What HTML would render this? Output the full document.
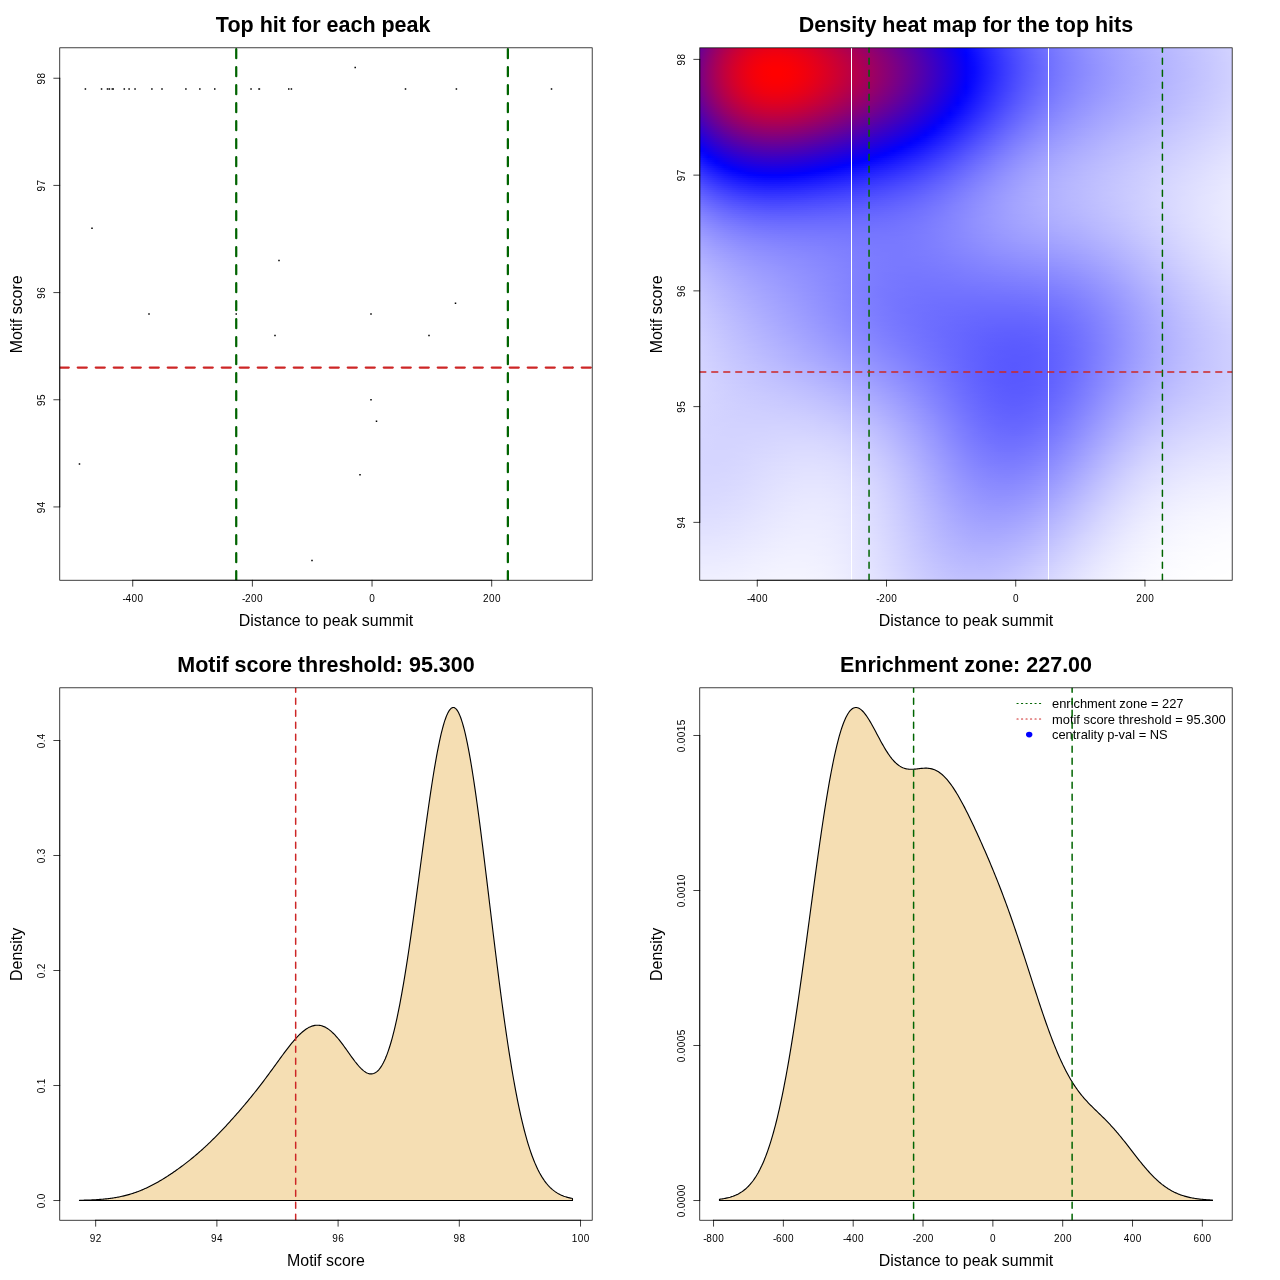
<!DOCTYPE html>
<html lang="en">
<head>
<meta charset="utf-8">
<title>Motif enrichment plots</title>
<style>
html,body{margin:0;padding:0;background:#fff}
body{width:1280px;height:1280px;position:relative;overflow:hidden;font-family:'Liberation Sans', Arial, Helvetica, sans-serif}
#hm{position:absolute;overflow:hidden}
#hm i{display:block;height:2.0016px}
svg{position:absolute;left:0;top:0}
text{font-family:'Liberation Sans', Arial, Helvetica, sans-serif;fill:#000;text-anchor:middle}
.t{font-size:10px;letter-spacing:0.44px}
.h{letter-spacing:-0.33px}
.d{letter-spacing:0.22px}
.l{font-size:15.94px}
.m{font-size:21.5px;font-weight:bold}
.g{font-size:12.9px;text-anchor:start}
</style>
</head>
<body>
<div id="hm" style="left:699.76px;top:47.81px;width:532.43px;height:532.43px"><i style="background:linear-gradient(90deg,#690096,#81007e,#980067,#ac0053,#be0041,#cd0032,#d80027,#e1001e,#e60019,#e90016,#e90016,#e70018,#e3001c,#dd0022,#d5002a,#cd0032,#c4003b,#ba0045,#b0004f,#a60059,#9c0063,#91006e,#870078,#7c0083,#70008f,#65009a,#5900a6,#4d00b2,#4000bf,#3300cc,#2500da,#1800e7,#0a00f5,#0404ff,#1111ff,#1e1eff,#2b2bff,#3737ff,#4343ff,#4d4dff,#5757ff,#6161ff,#6969ff,#7171ff,#7979ff,#7f7fff,#8686ff,#8b8bff,#9191ff,#9696ff,#9a9aff,#9f9fff,#a3a3ff,#a7a7ff,#ababff,#aeaeff,#b2b2ff,#b5b5ff,#b8b8ff,#bcbcff,#bfbfff,#c2c2ff,#c5c5ff,#c8c8ff,#ccccff,#cfcfff,#d2d2ff)"></i><i style="background:linear-gradient(90deg,#6b0094,#84007b,#9b0064,#af0050,#c1003e,#d0002f,#dc0023,#e4001b,#ea0015,#ed0012,#ed0012,#ea0015,#e60019,#e0001f,#d90026,#d0002f,#c70038,#bd0042,#b3004c,#a90056,#9f0060,#94006b,#890076,#7e0081,#73008c,#670098,#5b00a4,#4f00b0,#4200bd,#3500ca,#2700d8,#1900e6,#0c00f3,#0202ff,#1010ff,#1d1dff,#2a2aff,#3636ff,#4141ff,#4c4cff,#5757ff,#6060ff,#6969ff,#7171ff,#7878ff,#7f7fff,#8585ff,#8b8bff,#9090ff,#9595ff,#9a9aff,#9e9eff,#a2a2ff,#a6a6ff,#aaaaff,#aeaeff,#b1b1ff,#b5b5ff,#b8b8ff,#bbbbff,#bebeff,#c2c2ff,#c5c5ff,#c8c8ff,#cbcbff,#cfcfff,#d2d2ff)"></i><i style="background:linear-gradient(90deg,#6e0091,#870078,#9d0062,#b2004d,#c4003b,#d3002c,#df0020,#e70018,#ed0012,#f0000f,#f0000f,#ed0012,#e90016,#e3001c,#dc0023,#d3002c,#ca0035,#c0003f,#b60049,#ac0053,#a1005e,#970068,#8c0073,#81007e,#75008a,#690096,#5d00a2,#5100ae,#4400bb,#3600c9,#2900d6,#1b00e4,#0d00f2,#0101ff,#0e0eff,#1c1cff,#2929ff,#3535ff,#4141ff,#4b4bff,#5656ff,#5f5fff,#6868ff,#7070ff,#7777ff,#7e7eff,#8484ff,#8a8aff,#9090ff,#9595ff,#9999ff,#9e9eff,#a2a2ff,#a6a6ff,#aaaaff,#adadff,#b1b1ff,#b4b4ff,#b7b7ff,#bbbbff,#bebeff,#c1c1ff,#c4c4ff,#c8c8ff,#cbcbff,#ceceff,#d2d2ff)"></i><i style="background:linear-gradient(90deg,#70008f,#890076,#a0005f,#b5004a,#c70038,#d5002a,#e1001e,#ea0015,#f0000f,#f2000d,#f3000c,#f0000f,#ec0013,#e60019,#de0021,#d60029,#cc0033,#c3003c,#b90046,#ae0051,#a4005b,#990066,#8e0071,#83007c,#770088,#6b0094,#5f00a0,#5300ac,#4500ba,#3800c7,#2a00d5,#1c00e3,#0e00f1,#0100fe,#0d0dff,#1b1bff,#2828ff,#3434ff,#4040ff,#4b4bff,#5555ff,#5e5eff,#6767ff,#6f6fff,#7777ff,#7e7eff,#8484ff,#8a8aff,#8f8fff,#9494ff,#9999ff,#9d9dff,#a1a1ff,#a5a5ff,#a9a9ff,#adadff,#b0b0ff,#b4b4ff,#b7b7ff,#babaff,#bebeff,#c1c1ff,#c4c4ff,#c7c7ff,#cbcbff,#ceceff,#d2d2ff)"></i><i style="background:linear-gradient(90deg,#72008d,#8b0074,#a2005d,#b70048,#c90036,#d80027,#e4001b,#ed0012,#f2000d,#f5000a,#f5000a,#f3000c,#ee0011,#e80017,#e1001e,#d80027,#cf0030,#c5003a,#bb0044,#b0004f,#a60059,#9b0064,#90006f,#85007a,#790086,#6d0092,#61009e,#5400ab,#4700b8,#3900c6,#2c00d3,#1e00e1,#1000ef,#0200fd,#0c0cff,#1a1aff,#2727ff,#3333ff,#3f3fff,#4a4aff,#5454ff,#5e5eff,#6767ff,#6f6fff,#7676ff,#7d7dff,#8383ff,#8989ff,#8f8fff,#9494ff,#9898ff,#9d9dff,#a1a1ff,#a5a5ff,#a9a9ff,#acacff,#b0b0ff,#b3b3ff,#b7b7ff,#babaff,#bdbdff,#c0c0ff,#c4c4ff,#c7c7ff,#cacaff,#ceceff,#d1d1ff)"></i><i style="background:linear-gradient(90deg,#74008b,#8d0072,#a4005b,#b90046,#cb0034,#da0025,#e60019,#ef0010,#f5000a,#f70008,#f70008,#f5000a,#f0000f,#ea0015,#e3001c,#da0025,#d1002e,#c70038,#bd0042,#b2004d,#a70058,#9d0062,#91006e,#860079,#7b0084,#6f0090,#62009d,#5500aa,#4800b7,#3b00c4,#2d00d2,#1f00e0,#1100ee,#0300fc,#0b0bff,#1919ff,#2626ff,#3333ff,#3e3eff,#4949ff,#5454ff,#5d5dff,#6666ff,#6e6eff,#7676ff,#7d7dff,#8383ff,#8989ff,#8e8eff,#9393ff,#9898ff,#9c9cff,#a1a1ff,#a5a5ff,#a8a8ff,#acacff,#b0b0ff,#b3b3ff,#b6b6ff,#babaff,#bdbdff,#c0c0ff,#c4c4ff,#c7c7ff,#cacaff,#ceceff,#d1d1ff)"></i><i style="background:linear-gradient(90deg,#75008a,#8e0071,#a60059,#bb0044,#cd0032,#dc0023,#e80017,#f1000e,#f60009,#f90006,#f90006,#f70008,#f2000d,#ec0013,#e5001a,#dc0023,#d3002c,#c90036,#be0041,#b4004b,#a90056,#9e0061,#93006c,#880077,#7c0083,#70008f,#64009b,#5700a8,#4900b6,#3c00c3,#2e00d1,#2000df,#1100ee,#0300fc,#0b0bff,#1818ff,#2525ff,#3232ff,#3e3eff,#4949ff,#5353ff,#5d5dff,#6666ff,#6e6eff,#7575ff,#7c7cff,#8383ff,#8888ff,#8e8eff,#9393ff,#9898ff,#9c9cff,#a0a0ff,#a4a4ff,#a8a8ff,#acacff,#afafff,#b3b3ff,#b6b6ff,#b9b9ff,#bdbdff,#c0c0ff,#c3c3ff,#c7c7ff,#cacaff,#ceceff,#d1d1ff)"></i><i style="background:linear-gradient(90deg,#760089,#90006f,#a70058,#bc0043,#ce0031,#de0021,#ea0015,#f2000d,#f80007,#fb0004,#fb0004,#f90006,#f4000b,#ee0011,#e60019,#dd0022,#d4002b,#ca0035,#c0003f,#b5004a,#aa0055,#9f0060,#94006b,#890076,#7d0082,#71008e,#65009a,#5800a7,#4a00b5,#3d00c2,#2f00d0,#2000df,#1200ed,#0400fb,#0a0aff,#1818ff,#2525ff,#3232ff,#3d3dff,#4949ff,#5353ff,#5d5dff,#6666ff,#6e6eff,#7575ff,#7c7cff,#8282ff,#8888ff,#8e8eff,#9393ff,#9797ff,#9c9cff,#a0a0ff,#a4a4ff,#a8a8ff,#ababff,#afafff,#b2b2ff,#b6b6ff,#b9b9ff,#bcbcff,#c0c0ff,#c3c3ff,#c6c6ff,#cacaff,#cdcdff,#d1d1ff)"></i><i style="background:linear-gradient(90deg,#770088,#91006e,#a80057,#be0041,#d0002f,#df0020,#eb0014,#f4000b,#fa0005,#fc0003,#fc0003,#fa0005,#f5000a,#ef0010,#e70018,#df0020,#d5002a,#cb0034,#c1003e,#b60049,#ab0054,#a0005f,#95006a,#8a0075,#7e0081,#72008d,#65009a,#5800a7,#4b00b4,#3d00c2,#2f00d0,#2100de,#1300ec,#0400fb,#0a0aff,#1717ff,#2525ff,#3131ff,#3d3dff,#4848ff,#5353ff,#5c5cff,#6565ff,#6e6eff,#7575ff,#7c7cff,#8282ff,#8888ff,#8d8dff,#9292ff,#9797ff,#9c9cff,#a0a0ff,#a4a4ff,#a8a8ff,#ababff,#afafff,#b2b2ff,#b6b6ff,#b9b9ff,#bcbcff,#c0c0ff,#c3c3ff,#c6c6ff,#cacaff,#cdcdff,#d1d1ff)"></i><i style="background:linear-gradient(90deg,#780087,#92006d,#a90056,#bf0040,#d1002e,#e0001f,#ec0013,#f5000a,#fb0004,#fd0002,#fd0002,#fb0004,#f60009,#f0000f,#e80017,#e0001f,#d60029,#cc0033,#c2003d,#b70048,#ac0053,#a1005e,#960069,#8a0075,#7f0080,#73008c,#660099,#5900a6,#4c00b3,#3e00c1,#3000cf,#2100de,#1300ec,#0500fa,#0909ff,#1717ff,#2424ff,#3131ff,#3d3dff,#4848ff,#5353ff,#5c5cff,#6565ff,#6d6dff,#7575ff,#7c7cff,#8282ff,#8888ff,#8d8dff,#9292ff,#9797ff,#9b9bff,#a0a0ff,#a4a4ff,#a7a7ff,#ababff,#afafff,#b2b2ff,#b6b6ff,#b9b9ff,#bcbcff,#c0c0ff,#c3c3ff,#c6c6ff,#cacaff,#cdcdff,#d1d1ff)"></i><i style="background:linear-gradient(90deg,#790086,#93006c,#aa0055,#bf0040,#d2002d,#e1001e,#ed0012,#f60009,#fb0004,#fe0001,#fe0001,#fc0003,#f70008,#f1000e,#e90016,#e0001f,#d70028,#cd0032,#c2003d,#b80047,#ad0052,#a2005d,#960069,#8b0074,#7f0080,#73008c,#660099,#5900a6,#4c00b3,#3e00c1,#3000cf,#2200dd,#1300ec,#0500fa,#0909ff,#1717ff,#2424ff,#3131ff,#3d3dff,#4848ff,#5353ff,#5c5cff,#6565ff,#6d6dff,#7575ff,#7c7cff,#8282ff,#8888ff,#8d8dff,#9292ff,#9797ff,#9b9bff,#a0a0ff,#a4a4ff,#a7a7ff,#ababff,#afafff,#b2b2ff,#b5b5ff,#b9b9ff,#bcbcff,#bfbfff,#c3c3ff,#c6c6ff,#cacaff,#cdcdff,#d1d1ff)"></i><i style="background:linear-gradient(90deg,#790086,#93006c,#ab0054,#c0003f,#d2002d,#e1001e,#ed0012,#f60009,#fc0003,#ff0000,#ff0000,#fc0003,#f70008,#f1000e,#e90016,#e1001e,#d70028,#cd0032,#c3003c,#b80047,#ad0052,#a2005d,#970068,#8b0074,#7f0080,#73008c,#670098,#5a00a5,#4c00b3,#3e00c1,#3000cf,#2200dd,#1300ec,#0500fa,#0909ff,#1717ff,#2424ff,#3131ff,#3d3dff,#4848ff,#5353ff,#5c5cff,#6565ff,#6d6dff,#7575ff,#7c7cff,#8282ff,#8888ff,#8d8dff,#9292ff,#9797ff,#9b9bff,#a0a0ff,#a4a4ff,#a7a7ff,#ababff,#afafff,#b2b2ff,#b5b5ff,#b9b9ff,#bcbcff,#bfbfff,#c3c3ff,#c6c6ff,#cacaff,#cdcdff,#d1d1ff)"></i><i style="background:linear-gradient(90deg,#7a0085,#93006c,#ab0054,#c0003f,#d2002d,#e1001e,#ee0011,#f60009,#fc0003,#ff0000,#ff0000,#fc0003,#f80007,#f1000e,#ea0015,#e1001e,#d70028,#cd0032,#c3003c,#b80047,#ad0052,#a2005d,#970068,#8b0074,#7f0080,#73008c,#670098,#5a00a5,#4c00b3,#3e00c1,#3000cf,#2200dd,#1300ec,#0500fa,#0909ff,#1717ff,#2424ff,#3131ff,#3d3dff,#4848ff,#5353ff,#5d5dff,#6565ff,#6e6eff,#7575ff,#7c7cff,#8282ff,#8888ff,#8d8dff,#9292ff,#9797ff,#9b9bff,#a0a0ff,#a4a4ff,#a7a7ff,#ababff,#afafff,#b2b2ff,#b5b5ff,#b9b9ff,#bcbcff,#bfbfff,#c3c3ff,#c6c6ff,#cacaff,#cdcdff,#d1d1ff)"></i><i style="background:linear-gradient(90deg,#7a0085,#93006c,#ab0054,#c0003f,#d2002d,#e1001e,#ed0012,#f60009,#fc0003,#ff0000,#ff0000,#fc0003,#f70008,#f1000e,#e90016,#e1001e,#d70028,#cd0032,#c3003c,#b80047,#ad0052,#a2005d,#970068,#8b0074,#7f0080,#73008c,#660099,#5900a6,#4c00b3,#3e00c1,#3000cf,#2100de,#1300ec,#0500fa,#0a0aff,#1717ff,#2525ff,#3131ff,#3d3dff,#4949ff,#5353ff,#5d5dff,#6666ff,#6e6eff,#7575ff,#7c7cff,#8282ff,#8888ff,#8d8dff,#9292ff,#9797ff,#9b9bff,#a0a0ff,#a4a4ff,#a7a7ff,#ababff,#afafff,#b2b2ff,#b5b5ff,#b9b9ff,#bcbcff,#bfbfff,#c3c3ff,#c6c6ff,#cacaff,#cdcdff,#d1d1ff)"></i><i style="background:linear-gradient(90deg,#7a0085,#93006c,#ab0054,#c0003f,#d2002d,#e1001e,#ed0012,#f60009,#fb0004,#fe0001,#fe0001,#fc0003,#f70008,#f1000e,#e90016,#e0001f,#d70028,#cd0032,#c2003d,#b70048,#ad0052,#a1005e,#960069,#8b0074,#7f0080,#73008c,#660099,#5900a6,#4b00b4,#3e00c1,#2f00d0,#2100de,#1300ec,#0400fb,#0a0aff,#1818ff,#2525ff,#3232ff,#3e3eff,#4949ff,#5454ff,#5d5dff,#6666ff,#6e6eff,#7676ff,#7c7cff,#8383ff,#8888ff,#8e8eff,#9393ff,#9797ff,#9c9cff,#a0a0ff,#a4a4ff,#a8a8ff,#ababff,#afafff,#b2b2ff,#b6b6ff,#b9b9ff,#bcbcff,#bfbfff,#c3c3ff,#c6c6ff,#cacaff,#cdcdff,#d1d1ff)"></i><i style="background:linear-gradient(90deg,#790086,#93006c,#aa0055,#bf0040,#d1002e,#e0001f,#ec0013,#f5000a,#fb0004,#fd0002,#fd0002,#fb0004,#f60009,#f0000f,#e80017,#df0020,#d60029,#cc0033,#c1003e,#b70048,#ac0053,#a1005e,#960069,#8a0075,#7e0081,#72008d,#65009a,#5800a7,#4b00b4,#3d00c2,#2f00d0,#2000df,#1200ed,#0400fb,#0b0bff,#1818ff,#2626ff,#3232ff,#3e3eff,#4a4aff,#5454ff,#5e5eff,#6666ff,#6e6eff,#7676ff,#7d7dff,#8383ff,#8989ff,#8e8eff,#9393ff,#9797ff,#9c9cff,#a0a0ff,#a4a4ff,#a8a8ff,#ababff,#afafff,#b2b2ff,#b6b6ff,#b9b9ff,#bcbcff,#c0c0ff,#c3c3ff,#c6c6ff,#cacaff,#cdcdff,#d1d1ff)"></i><i style="background:linear-gradient(90deg,#780087,#92006d,#a90056,#be0041,#d0002f,#df0020,#eb0014,#f4000b,#fa0005,#fc0003,#fc0003,#fa0005,#f5000a,#ef0010,#e70018,#de0021,#d5002a,#cb0034,#c0003f,#b60049,#ab0054,#a0005f,#95006a,#890076,#7d0082,#71008e,#65009a,#5800a7,#4a00b5,#3c00c3,#2e00d1,#2000df,#1100ee,#0300fc,#0b0bff,#1919ff,#2626ff,#3333ff,#3f3fff,#4a4aff,#5555ff,#5e5eff,#6767ff,#6f6fff,#7676ff,#7d7dff,#8383ff,#8989ff,#8e8eff,#9393ff,#9898ff,#9c9cff,#a0a0ff,#a4a4ff,#a8a8ff,#acacff,#afafff,#b2b2ff,#b6b6ff,#b9b9ff,#bcbcff,#c0c0ff,#c3c3ff,#c6c6ff,#cacaff,#cdcdff,#d1d1ff)"></i><i style="background:linear-gradient(90deg,#780087,#91006e,#a80057,#bd0042,#cf0030,#de0021,#ea0015,#f3000c,#f80007,#fb0004,#fb0004,#f80007,#f4000b,#ed0012,#e60019,#dd0022,#d4002b,#ca0035,#bf0040,#b5004a,#aa0055,#9f0060,#94006b,#880077,#7c0083,#70008f,#64009b,#5700a8,#4900b6,#3b00c4,#2d00d2,#1f00e0,#1000ef,#0200fd,#0c0cff,#1a1aff,#2727ff,#3434ff,#4040ff,#4b4bff,#5555ff,#5f5fff,#6767ff,#6f6fff,#7777ff,#7e7eff,#8484ff,#8989ff,#8f8fff,#9393ff,#9898ff,#9c9cff,#a0a0ff,#a4a4ff,#a8a8ff,#acacff,#afafff,#b3b3ff,#b6b6ff,#b9b9ff,#bdbdff,#c0c0ff,#c3c3ff,#c7c7ff,#cacaff,#cdcdff,#d1d1ff)"></i><i style="background:linear-gradient(90deg,#770088,#90006f,#a70058,#bc0043,#ce0031,#dd0022,#e90016,#f1000e,#f70008,#f90006,#f90006,#f70008,#f2000d,#ec0013,#e4001b,#db0024,#d2002d,#c80037,#be0041,#b3004c,#a80057,#9d0062,#92006d,#870078,#7b0084,#6f0090,#62009d,#5500aa,#4800b7,#3a00c5,#2c00d3,#1e00e1,#0f00f0,#0100fe,#0d0dff,#1b1bff,#2828ff,#3535ff,#4040ff,#4c4cff,#5656ff,#5f5fff,#6868ff,#7070ff,#7777ff,#7e7eff,#8484ff,#8a8aff,#8f8fff,#9494ff,#9898ff,#9d9dff,#a1a1ff,#a5a5ff,#a8a8ff,#acacff,#b0b0ff,#b3b3ff,#b6b6ff,#babaff,#bdbdff,#c0c0ff,#c3c3ff,#c7c7ff,#cacaff,#ceceff,#d1d1ff)"></i><i style="background:linear-gradient(90deg,#75008a,#8e0071,#a60059,#ba0045,#cc0033,#db0024,#e70018,#ef0010,#f5000a,#f70008,#f70008,#f5000a,#f0000f,#ea0015,#e2001d,#da0025,#d0002f,#c60039,#bc0043,#b1004e,#a70058,#9c0063,#91006e,#85007a,#790086,#6d0092,#61009e,#5400ab,#4700b8,#3900c6,#2b00d4,#1c00e3,#0e00f1,#0000ff,#0e0eff,#1c1cff,#2929ff,#3636ff,#4141ff,#4c4cff,#5757ff,#6060ff,#6969ff,#7171ff,#7878ff,#7f7fff,#8585ff,#8a8aff,#9090ff,#9494ff,#9999ff,#9d9dff,#a1a1ff,#a5a5ff,#a9a9ff,#acacff,#b0b0ff,#b3b3ff,#b7b7ff,#babaff,#bdbdff,#c0c0ff,#c4c4ff,#c7c7ff,#cacaff,#ceceff,#d1d1ff)"></i><i style="background:linear-gradient(90deg,#74008b,#8d0072,#a4005b,#b80047,#ca0035,#d90026,#e5001a,#ed0012,#f3000c,#f5000a,#f5000a,#f3000c,#ee0011,#e80017,#e0001f,#d70028,#ce0031,#c4003b,#ba0045,#af0050,#a5005a,#9a0065,#8f0070,#83007c,#780087,#6c0093,#5f00a0,#5200ad,#4500ba,#3700c8,#2900d6,#1b00e4,#0d00f2,#0101ff,#0f0fff,#1d1dff,#2a2aff,#3737ff,#4242ff,#4d4dff,#5858ff,#6161ff,#6a6aff,#7272ff,#7979ff,#7f7fff,#8585ff,#8b8bff,#9090ff,#9595ff,#9999ff,#9e9eff,#a2a2ff,#a5a5ff,#a9a9ff,#adadff,#b0b0ff,#b4b4ff,#b7b7ff,#babaff,#bdbdff,#c1c1ff,#c4c4ff,#c7c7ff,#cbcbff,#ceceff,#d2d2ff)"></i><i style="background:linear-gradient(90deg,#72008d,#8b0074,#a2005d,#b60049,#c80037,#d70028,#e2001d,#eb0014,#f0000f,#f3000c,#f3000c,#f0000f,#ec0013,#e5001a,#de0021,#d5002a,#cc0033,#c2003d,#b80047,#ad0052,#a3005c,#980067,#8d0072,#81007e,#760089,#6a0095,#5e00a1,#5100ae,#4300bc,#3600c9,#2800d7,#1a00e5,#0b00f4,#0303ff,#1111ff,#1e1eff,#2b2bff,#3838ff,#4343ff,#4e4eff,#5959ff,#6262ff,#6b6bff,#7272ff,#7a7aff,#8080ff,#8686ff,#8c8cff,#9191ff,#9595ff,#9a9aff,#9e9eff,#a2a2ff,#a6a6ff,#aaaaff,#adadff,#b1b1ff,#b4b4ff,#b7b7ff,#bbbbff,#bebeff,#c1c1ff,#c4c4ff,#c8c8ff,#cbcbff,#ceceff,#d2d2ff)"></i><i style="background:linear-gradient(90deg,#70008f,#890076,#a0005f,#b4004b,#c60039,#d4002b,#e0001f,#e80017,#ee0011,#f0000f,#f0000f,#ed0012,#e90016,#e3001c,#db0024,#d2002d,#c90036,#bf0040,#b5004a,#ab0054,#a0005f,#95006a,#8b0074,#7f0080,#74008b,#680097,#5c00a3,#4f00b0,#4200bd,#3400cb,#2600d9,#1800e7,#0a00f5,#0404ff,#1212ff,#2020ff,#2d2dff,#3939ff,#4545ff,#5050ff,#5a5aff,#6363ff,#6b6bff,#7373ff,#7a7aff,#8181ff,#8787ff,#8c8cff,#9191ff,#9696ff,#9a9aff,#9f9fff,#a3a3ff,#a6a6ff,#aaaaff,#aeaeff,#b1b1ff,#b4b4ff,#b8b8ff,#bbbbff,#bebeff,#c1c1ff,#c5c5ff,#c8c8ff,#cbcbff,#cfcfff,#d2d2ff)"></i><i style="background:linear-gradient(90deg,#6e0091,#870078,#9d0062,#b2004d,#c3003c,#d2002d,#dd0022,#e5001a,#eb0014,#ed0012,#ed0012,#ea0015,#e60019,#e0001f,#d80027,#d0002f,#c60039,#bd0042,#b2004d,#a80057,#9e0061,#93006c,#880077,#7d0082,#71008e,#660099,#5900a6,#4d00b2,#4000bf,#3200cd,#2400db,#1600e9,#0800f7,#0606ff,#1414ff,#2121ff,#2e2eff,#3a3aff,#4646ff,#5151ff,#5b5bff,#6464ff,#6c6cff,#7474ff,#7b7bff,#8282ff,#8888ff,#8d8dff,#9292ff,#9797ff,#9b9bff,#9f9fff,#a3a3ff,#a7a7ff,#ababff,#aeaeff,#b2b2ff,#b5b5ff,#b8b8ff,#bbbbff,#bfbfff,#c2c2ff,#c5c5ff,#c8c8ff,#ccccff,#cfcfff,#d2d2ff)"></i><i style="background:linear-gradient(90deg,#6c0093,#84007b,#9b0064,#af0050,#c0003f,#cf0030,#da0025,#e2001d,#e70018,#ea0015,#ea0015,#e70018,#e3001c,#dc0023,#d5002a,#cc0033,#c3003c,#ba0045,#b0004f,#a5005a,#9b0064,#90006f,#85007a,#7a0085,#6f0090,#63009c,#5700a8,#4a00b5,#3d00c2,#3000cf,#2200dd,#1400eb,#0600f9,#0808ff,#1515ff,#2323ff,#3030ff,#3c3cff,#4747ff,#5252ff,#5c5cff,#6565ff,#6e6eff,#7575ff,#7c7cff,#8383ff,#8888ff,#8e8eff,#9393ff,#9797ff,#9c9cff,#a0a0ff,#a4a4ff,#a8a8ff,#ababff,#afafff,#b2b2ff,#b5b5ff,#b9b9ff,#bcbcff,#bfbfff,#c2c2ff,#c5c5ff,#c9c9ff,#ccccff,#cfcfff,#d3d3ff)"></i><i style="background:linear-gradient(90deg,#690096,#82007d,#980067,#ac0053,#bd0042,#cb0034,#d70028,#df0020,#e4001b,#e60019,#e60019,#e4001b,#df0020,#d90026,#d1002e,#c90036,#c0003f,#b60049,#ac0053,#a2005d,#980067,#8d0072,#83007c,#780087,#6c0093,#61009e,#5500aa,#4800b7,#3b00c4,#2e00d1,#2000df,#1200ed,#0400fb,#0a0aff,#1717ff,#2424ff,#3131ff,#3d3dff,#4949ff,#5353ff,#5d5dff,#6666ff,#6f6fff,#7676ff,#7d7dff,#8484ff,#8989ff,#8f8fff,#9494ff,#9898ff,#9d9dff,#a1a1ff,#a4a4ff,#a8a8ff,#acacff,#afafff,#b3b3ff,#b6b6ff,#b9b9ff,#bcbcff,#bfbfff,#c3c3ff,#c6c6ff,#c9c9ff,#ccccff,#d0d0ff,#d3d3ff)"></i><i style="background:linear-gradient(90deg,#670098,#7f0080,#95006a,#a90056,#ba0045,#c80037,#d3002c,#db0024,#e0001f,#e3001c,#e2001d,#e0001f,#db0024,#d5002a,#ce0031,#c5003a,#bc0043,#b3004c,#a90056,#9f0060,#95006a,#8a0075,#80007f,#75008a,#6a0095,#5e00a1,#5200ad,#4500ba,#3900c6,#2b00d4,#1e00e1,#1000ef,#0200fd,#0b0bff,#1919ff,#2626ff,#3333ff,#3f3fff,#4a4aff,#5555ff,#5f5fff,#6868ff,#7070ff,#7777ff,#7e7eff,#8585ff,#8a8aff,#9090ff,#9494ff,#9999ff,#9d9dff,#a1a1ff,#a5a5ff,#a9a9ff,#acacff,#b0b0ff,#b3b3ff,#b6b6ff,#babaff,#bdbdff,#c0c0ff,#c3c3ff,#c6c6ff,#c9c9ff,#cdcdff,#d0d0ff,#d3d3ff)"></i><i style="background:linear-gradient(90deg,#64009b,#7c0083,#92006d,#a5005a,#b60049,#c4003b,#cf0030,#d70028,#dc0023,#df0020,#de0021,#dc0023,#d70028,#d1002e,#ca0035,#c2003d,#b90046,#af0050,#a5005a,#9b0064,#91006e,#870078,#7c0083,#72008d,#670098,#5b00a4,#4f00b0,#4300bc,#3600c9,#2900d6,#1b00e4,#0e00f1,#0000ff,#0e0eff,#1b1bff,#2828ff,#3535ff,#4141ff,#4c4cff,#5656ff,#6060ff,#6969ff,#7171ff,#7979ff,#7f7fff,#8686ff,#8b8bff,#9191ff,#9595ff,#9a9aff,#9e9eff,#a2a2ff,#a6a6ff,#aaaaff,#adadff,#b0b0ff,#b4b4ff,#b7b7ff,#babaff,#bdbdff,#c0c0ff,#c4c4ff,#c7c7ff,#cacaff,#cdcdff,#d0d0ff,#d4d4ff)"></i><i style="background:linear-gradient(90deg,#61009e,#790086,#8e0071,#a2005d,#b2004d,#c0003f,#cb0034,#d3002c,#d80027,#da0025,#da0025,#d70028,#d3002c,#cd0032,#c60039,#be0041,#b5004a,#ab0054,#a2005d,#980067,#8e0071,#83007c,#790086,#6e0091,#63009c,#5800a7,#4c00b3,#4000bf,#3300cc,#2600d9,#1900e6,#0b00f4,#0202ff,#1010ff,#1d1dff,#2a2aff,#3636ff,#4242ff,#4d4dff,#5858ff,#6262ff,#6a6aff,#7272ff,#7a7aff,#8181ff,#8787ff,#8c8cff,#9292ff,#9696ff,#9b9bff,#9f9fff,#a3a3ff,#a7a7ff,#aaaaff,#aeaeff,#b1b1ff,#b4b4ff,#b8b8ff,#bbbbff,#bebeff,#c1c1ff,#c4c4ff,#c7c7ff,#cacaff,#ceceff,#d1d1ff,#d4d4ff)"></i><i style="background:linear-gradient(90deg,#5e00a1,#75008a,#8b0074,#9e0061,#af0050,#bc0043,#c70038,#cf0030,#d4002b,#d60029,#d60029,#d3002c,#cf0030,#c90036,#c1003e,#b90046,#b1004e,#a70058,#9e0061,#94006b,#8a0075,#80007f,#760089,#6b0094,#60009f,#5500aa,#4900b6,#3d00c2,#3000cf,#2300dc,#1600e9,#0900f6,#0505ff,#1212ff,#1f1fff,#2c2cff,#3838ff,#4444ff,#4f4fff,#5a5aff,#6363ff,#6c6cff,#7474ff,#7b7bff,#8282ff,#8888ff,#8d8dff,#9393ff,#9797ff,#9c9cff,#a0a0ff,#a4a4ff,#a7a7ff,#ababff,#aeaeff,#b2b2ff,#b5b5ff,#b8b8ff,#bbbbff,#bebeff,#c2c2ff,#c5c5ff,#c8c8ff,#cbcbff,#ceceff,#d1d1ff,#d5d5ff)"></i><i style="background:linear-gradient(90deg,#5b00a4,#72008d,#870078,#9a0065,#aa0055,#b80047,#c3003c,#ca0035,#cf0030,#d1002e,#d1002e,#ce0031,#ca0035,#c4003b,#bd0042,#b5004a,#ac0053,#a3005c,#9a0065,#90006f,#860079,#7c0083,#72008d,#670098,#5d00a2,#5100ae,#4600b9,#3a00c5,#2d00d2,#2100de,#1400eb,#0600f9,#0707ff,#1414ff,#2121ff,#2e2eff,#3a3aff,#4646ff,#5151ff,#5b5bff,#6565ff,#6d6dff,#7575ff,#7d7dff,#8383ff,#8989ff,#8f8fff,#9494ff,#9898ff,#9d9dff,#a1a1ff,#a5a5ff,#a8a8ff,#acacff,#afafff,#b3b3ff,#b6b6ff,#b9b9ff,#bcbcff,#bfbfff,#c2c2ff,#c5c5ff,#c8c8ff,#cbcbff,#cfcfff,#d2d2ff,#d5d5ff)"></i><i style="background:linear-gradient(90deg,#5700a8,#6e0091,#83007c,#960069,#a60059,#b3004c,#be0041,#c5003a,#ca0035,#cc0033,#cc0033,#ca0035,#c5003a,#bf0040,#b80047,#b0004f,#a80057,#9f0060,#95006a,#8c0073,#82007d,#780087,#6e0091,#64009b,#5900a6,#4e00b1,#4200bd,#3700c8,#2a00d5,#1e00e1,#1100ee,#0400fb,#0a0aff,#1717ff,#2424ff,#3030ff,#3c3cff,#4848ff,#5353ff,#5d5dff,#6666ff,#6f6fff,#7777ff,#7e7eff,#8484ff,#8a8aff,#9090ff,#9595ff,#9999ff,#9e9eff,#a2a2ff,#a5a5ff,#a9a9ff,#adadff,#b0b0ff,#b3b3ff,#b7b7ff,#babaff,#bdbdff,#c0c0ff,#c3c3ff,#c6c6ff,#c9c9ff,#ccccff,#cfcfff,#d2d2ff,#d6d6ff)"></i><i style="background:linear-gradient(90deg,#5400ab,#6a0095,#7f0080,#92006d,#a2005d,#af0050,#b90046,#c1003e,#c5003a,#c70038,#c70038,#c4003b,#c0003f,#ba0045,#b3004c,#ab0054,#a3005c,#9a0065,#91006e,#870078,#7e0081,#74008b,#6a0095,#60009f,#5500aa,#4a00b5,#3f00c0,#3300cc,#2700d8,#1b00e4,#0e00f1,#0100fe,#0c0cff,#1919ff,#2626ff,#3333ff,#3f3fff,#4a4aff,#5555ff,#5f5fff,#6868ff,#7070ff,#7878ff,#7f7fff,#8686ff,#8c8cff,#9191ff,#9696ff,#9a9aff,#9f9fff,#a3a3ff,#a6a6ff,#aaaaff,#adadff,#b1b1ff,#b4b4ff,#b7b7ff,#babaff,#bdbdff,#c0c0ff,#c3c3ff,#c6c6ff,#cacaff,#cdcdff,#d0d0ff,#d3d3ff,#d6d6ff)"></i><i style="background:linear-gradient(90deg,#5000af,#660099,#7b0084,#8d0072,#9d0062,#aa0055,#b4004b,#bb0044,#c0003f,#c2003d,#c2003d,#bf0040,#bb0044,#b5004a,#ae0051,#a70058,#9e0061,#95006a,#8c0073,#83007c,#790086,#70008f,#660099,#5c00a3,#5100ae,#4700b8,#3b00c4,#3000cf,#2400db,#1700e8,#0b00f4,#0202ff,#0f0fff,#1c1cff,#2929ff,#3535ff,#4141ff,#4c4cff,#5757ff,#6161ff,#6a6aff,#7272ff,#7a7aff,#8181ff,#8787ff,#8d8dff,#9292ff,#9797ff,#9b9bff,#a0a0ff,#a4a4ff,#a7a7ff,#ababff,#aeaeff,#b2b2ff,#b5b5ff,#b8b8ff,#bbbbff,#bebeff,#c1c1ff,#c4c4ff,#c7c7ff,#cacaff,#cdcdff,#d0d0ff,#d3d3ff,#d7d7ff)"></i><i style="background:linear-gradient(90deg,#4c00b3,#62009d,#760089,#880077,#980067,#a5005a,#af0050,#b60049,#bb0044,#bd0042,#bc0043,#ba0045,#b60049,#b0004f,#a90056,#a1005e,#990066,#90006f,#870078,#7e0081,#75008a,#6b0094,#62009d,#5800a7,#4d00b2,#4300bc,#3800c7,#2c00d3,#2000df,#1400eb,#0800f7,#0505ff,#1212ff,#1f1fff,#2b2bff,#3737ff,#4343ff,#4e4eff,#5959ff,#6262ff,#6b6bff,#7474ff,#7b7bff,#8282ff,#8888ff,#8e8eff,#9393ff,#9898ff,#9d9dff,#a1a1ff,#a5a5ff,#a8a8ff,#acacff,#afafff,#b3b3ff,#b6b6ff,#b9b9ff,#bcbcff,#bfbfff,#c2c2ff,#c5c5ff,#c8c8ff,#cbcbff,#ceceff,#d1d1ff,#d4d4ff,#d7d7ff)"></i><i style="background:linear-gradient(90deg,#4800b7,#5e00a1,#72008d,#84007b,#93006c,#a0005f,#aa0055,#b1004e,#b5004a,#b70048,#b70048,#b4004b,#b0004f,#aa0055,#a4005b,#9c0063,#94006b,#8b0074,#82007d,#790086,#70008f,#670098,#5d00a2,#5300ac,#4900b6,#3f00c0,#3400cb,#2900d6,#1d00e2,#1100ee,#0400fb,#0808ff,#1515ff,#2121ff,#2e2eff,#3a3aff,#4545ff,#5050ff,#5b5bff,#6464ff,#6d6dff,#7575ff,#7d7dff,#8484ff,#8a8aff,#8f8fff,#9595ff,#9999ff,#9e9eff,#a2a2ff,#a6a6ff,#a9a9ff,#adadff,#b0b0ff,#b3b3ff,#b7b7ff,#babaff,#bdbdff,#c0c0ff,#c3c3ff,#c6c6ff,#c8c8ff,#cbcbff,#ceceff,#d1d1ff,#d4d4ff,#d8d8ff)"></i><i style="background:linear-gradient(90deg,#4400bb,#5a00a5,#6d0092,#7f0080,#8e0071,#9a0065,#a4005b,#ab0054,#af0050,#b1004e,#b1004e,#ae0051,#aa0055,#a5005a,#9e0061,#970068,#8f0070,#860079,#7d0082,#74008b,#6b0094,#62009d,#5900a6,#4f00b0,#4500ba,#3b00c4,#3000cf,#2500da,#1900e6,#0d00f2,#0100fe,#0b0bff,#1818ff,#2424ff,#3030ff,#3c3cff,#4848ff,#5353ff,#5d5dff,#6666ff,#6f6fff,#7777ff,#7f7fff,#8585ff,#8b8bff,#9191ff,#9696ff,#9b9bff,#9f9fff,#a3a3ff,#a7a7ff,#aaaaff,#aeaeff,#b1b1ff,#b4b4ff,#b7b7ff,#babaff,#bdbdff,#c0c0ff,#c3c3ff,#c6c6ff,#c9c9ff,#ccccff,#cfcfff,#d2d2ff,#d5d5ff,#d8d8ff)"></i><i style="background:linear-gradient(90deg,#4000bf,#5500aa,#690096,#7a0085,#890076,#95006a,#9e0061,#a5005a,#aa0055,#ab0054,#ab0054,#a90056,#a5005a,#9f0060,#980067,#91006e,#890076,#81007e,#780087,#6f0090,#670098,#5d00a2,#5400ab,#4b00b4,#4100be,#3700c8,#2c00d3,#2100de,#1600e9,#0a00f5,#0202ff,#0e0eff,#1b1bff,#2727ff,#3333ff,#3f3fff,#4a4aff,#5555ff,#5f5fff,#6868ff,#7171ff,#7979ff,#8080ff,#8787ff,#8d8dff,#9292ff,#9797ff,#9c9cff,#a0a0ff,#a4a4ff,#a8a8ff,#ababff,#afafff,#b2b2ff,#b5b5ff,#b8b8ff,#bbbbff,#bebeff,#c1c1ff,#c4c4ff,#c7c7ff,#cacaff,#cdcdff,#d0d0ff,#d3d3ff,#d6d6ff,#d9d9ff)"></i><i style="background:linear-gradient(90deg,#3c00c3,#5100ae,#64009b,#75008a,#83007c,#8f0070,#990066,#9f0060,#a4005b,#a5005a,#a5005a,#a3005c,#9f0060,#990066,#93006c,#8b0074,#84007b,#7b0084,#73008c,#6a0095,#62009d,#5900a6,#4f00b0,#4600b9,#3c00c3,#3200cd,#2800d7,#1d00e2,#1200ed,#0600f9,#0606ff,#1212ff,#1e1eff,#2a2aff,#3636ff,#4141ff,#4d4dff,#5757ff,#6161ff,#6a6aff,#7373ff,#7b7bff,#8282ff,#8888ff,#8e8eff,#9494ff,#9999ff,#9d9dff,#a1a1ff,#a5a5ff,#a9a9ff,#acacff,#b0b0ff,#b3b3ff,#b6b6ff,#b9b9ff,#bcbcff,#bfbfff,#c2c2ff,#c5c5ff,#c8c8ff,#cbcbff,#cdcdff,#d0d0ff,#d3d3ff,#d6d6ff,#d9d9ff)"></i><i style="background:linear-gradient(90deg,#3700c8,#4c00b3,#5f00a0,#6f0090,#7e0081,#8a0075,#93006c,#990066,#9e0061,#9f0060,#9f0060,#9c0063,#980067,#93006c,#8d0072,#860079,#7e0081,#760089,#6e0091,#65009a,#5c00a3,#5400ab,#4b00b4,#4200bd,#3800c7,#2e00d1,#2400db,#1900e6,#0e00f1,#0300fc,#0909ff,#1515ff,#2121ff,#2d2dff,#3939ff,#4444ff,#4f4fff,#5959ff,#6363ff,#6c6cff,#7575ff,#7c7cff,#8484ff,#8a8aff,#9090ff,#9595ff,#9a9aff,#9e9eff,#a2a2ff,#a6a6ff,#aaaaff,#adadff,#b1b1ff,#b4b4ff,#b7b7ff,#babaff,#bdbdff,#c0c0ff,#c3c3ff,#c6c6ff,#c8c8ff,#cbcbff,#ceceff,#d1d1ff,#d4d4ff,#d7d7ff,#dadaff)"></i><i style="background:linear-gradient(90deg,#3300cc,#4700b8,#5a00a5,#6a0095,#780087,#84007b,#8d0072,#93006c,#970068,#990066,#990066,#960069,#92006d,#8d0072,#870078,#80007f,#780087,#70008f,#680097,#60009f,#5700a8,#4f00b0,#4600b9,#3d00c2,#3400cb,#2a00d5,#2000df,#1500ea,#0a00f5,#0101ff,#0d0dff,#1818ff,#2424ff,#3030ff,#3b3bff,#4747ff,#5151ff,#5c5cff,#6565ff,#6e6eff,#7777ff,#7e7eff,#8585ff,#8b8bff,#9191ff,#9696ff,#9b9bff,#a0a0ff,#a4a4ff,#a7a7ff,#ababff,#aeaeff,#b2b2ff,#b5b5ff,#b8b8ff,#bbbbff,#bebeff,#c1c1ff,#c4c4ff,#c6c6ff,#c9c9ff,#ccccff,#cfcfff,#d2d2ff,#d5d5ff,#d7d7ff,#dadaff)"></i><i style="background:linear-gradient(90deg,#2e00d1,#4200bd,#5400ab,#65009a,#72008d,#7e0081,#870078,#8d0072,#91006e,#93006c,#92006d,#90006f,#8c0073,#870078,#81007e,#7a0085,#72008d,#6b0094,#63009c,#5a00a5,#5200ad,#4a00b5,#4100be,#3800c7,#2f00d0,#2500da,#1c00e3,#1100ee,#0600f9,#0505ff,#1010ff,#1c1cff,#2727ff,#3333ff,#3e3eff,#4949ff,#5454ff,#5e5eff,#6868ff,#7070ff,#7979ff,#8080ff,#8787ff,#8d8dff,#9393ff,#9898ff,#9d9dff,#a1a1ff,#a5a5ff,#a9a9ff,#acacff,#afafff,#b3b3ff,#b6b6ff,#b9b9ff,#bcbcff,#bfbfff,#c2c2ff,#c4c4ff,#c7c7ff,#cacaff,#cdcdff,#d0d0ff,#d2d2ff,#d5d5ff,#d8d8ff,#dbdbff)"></i><i style="background:linear-gradient(90deg,#2a00d5,#3d00c2,#4f00b0,#5f00a0,#6d0092,#780087,#81007e,#870078,#8b0074,#8c0073,#8c0073,#8a0075,#860079,#81007e,#7b0084,#74008b,#6c0093,#65009a,#5d00a2,#5500aa,#4d00b2,#4500ba,#3c00c3,#3300cc,#2a00d5,#2100de,#1700e8,#0d00f2,#0300fc,#0808ff,#1414ff,#1f1fff,#2a2aff,#3636ff,#4141ff,#4c4cff,#5656ff,#6060ff,#6a6aff,#7272ff,#7b7bff,#8282ff,#8989ff,#8f8fff,#9494ff,#9999ff,#9e9eff,#a2a2ff,#a6a6ff,#aaaaff,#adadff,#b1b1ff,#b4b4ff,#b7b7ff,#babaff,#bdbdff,#c0c0ff,#c2c2ff,#c5c5ff,#c8c8ff,#cbcbff,#ceceff,#d0d0ff,#d3d3ff,#d6d6ff,#d9d9ff,#dcdcff)"></i><i style="background:linear-gradient(90deg,#2500da,#3800c7,#4a00b5,#5900a6,#670098,#72008d,#7a0085,#81007e,#84007b,#860079,#85007a,#83007c,#7f0080,#7a0085,#74008b,#6e0091,#660099,#5f00a0,#5700a8,#4f00b0,#4700b8,#3f00c0,#3700c8,#2f00d0,#2600d9,#1d00e2,#1300ec,#0900f6,#0101ff,#0c0cff,#1717ff,#2222ff,#2e2eff,#3939ff,#4444ff,#4f4fff,#5959ff,#6363ff,#6c6cff,#7575ff,#7c7cff,#8484ff,#8a8aff,#9090ff,#9696ff,#9b9bff,#9f9fff,#a3a3ff,#a7a7ff,#ababff,#aeaeff,#b2b2ff,#b5b5ff,#b8b8ff,#bbbbff,#bebeff,#c1c1ff,#c3c3ff,#c6c6ff,#c9c9ff,#ccccff,#ceceff,#d1d1ff,#d4d4ff,#d7d7ff,#d9d9ff,#dcdcff)"></i><i style="background:linear-gradient(90deg,#2000df,#3300cc,#4500ba,#5400ab,#61009e,#6c0093,#74008b,#7a0085,#7e0081,#7f0080,#7f0080,#7c0083,#790086,#74008b,#6e0091,#670098,#60009f,#5900a6,#5200ad,#4a00b5,#4200bd,#3a00c5,#3200cd,#2a00d5,#2100de,#1800e7,#0f00f0,#0500fa,#0505ff,#1010ff,#1b1bff,#2626ff,#3131ff,#3c3cff,#4747ff,#5151ff,#5b5bff,#6565ff,#6e6eff,#7777ff,#7e7eff,#8585ff,#8c8cff,#9292ff,#9797ff,#9c9cff,#a0a0ff,#a5a5ff,#a8a8ff,#acacff,#afafff,#b3b3ff,#b6b6ff,#b9b9ff,#bcbcff,#bfbfff,#c1c1ff,#c4c4ff,#c7c7ff,#cacaff,#ccccff,#cfcfff,#d2d2ff,#d4d4ff,#d7d7ff,#dadaff,#ddddff)"></i><i style="background:linear-gradient(90deg,#1c00e3,#2e00d1,#3f00c0,#4e00b1,#5b00a4,#660099,#6e0091,#74008b,#770088,#790086,#780087,#760089,#72008d,#6d0092,#680097,#61009e,#5a00a5,#5300ac,#4c00b3,#4400bb,#3d00c2,#3500ca,#2d00d2,#2500da,#1c00e3,#1300ec,#0a00f5,#0100fe,#0909ff,#1414ff,#1e1eff,#2929ff,#3434ff,#3f3fff,#4a4aff,#5454ff,#5e5eff,#6767ff,#7070ff,#7979ff,#8080ff,#8787ff,#8e8eff,#9393ff,#9999ff,#9d9dff,#a2a2ff,#a6a6ff,#aaaaff,#adadff,#b0b0ff,#b4b4ff,#b7b7ff,#babaff,#bdbdff,#bfbfff,#c2c2ff,#c5c5ff,#c8c8ff,#cacaff,#cdcdff,#d0d0ff,#d2d2ff,#d5d5ff,#d8d8ff,#dbdbff,#ddddff)"></i><i style="background:linear-gradient(90deg,#1700e8,#2900d6,#3a00c5,#4800b7,#5500aa,#5f00a0,#670098,#6d0092,#71008e,#72008d,#71008e,#6f0090,#6c0093,#670098,#61009e,#5b00a4,#5400ab,#4d00b2,#4600b9,#3f00c0,#3700c8,#3000cf,#2800d7,#2000df,#1800e7,#0f00f0,#0600f9,#0404ff,#0d0dff,#1818ff,#2222ff,#2d2dff,#3737ff,#4242ff,#4c4cff,#5757ff,#6060ff,#6a6aff,#7373ff,#7b7bff,#8282ff,#8989ff,#8f8fff,#9595ff,#9a9aff,#9f9fff,#a3a3ff,#a7a7ff,#ababff,#aeaeff,#b2b2ff,#b5b5ff,#b8b8ff,#bbbbff,#bebeff,#c0c0ff,#c3c3ff,#c6c6ff,#c9c9ff,#cbcbff,#ceceff,#d1d1ff,#d3d3ff,#d6d6ff,#d9d9ff,#dbdbff,#dedeff)"></i><i style="background:linear-gradient(90deg,#1200ed,#2400db,#3400cb,#4300bc,#4f00b0,#5900a6,#61009e,#660099,#6a0095,#6b0094,#6b0094,#680097,#65009a,#60009f,#5b00a4,#5500aa,#4e00b1,#4700b8,#4000bf,#3900c6,#3200cd,#2a00d5,#2300dc,#1b00e4,#1300ec,#0a00f5,#0200fd,#0808ff,#1111ff,#1b1bff,#2626ff,#3030ff,#3b3bff,#4545ff,#4f4fff,#5959ff,#6363ff,#6c6cff,#7575ff,#7d7dff,#8484ff,#8b8bff,#9191ff,#9696ff,#9c9cff,#a0a0ff,#a4a4ff,#a8a8ff,#acacff,#afafff,#b3b3ff,#b6b6ff,#b9b9ff,#bcbcff,#bebeff,#c1c1ff,#c4c4ff,#c7c7ff,#c9c9ff,#ccccff,#cfcfff,#d1d1ff,#d4d4ff,#d7d7ff,#d9d9ff,#dcdcff,#dedeff)"></i><i style="background:linear-gradient(90deg,#0d00f2,#1f00e0,#2f00d0,#3d00c2,#4900b6,#5300ac,#5a00a5,#60009f,#63009c,#64009b,#64009b,#62009d,#5e00a1,#5a00a5,#5400ab,#4e00b1,#4800b7,#4100be,#3a00c5,#3300cc,#2c00d3,#2500da,#1e00e1,#1600e9,#0e00f1,#0600f9,#0303ff,#0c0cff,#1515ff,#1f1fff,#2929ff,#3333ff,#3e3eff,#4848ff,#5252ff,#5c5cff,#6565ff,#6e6eff,#7777ff,#7f7fff,#8686ff,#8d8dff,#9393ff,#9898ff,#9d9dff,#a1a1ff,#a6a6ff,#a9a9ff,#adadff,#b0b0ff,#b4b4ff,#b7b7ff,#babaff,#bdbdff,#bfbfff,#c2c2ff,#c5c5ff,#c8c8ff,#cacaff,#cdcdff,#cfcfff,#d2d2ff,#d5d5ff,#d7d7ff,#dadaff,#dcdcff,#dfdfff)"></i><i style="background:linear-gradient(90deg,#0800f7,#1a00e5,#2900d6,#3700c8,#4300bc,#4c00b3,#5400ab,#5900a6,#5c00a3,#5e00a1,#5d00a2,#5b00a4,#5800a7,#5300ac,#4e00b1,#4800b7,#4200bd,#3b00c4,#3500ca,#2e00d1,#2700d8,#2000df,#1900e6,#1100ee,#0900f6,#0100fe,#0707ff,#1010ff,#1919ff,#2323ff,#2d2dff,#3737ff,#4141ff,#4b4bff,#5555ff,#5f5fff,#6868ff,#7171ff,#7979ff,#8181ff,#8888ff,#8e8eff,#9494ff,#9a9aff,#9e9eff,#a3a3ff,#a7a7ff,#ababff,#aeaeff,#b1b1ff,#b5b5ff,#b8b8ff,#bbbbff,#bdbdff,#c0c0ff,#c3c3ff,#c6c6ff,#c8c8ff,#cbcbff,#ceceff,#d0d0ff,#d3d3ff,#d5d5ff,#d8d8ff,#dbdbff,#ddddff,#e0e0ff)"></i><i style="background:linear-gradient(90deg,#0400fb,#1400eb,#2400db,#3100ce,#3d00c2,#4600b9,#4d00b2,#5300ac,#5600a9,#5700a8,#5600a9,#5400ab,#5100ae,#4d00b2,#4700b8,#4200bd,#3c00c3,#3500ca,#2f00d0,#2800d7,#2100de,#1a00e5,#1300ec,#0c00f3,#0500fa,#0303ff,#0c0cff,#1414ff,#1d1dff,#2727ff,#3030ff,#3a3aff,#4444ff,#4e4eff,#5858ff,#6161ff,#6a6aff,#7373ff,#7b7bff,#8383ff,#8a8aff,#9090ff,#9696ff,#9b9bff,#a0a0ff,#a4a4ff,#a8a8ff,#acacff,#afafff,#b2b2ff,#b6b6ff,#b9b9ff,#bbbbff,#bebeff,#c1c1ff,#c4c4ff,#c7c7ff,#c9c9ff,#ccccff,#ceceff,#d1d1ff,#d3d3ff,#d6d6ff,#d9d9ff,#dbdbff,#dedeff,#e0e0ff)"></i><i style="background:linear-gradient(90deg,#0101ff,#0f00f0,#1e00e1,#2b00d4,#3600c9,#4000bf,#4700b8,#4c00b3,#4f00b0,#5000af,#5000af,#4e00b1,#4a00b5,#4600b9,#4100be,#3b00c4,#3600c9,#2f00d0,#2900d6,#2200dd,#1c00e3,#1500ea,#0e00f1,#0700f8,#0000ff,#0808ff,#1010ff,#1818ff,#2121ff,#2a2aff,#3434ff,#3d3dff,#4747ff,#5151ff,#5a5aff,#6464ff,#6d6dff,#7575ff,#7d7dff,#8585ff,#8b8bff,#9292ff,#9797ff,#9c9cff,#a1a1ff,#a5a5ff,#a9a9ff,#adadff,#b0b0ff,#b4b4ff,#b7b7ff,#babaff,#bcbcff,#bfbfff,#c2c2ff,#c5c5ff,#c7c7ff,#cacaff,#cdcdff,#cfcfff,#d2d2ff,#d4d4ff,#d7d7ff,#d9d9ff,#dcdcff,#dedeff,#e1e1ff)"></i><i style="background:linear-gradient(90deg,#0606ff,#0a00f5,#1800e7,#2500da,#3000cf,#3900c6,#4000bf,#4500ba,#4800b7,#4900b6,#4900b6,#4700b8,#4400bb,#4000bf,#3b00c4,#3500ca,#2f00d0,#2900d6,#2300dc,#1d00e2,#1700e8,#1000ef,#0900f6,#0200fd,#0505ff,#0c0cff,#1414ff,#1c1cff,#2525ff,#2e2eff,#3737ff,#4141ff,#4a4aff,#5454ff,#5d5dff,#6666ff,#6f6fff,#7777ff,#7f7fff,#8686ff,#8d8dff,#9393ff,#9999ff,#9e9eff,#a2a2ff,#a7a7ff,#aaaaff,#aeaeff,#b1b1ff,#b4b4ff,#b8b8ff,#babaff,#bdbdff,#c0c0ff,#c3c3ff,#c5c5ff,#c8c8ff,#cbcbff,#cdcdff,#d0d0ff,#d2d2ff,#d5d5ff,#d7d7ff,#dadaff,#dcdcff,#dfdfff,#e1e1ff)"></i><i style="background:linear-gradient(90deg,#0b0bff,#0500fa,#1300ec,#1f00e0,#2a00d5,#3300cc,#3a00c5,#3f00c0,#4200bd,#4300bc,#4200bd,#4000bf,#3d00c2,#3900c6,#3400cb,#2f00d0,#2900d6,#2300dc,#1d00e2,#1700e8,#1100ee,#0b00f4,#0400fb,#0202ff,#0909ff,#1111ff,#1818ff,#2020ff,#2929ff,#3232ff,#3b3bff,#4444ff,#4d4dff,#5757ff,#6060ff,#6969ff,#7171ff,#7a7aff,#8181ff,#8888ff,#8f8fff,#9595ff,#9a9aff,#9f9fff,#a4a4ff,#a8a8ff,#acacff,#afafff,#b2b2ff,#b5b5ff,#b8b8ff,#bbbbff,#bebeff,#c1c1ff,#c4c4ff,#c6c6ff,#c9c9ff,#cbcbff,#ceceff,#d1d1ff,#d3d3ff,#d6d6ff,#d8d8ff,#dbdbff,#ddddff,#e0e0ff,#e2e2ff)"></i><i style="background:linear-gradient(90deg,#1010ff,#0101ff,#0d00f2,#1a00e5,#2400db,#2d00d2,#3300cc,#3800c7,#3b00c4,#3c00c3,#3b00c4,#3900c6,#3600c9,#3200cd,#2e00d1,#2900d6,#2300dc,#1e00e1,#1800e7,#1200ed,#0c00f3,#0600f9,#0101ff,#0707ff,#0e0eff,#1515ff,#1d1dff,#2424ff,#2d2dff,#3535ff,#3e3eff,#4747ff,#5050ff,#5a5aff,#6363ff,#6b6bff,#7474ff,#7c7cff,#8383ff,#8a8aff,#9191ff,#9696ff,#9c9cff,#a1a1ff,#a5a5ff,#a9a9ff,#adadff,#b0b0ff,#b3b3ff,#b6b6ff,#b9b9ff,#bcbcff,#bfbfff,#c2c2ff,#c4c4ff,#c7c7ff,#cacaff,#ccccff,#cfcfff,#d1d1ff,#d4d4ff,#d6d6ff,#d9d9ff,#dbdbff,#dedeff,#e0e0ff,#e3e3ff)"></i><i style="background:linear-gradient(90deg,#1515ff,#0606ff,#0800f7,#1400eb,#1e00e1,#2700d8,#2d00d2,#3200cd,#3400cb,#3500ca,#3500ca,#3300cc,#3000cf,#2c00d3,#2800d7,#2300dc,#1d00e2,#1800e7,#1200ed,#0c00f3,#0600f9,#0100fe,#0606ff,#0c0cff,#1212ff,#1919ff,#2121ff,#2828ff,#3030ff,#3939ff,#4242ff,#4a4aff,#5353ff,#5c5cff,#6565ff,#6e6eff,#7676ff,#7e7eff,#8585ff,#8c8cff,#9292ff,#9898ff,#9d9dff,#a2a2ff,#a6a6ff,#aaaaff,#aeaeff,#b1b1ff,#b4b4ff,#b7b7ff,#babaff,#bdbdff,#c0c0ff,#c2c2ff,#c5c5ff,#c8c8ff,#cacaff,#cdcdff,#cfcfff,#d2d2ff,#d4d4ff,#d7d7ff,#d9d9ff,#dcdcff,#dedeff,#e1e1ff,#e3e3ff)"></i><i style="background:linear-gradient(90deg,#1a1aff,#0b0bff,#0200fd,#0e00f1,#1800e7,#2000df,#2700d8,#2b00d4,#2e00d1,#2f00d0,#2e00d1,#2c00d3,#2900d6,#2600d9,#2100de,#1c00e3,#1700e8,#1200ed,#0c00f3,#0700f8,#0100fe,#0404ff,#0a0aff,#1111ff,#1717ff,#1e1eff,#2525ff,#2c2cff,#3434ff,#3c3cff,#4545ff,#4e4eff,#5656ff,#5f5fff,#6868ff,#7070ff,#7878ff,#8080ff,#8787ff,#8e8eff,#9494ff,#9999ff,#9e9eff,#a3a3ff,#a7a7ff,#ababff,#afafff,#b2b2ff,#b5b5ff,#b8b8ff,#bbbbff,#bebeff,#c1c1ff,#c3c3ff,#c6c6ff,#c8c8ff,#cbcbff,#ceceff,#d0d0ff,#d3d3ff,#d5d5ff,#d8d8ff,#dadaff,#dcdcff,#dfdfff,#e1e1ff,#e4e4ff)"></i><i style="background:linear-gradient(90deg,#1e1eff,#1010ff,#0303ff,#0800f7,#1200ed,#1a00e5,#2000df,#2500da,#2700d8,#2800d7,#2800d7,#2600d9,#2300dc,#1f00e0,#1b00e4,#1600e9,#1100ee,#0c00f3,#0700f8,#0200fd,#0404ff,#0909ff,#0f0fff,#1515ff,#1b1bff,#2222ff,#2929ff,#3030ff,#3838ff,#4040ff,#4848ff,#5151ff,#5959ff,#6262ff,#6a6aff,#7272ff,#7a7aff,#8282ff,#8989ff,#8f8fff,#9595ff,#9b9bff,#a0a0ff,#a4a4ff,#a8a8ff,#acacff,#b0b0ff,#b3b3ff,#b6b6ff,#b9b9ff,#bcbcff,#bfbfff,#c1c1ff,#c4c4ff,#c7c7ff,#c9c9ff,#ccccff,#ceceff,#d1d1ff,#d3d3ff,#d6d6ff,#d8d8ff,#dbdbff,#ddddff,#dfdfff,#e2e2ff,#e4e4ff)"></i><i style="background:linear-gradient(90deg,#2323ff,#1515ff,#0808ff,#0300fc,#0c00f3,#1400eb,#1a00e5,#1e00e1,#2100de,#2200dd,#2100de,#1f00e0,#1d00e2,#1900e6,#1500ea,#1000ef,#0c00f3,#0700f8,#0100fe,#0404ff,#0909ff,#0e0eff,#1414ff,#1a1aff,#2020ff,#2626ff,#2d2dff,#3434ff,#3b3bff,#4343ff,#4b4bff,#5454ff,#5c5cff,#6464ff,#6d6dff,#7575ff,#7c7cff,#8484ff,#8a8aff,#9191ff,#9797ff,#9c9cff,#a1a1ff,#a5a5ff,#a9a9ff,#adadff,#b1b1ff,#b4b4ff,#b7b7ff,#babaff,#bdbdff,#bfbfff,#c2c2ff,#c5c5ff,#c7c7ff,#cacaff,#ccccff,#cfcfff,#d1d1ff,#d4d4ff,#d6d6ff,#d9d9ff,#dbdbff,#dedeff,#e0e0ff,#e2e2ff,#e5e5ff)"></i><i style="background:linear-gradient(90deg,#2828ff,#1a1aff,#0e0eff,#0303ff,#0600f9,#0e00f1,#1400eb,#1800e7,#1a00e5,#1b00e4,#1b00e4,#1900e6,#1600e9,#1300ec,#0f00f0,#0a00f5,#0600f9,#0100fe,#0404ff,#0909ff,#0e0eff,#1313ff,#1919ff,#1e1eff,#2424ff,#2a2aff,#3131ff,#3838ff,#3f3fff,#4646ff,#4e4eff,#5656ff,#5f5fff,#6767ff,#6f6fff,#7777ff,#7e7eff,#8585ff,#8c8cff,#9292ff,#9898ff,#9d9dff,#a2a2ff,#a7a7ff,#aaaaff,#aeaeff,#b1b1ff,#b5b5ff,#b8b8ff,#babaff,#bdbdff,#c0c0ff,#c3c3ff,#c5c5ff,#c8c8ff,#cacaff,#cdcdff,#d0d0ff,#d2d2ff,#d5d5ff,#d7d7ff,#d9d9ff,#dcdcff,#dedeff,#e1e1ff,#e3e3ff,#e5e5ff)"></i><i style="background:linear-gradient(90deg,#2c2cff,#1f1fff,#1313ff,#0808ff,#0100fe,#0800f7,#0e00f1,#1200ed,#1400eb,#1500ea,#1400eb,#1300ec,#1000ef,#0d00f2,#0900f6,#0500fa,#0000ff,#0505ff,#0909ff,#0e0eff,#1313ff,#1818ff,#1d1dff,#2222ff,#2828ff,#2e2eff,#3434ff,#3b3bff,#4242ff,#4a4aff,#5151ff,#5959ff,#6161ff,#6969ff,#7171ff,#7979ff,#8080ff,#8787ff,#8e8eff,#9494ff,#9a9aff,#9f9fff,#a3a3ff,#a8a8ff,#ababff,#afafff,#b2b2ff,#b5b5ff,#b8b8ff,#bbbbff,#bebeff,#c1c1ff,#c3c3ff,#c6c6ff,#c8c8ff,#cbcbff,#ceceff,#d0d0ff,#d3d3ff,#d5d5ff,#d8d8ff,#dadaff,#dcdcff,#dfdfff,#e1e1ff,#e3e3ff,#e6e6ff)"></i><i style="background:linear-gradient(90deg,#3131ff,#2424ff,#1818ff,#0e0eff,#0505ff,#0200fd,#0800f7,#0b00f4,#0e00f1,#0e00f1,#0e00f1,#0c00f3,#0a00f5,#0700f8,#0300fc,#0101ff,#0505ff,#0a0aff,#0f0fff,#1313ff,#1818ff,#1d1dff,#2222ff,#2727ff,#2c2cff,#3232ff,#3838ff,#3f3fff,#4646ff,#4d4dff,#5454ff,#5c5cff,#6464ff,#6c6cff,#7373ff,#7b7bff,#8282ff,#8989ff,#8f8fff,#9595ff,#9b9bff,#a0a0ff,#a4a4ff,#a9a9ff,#acacff,#b0b0ff,#b3b3ff,#b6b6ff,#b9b9ff,#bcbcff,#bebeff,#c1c1ff,#c4c4ff,#c6c6ff,#c9c9ff,#ccccff,#ceceff,#d1d1ff,#d3d3ff,#d6d6ff,#d8d8ff,#dbdbff,#ddddff,#dfdfff,#e2e2ff,#e4e4ff,#e6e6ff)"></i><i style="background:linear-gradient(90deg,#3636ff,#2929ff,#1e1eff,#1313ff,#0b0bff,#0404ff,#0200fd,#0500fa,#0700f8,#0800f7,#0800f7,#0600f9,#0400fb,#0100fe,#0303ff,#0707ff,#0b0bff,#0f0fff,#1414ff,#1818ff,#1d1dff,#2121ff,#2626ff,#2b2bff,#3030ff,#3636ff,#3c3cff,#4242ff,#4949ff,#5050ff,#5757ff,#5f5fff,#6666ff,#6e6eff,#7676ff,#7d7dff,#8484ff,#8b8bff,#9191ff,#9797ff,#9c9cff,#a1a1ff,#a5a5ff,#a9a9ff,#adadff,#b1b1ff,#b4b4ff,#b7b7ff,#babaff,#bcbcff,#bfbfff,#c2c2ff,#c4c4ff,#c7c7ff,#cacaff,#ccccff,#cfcfff,#d1d1ff,#d4d4ff,#d6d6ff,#d9d9ff,#dbdbff,#ddddff,#e0e0ff,#e2e2ff,#e4e4ff,#e6e6ff)"></i><i style="background:linear-gradient(90deg,#3a3aff,#2e2eff,#2323ff,#1919ff,#1010ff,#0a0aff,#0404ff,#0101ff,#0100fe,#0200fd,#0200fd,#0000ff,#0202ff,#0505ff,#0808ff,#0c0cff,#1010ff,#1414ff,#1919ff,#1d1dff,#2121ff,#2626ff,#2a2aff,#2f2fff,#3434ff,#3a3aff,#3f3fff,#4646ff,#4c4cff,#5353ff,#5a5aff,#6161ff,#6969ff,#7070ff,#7878ff,#7f7fff,#8686ff,#8c8cff,#9292ff,#9898ff,#9d9dff,#a2a2ff,#a6a6ff,#aaaaff,#aeaeff,#b1b1ff,#b4b4ff,#b7b7ff,#babaff,#bdbdff,#c0c0ff,#c2c2ff,#c5c5ff,#c7c7ff,#cacaff,#cdcdff,#cfcfff,#d2d2ff,#d4d4ff,#d7d7ff,#d9d9ff,#dcdcff,#dedeff,#e0e0ff,#e3e3ff,#e5e5ff,#e7e7ff)"></i><i style="background:linear-gradient(90deg,#3f3fff,#3333ff,#2828ff,#1e1eff,#1616ff,#0f0fff,#0a0aff,#0707ff,#0505ff,#0404ff,#0404ff,#0606ff,#0808ff,#0b0bff,#0e0eff,#1212ff,#1616ff,#1a1aff,#1e1eff,#2222ff,#2626ff,#2a2aff,#2e2eff,#3333ff,#3838ff,#3d3dff,#4343ff,#4949ff,#4f4fff,#5656ff,#5d5dff,#6464ff,#6b6bff,#7272ff,#7a7aff,#8181ff,#8787ff,#8e8eff,#9494ff,#9999ff,#9e9eff,#a3a3ff,#a7a7ff,#ababff,#afafff,#b2b2ff,#b5b5ff,#b8b8ff,#bbbbff,#bdbdff,#c0c0ff,#c3c3ff,#c5c5ff,#c8c8ff,#cacaff,#cdcdff,#d0d0ff,#d2d2ff,#d5d5ff,#d7d7ff,#dadaff,#dcdcff,#dedeff,#e1e1ff,#e3e3ff,#e5e5ff,#e7e7ff)"></i><i style="background:linear-gradient(90deg,#4343ff,#3737ff,#2d2dff,#2323ff,#1b1bff,#1515ff,#1010ff,#0d0dff,#0a0aff,#0a0aff,#0a0aff,#0b0bff,#0e0eff,#1010ff,#1414ff,#1717ff,#1b1bff,#1f1fff,#2222ff,#2626ff,#2a2aff,#2e2eff,#3333ff,#3737ff,#3c3cff,#4141ff,#4646ff,#4c4cff,#5252ff,#5959ff,#5f5fff,#6666ff,#6d6dff,#7575ff,#7c7cff,#8282ff,#8989ff,#8f8fff,#9595ff,#9a9aff,#9f9fff,#a4a4ff,#a8a8ff,#acacff,#afafff,#b3b3ff,#b6b6ff,#b8b8ff,#bbbbff,#bebeff,#c0c0ff,#c3c3ff,#c6c6ff,#c8c8ff,#cbcbff,#cdcdff,#d0d0ff,#d3d3ff,#d5d5ff,#d8d8ff,#dadaff,#dcdcff,#dfdfff,#e1e1ff,#e3e3ff,#e6e6ff,#e8e8ff)"></i><i style="background:linear-gradient(90deg,#4747ff,#3c3cff,#3131ff,#2828ff,#2121ff,#1a1aff,#1616ff,#1212ff,#1010ff,#1010ff,#1010ff,#1111ff,#1313ff,#1616ff,#1919ff,#1c1cff,#2020ff,#2323ff,#2727ff,#2b2bff,#2f2fff,#3333ff,#3737ff,#3b3bff,#3f3fff,#4444ff,#4949ff,#4f4fff,#5555ff,#5b5bff,#6262ff,#6969ff,#7070ff,#7777ff,#7d7dff,#8484ff,#8a8aff,#9191ff,#9696ff,#9c9cff,#a0a0ff,#a5a5ff,#a9a9ff,#adadff,#b0b0ff,#b3b3ff,#b6b6ff,#b9b9ff,#bcbcff,#bebeff,#c1c1ff,#c3c3ff,#c6c6ff,#c9c9ff,#cbcbff,#ceceff,#d0d0ff,#d3d3ff,#d6d6ff,#d8d8ff,#dadaff,#ddddff,#dfdfff,#e2e2ff,#e4e4ff,#e6e6ff,#e8e8ff)"></i><i style="background:linear-gradient(90deg,#4b4bff,#4040ff,#3636ff,#2d2dff,#2626ff,#2020ff,#1b1bff,#1818ff,#1616ff,#1515ff,#1616ff,#1717ff,#1919ff,#1b1bff,#1e1eff,#2121ff,#2525ff,#2828ff,#2c2cff,#2f2fff,#3333ff,#3737ff,#3a3aff,#3f3fff,#4343ff,#4848ff,#4d4dff,#5252ff,#5858ff,#5e5eff,#6464ff,#6b6bff,#7272ff,#7979ff,#7f7fff,#8686ff,#8c8cff,#9292ff,#9797ff,#9d9dff,#a1a1ff,#a6a6ff,#aaaaff,#adadff,#b1b1ff,#b4b4ff,#b7b7ff,#b9b9ff,#bcbcff,#bfbfff,#c1c1ff,#c4c4ff,#c6c6ff,#c9c9ff,#ccccff,#ceceff,#d1d1ff,#d3d3ff,#d6d6ff,#d8d8ff,#dbdbff,#ddddff,#e0e0ff,#e2e2ff,#e4e4ff,#e6e6ff,#e8e8ff)"></i><i style="background:linear-gradient(90deg,#5050ff,#4545ff,#3b3bff,#3232ff,#2b2bff,#2525ff,#2121ff,#1d1dff,#1b1bff,#1b1bff,#1b1bff,#1c1cff,#1e1eff,#2121ff,#2323ff,#2626ff,#2a2aff,#2d2dff,#3030ff,#3434ff,#3737ff,#3b3bff,#3e3eff,#4242ff,#4646ff,#4b4bff,#5050ff,#5555ff,#5b5bff,#6161ff,#6767ff,#6d6dff,#7474ff,#7a7aff,#8181ff,#8787ff,#8d8dff,#9393ff,#9898ff,#9d9dff,#a2a2ff,#a6a6ff,#aaaaff,#aeaeff,#b1b1ff,#b4b4ff,#b7b7ff,#babaff,#bcbcff,#bfbfff,#c1c1ff,#c4c4ff,#c7c7ff,#c9c9ff,#ccccff,#ceceff,#d1d1ff,#d4d4ff,#d6d6ff,#d9d9ff,#dbdbff,#dedeff,#e0e0ff,#e2e2ff,#e4e4ff,#e7e7ff,#e9e9ff)"></i><i style="background:linear-gradient(90deg,#5454ff,#4949ff,#4040ff,#3737ff,#3030ff,#2a2aff,#2626ff,#2323ff,#2121ff,#2020ff,#2020ff,#2222ff,#2323ff,#2626ff,#2828ff,#2b2bff,#2e2eff,#3131ff,#3535ff,#3838ff,#3b3bff,#3e3eff,#4242ff,#4646ff,#4a4aff,#4e4eff,#5353ff,#5858ff,#5d5dff,#6363ff,#6969ff,#6f6fff,#7676ff,#7c7cff,#8282ff,#8989ff,#8f8fff,#9494ff,#9999ff,#9e9eff,#a3a3ff,#a7a7ff,#ababff,#aeaeff,#b1b1ff,#b4b4ff,#b7b7ff,#babaff,#bcbcff,#bfbfff,#c2c2ff,#c4c4ff,#c7c7ff,#c9c9ff,#ccccff,#cfcfff,#d1d1ff,#d4d4ff,#d7d7ff,#d9d9ff,#dcdcff,#dedeff,#e0e0ff,#e3e3ff,#e5e5ff,#e7e7ff,#e9e9ff)"></i><i style="background:linear-gradient(90deg,#5858ff,#4d4dff,#4444ff,#3c3cff,#3535ff,#2f2fff,#2b2bff,#2828ff,#2626ff,#2525ff,#2626ff,#2727ff,#2828ff,#2b2bff,#2d2dff,#3030ff,#3333ff,#3636ff,#3939ff,#3c3cff,#3f3fff,#4242ff,#4545ff,#4949ff,#4d4dff,#5151ff,#5555ff,#5a5aff,#6060ff,#6565ff,#6b6bff,#7171ff,#7878ff,#7e7eff,#8484ff,#8a8aff,#9090ff,#9595ff,#9a9aff,#9f9fff,#a4a4ff,#a8a8ff,#ababff,#afafff,#b2b2ff,#b5b5ff,#b7b7ff,#babaff,#bdbdff,#bfbfff,#c2c2ff,#c4c4ff,#c7c7ff,#cacaff,#ccccff,#cfcfff,#d2d2ff,#d4d4ff,#d7d7ff,#d9d9ff,#dcdcff,#dedeff,#e1e1ff,#e3e3ff,#e5e5ff,#e7e7ff,#e9e9ff)"></i><i style="background:linear-gradient(90deg,#5c5cff,#5252ff,#4848ff,#4141ff,#3a3aff,#3434ff,#3030ff,#2d2dff,#2b2bff,#2b2bff,#2b2bff,#2c2cff,#2d2dff,#3030ff,#3232ff,#3535ff,#3737ff,#3a3aff,#3d3dff,#4040ff,#4343ff,#4646ff,#4949ff,#4c4cff,#5050ff,#5454ff,#5858ff,#5d5dff,#6262ff,#6868ff,#6d6dff,#7373ff,#7979ff,#7f7fff,#8585ff,#8b8bff,#9191ff,#9696ff,#9b9bff,#a0a0ff,#a4a4ff,#a8a8ff,#acacff,#afafff,#b2b2ff,#b5b5ff,#b8b8ff,#babaff,#bdbdff,#bfbfff,#c2c2ff,#c4c4ff,#c7c7ff,#cacaff,#ccccff,#cfcfff,#d2d2ff,#d4d4ff,#d7d7ff,#dadaff,#dcdcff,#dfdfff,#e1e1ff,#e3e3ff,#e5e5ff,#e8e8ff,#eaeaff)"></i><i style="background:linear-gradient(90deg,#5f5fff,#5656ff,#4d4dff,#4545ff,#3f3fff,#3939ff,#3535ff,#3232ff,#3030ff,#3030ff,#3030ff,#3131ff,#3232ff,#3434ff,#3737ff,#3939ff,#3c3cff,#3e3eff,#4141ff,#4444ff,#4646ff,#4949ff,#4c4cff,#4f4fff,#5353ff,#5757ff,#5b5bff,#5f5fff,#6464ff,#6a6aff,#6f6fff,#7575ff,#7b7bff,#8181ff,#8787ff,#8c8cff,#9292ff,#9797ff,#9c9cff,#a0a0ff,#a5a5ff,#a9a9ff,#acacff,#afafff,#b2b2ff,#b5b5ff,#b8b8ff,#babaff,#bdbdff,#bfbfff,#c2c2ff,#c5c5ff,#c7c7ff,#cacaff,#ccccff,#cfcfff,#d2d2ff,#d5d5ff,#d7d7ff,#dadaff,#dcdcff,#dfdfff,#e1e1ff,#e3e3ff,#e6e6ff,#e8e8ff,#eaeaff)"></i><i style="background:linear-gradient(90deg,#6363ff,#5a5aff,#5151ff,#4a4aff,#4343ff,#3e3eff,#3a3aff,#3737ff,#3535ff,#3535ff,#3535ff,#3636ff,#3737ff,#3939ff,#3b3bff,#3d3dff,#4040ff,#4242ff,#4545ff,#4747ff,#4a4aff,#4c4cff,#4f4fff,#5252ff,#5656ff,#5959ff,#5d5dff,#6262ff,#6767ff,#6c6cff,#7171ff,#7777ff,#7c7cff,#8282ff,#8888ff,#8d8dff,#9393ff,#9898ff,#9d9dff,#a1a1ff,#a5a5ff,#a9a9ff,#acacff,#afafff,#b2b2ff,#b5b5ff,#b8b8ff,#babaff,#bdbdff,#bfbfff,#c2c2ff,#c5c5ff,#c7c7ff,#cacaff,#cdcdff,#cfcfff,#d2d2ff,#d5d5ff,#d7d7ff,#dadaff,#dcdcff,#dfdfff,#e1e1ff,#e4e4ff,#e6e6ff,#e8e8ff,#eaeaff)"></i><i style="background:linear-gradient(90deg,#6767ff,#5e5eff,#5555ff,#4e4eff,#4848ff,#4343ff,#3f3fff,#3c3cff,#3a3aff,#3939ff,#3a3aff,#3a3aff,#3c3cff,#3d3dff,#3f3fff,#4242ff,#4444ff,#4646ff,#4848ff,#4b4bff,#4d4dff,#5050ff,#5252ff,#5555ff,#5858ff,#5c5cff,#6060ff,#6464ff,#6969ff,#6e6eff,#7373ff,#7878ff,#7e7eff,#8383ff,#8989ff,#8e8eff,#9494ff,#9999ff,#9d9dff,#a2a2ff,#a5a5ff,#a9a9ff,#acacff,#b0b0ff,#b2b2ff,#b5b5ff,#b8b8ff,#babaff,#bdbdff,#bfbfff,#c2c2ff,#c4c4ff,#c7c7ff,#cacaff,#cdcdff,#cfcfff,#d2d2ff,#d5d5ff,#d7d7ff,#dadaff,#ddddff,#dfdfff,#e2e2ff,#e4e4ff,#e6e6ff,#e8e8ff,#eaeaff)"></i><i style="background:linear-gradient(90deg,#6a6aff,#6161ff,#5959ff,#5252ff,#4c4cff,#4747ff,#4343ff,#4141ff,#3f3fff,#3e3eff,#3e3eff,#3f3fff,#4040ff,#4242ff,#4444ff,#4646ff,#4848ff,#4a4aff,#4c4cff,#4e4eff,#5050ff,#5353ff,#5555ff,#5858ff,#5b5bff,#5e5eff,#6262ff,#6666ff,#6b6bff,#6f6fff,#7474ff,#7a7aff,#7f7fff,#8585ff,#8a8aff,#8f8fff,#9494ff,#9999ff,#9e9eff,#a2a2ff,#a6a6ff,#a9a9ff,#adadff,#b0b0ff,#b2b2ff,#b5b5ff,#b8b8ff,#babaff,#bdbdff,#bfbfff,#c2c2ff,#c4c4ff,#c7c7ff,#cacaff,#cdcdff,#cfcfff,#d2d2ff,#d5d5ff,#d8d8ff,#dadaff,#ddddff,#dfdfff,#e2e2ff,#e4e4ff,#e6e6ff,#e8e8ff,#eaeaff)"></i><i style="background:linear-gradient(90deg,#6e6eff,#6565ff,#5d5dff,#5656ff,#5050ff,#4b4bff,#4848ff,#4545ff,#4343ff,#4343ff,#4343ff,#4343ff,#4444ff,#4646ff,#4848ff,#4a4aff,#4b4bff,#4d4dff,#4f4fff,#5151ff,#5353ff,#5656ff,#5858ff,#5b5bff,#5d5dff,#6161ff,#6464ff,#6868ff,#6c6cff,#7171ff,#7676ff,#7b7bff,#8080ff,#8686ff,#8b8bff,#9090ff,#9595ff,#9a9aff,#9e9eff,#a2a2ff,#a6a6ff,#a9a9ff,#adadff,#b0b0ff,#b2b2ff,#b5b5ff,#b8b8ff,#babaff,#bcbcff,#bfbfff,#c2c2ff,#c4c4ff,#c7c7ff,#cacaff,#ccccff,#cfcfff,#d2d2ff,#d5d5ff,#d8d8ff,#dadaff,#ddddff,#dfdfff,#e2e2ff,#e4e4ff,#e6e6ff,#e9e9ff,#ebebff)"></i><i style="background:linear-gradient(90deg,#7171ff,#6969ff,#6161ff,#5a5aff,#5454ff,#5050ff,#4c4cff,#4949ff,#4848ff,#4747ff,#4747ff,#4848ff,#4949ff,#4a4aff,#4c4cff,#4d4dff,#4f4fff,#5151ff,#5353ff,#5555ff,#5656ff,#5858ff,#5b5bff,#5d5dff,#6060ff,#6363ff,#6666ff,#6a6aff,#6e6eff,#7373ff,#7777ff,#7c7cff,#8282ff,#8787ff,#8c8cff,#9191ff,#9696ff,#9a9aff,#9f9fff,#a3a3ff,#a6a6ff,#aaaaff,#adadff,#b0b0ff,#b2b2ff,#b5b5ff,#b7b7ff,#babaff,#bcbcff,#bfbfff,#c1c1ff,#c4c4ff,#c7c7ff,#c9c9ff,#ccccff,#cfcfff,#d2d2ff,#d5d5ff,#d8d8ff,#dadaff,#ddddff,#dfdfff,#e2e2ff,#e4e4ff,#e6e6ff,#e9e9ff,#ebebff)"></i><i style="background:linear-gradient(90deg,#7575ff,#6c6cff,#6565ff,#5e5eff,#5858ff,#5454ff,#5050ff,#4e4eff,#4c4cff,#4b4bff,#4b4bff,#4c4cff,#4d4dff,#4e4eff,#4f4fff,#5151ff,#5353ff,#5454ff,#5656ff,#5858ff,#5959ff,#5b5bff,#5d5dff,#5f5fff,#6262ff,#6565ff,#6868ff,#6c6cff,#7070ff,#7474ff,#7979ff,#7e7eff,#8383ff,#8888ff,#8d8dff,#9292ff,#9696ff,#9b9bff,#9f9fff,#a3a3ff,#a6a6ff,#aaaaff,#adadff,#afafff,#b2b2ff,#b5b5ff,#b7b7ff,#b9b9ff,#bcbcff,#bebeff,#c1c1ff,#c4c4ff,#c6c6ff,#c9c9ff,#ccccff,#cfcfff,#d2d2ff,#d5d5ff,#d8d8ff,#dadaff,#ddddff,#dfdfff,#e2e2ff,#e4e4ff,#e7e7ff,#e9e9ff,#ebebff)"></i><i style="background:linear-gradient(90deg,#7878ff,#7070ff,#6868ff,#6262ff,#5c5cff,#5858ff,#5454ff,#5252ff,#5050ff,#4f4fff,#4f4fff,#5050ff,#5151ff,#5252ff,#5353ff,#5454ff,#5656ff,#5757ff,#5959ff,#5a5aff,#5c5cff,#5e5eff,#6060ff,#6262ff,#6464ff,#6767ff,#6a6aff,#6d6dff,#7171ff,#7676ff,#7a7aff,#7f7fff,#8484ff,#8888ff,#8d8dff,#9292ff,#9797ff,#9b9bff,#9f9fff,#a3a3ff,#a6a6ff,#a9a9ff,#acacff,#afafff,#b2b2ff,#b4b4ff,#b7b7ff,#b9b9ff,#bcbcff,#bebeff,#c1c1ff,#c3c3ff,#c6c6ff,#c9c9ff,#ccccff,#cfcfff,#d2d2ff,#d5d5ff,#d7d7ff,#dadaff,#ddddff,#dfdfff,#e2e2ff,#e4e4ff,#e7e7ff,#e9e9ff,#ebebff)"></i><i style="background:linear-gradient(90deg,#7b7bff,#7373ff,#6c6cff,#6666ff,#6060ff,#5c5cff,#5858ff,#5656ff,#5454ff,#5353ff,#5353ff,#5454ff,#5454ff,#5555ff,#5757ff,#5858ff,#5959ff,#5b5bff,#5c5cff,#5d5dff,#5f5fff,#6060ff,#6262ff,#6464ff,#6666ff,#6969ff,#6c6cff,#6f6fff,#7373ff,#7777ff,#7b7bff,#8080ff,#8484ff,#8989ff,#8e8eff,#9393ff,#9797ff,#9b9bff,#9f9fff,#a3a3ff,#a6a6ff,#a9a9ff,#acacff,#afafff,#b1b1ff,#b4b4ff,#b6b6ff,#b9b9ff,#bbbbff,#bebeff,#c0c0ff,#c3c3ff,#c6c6ff,#c9c9ff,#ccccff,#cfcfff,#d1d1ff,#d4d4ff,#d7d7ff,#dadaff,#ddddff,#dfdfff,#e2e2ff,#e4e4ff,#e7e7ff,#e9e9ff,#ebebff)"></i><i style="background:linear-gradient(90deg,#7e7eff,#7676ff,#6f6fff,#6969ff,#6464ff,#6060ff,#5c5cff,#5a5aff,#5858ff,#5757ff,#5757ff,#5757ff,#5858ff,#5959ff,#5a5aff,#5b5bff,#5c5cff,#5d5dff,#5f5fff,#6060ff,#6161ff,#6363ff,#6464ff,#6666ff,#6868ff,#6a6aff,#6d6dff,#7171ff,#7474ff,#7878ff,#7c7cff,#8181ff,#8585ff,#8a8aff,#8e8eff,#9393ff,#9797ff,#9b9bff,#9f9fff,#a3a3ff,#a6a6ff,#a9a9ff,#acacff,#aeaeff,#b1b1ff,#b3b3ff,#b6b6ff,#b8b8ff,#bbbbff,#bdbdff,#c0c0ff,#c3c3ff,#c5c5ff,#c8c8ff,#cbcbff,#ceceff,#d1d1ff,#d4d4ff,#d7d7ff,#dadaff,#ddddff,#dfdfff,#e2e2ff,#e4e4ff,#e7e7ff,#e9e9ff,#ebebff)"></i><i style="background:linear-gradient(90deg,#8181ff,#7a7aff,#7373ff,#6d6dff,#6767ff,#6363ff,#6060ff,#5e5eff,#5c5cff,#5b5bff,#5b5bff,#5b5bff,#5b5bff,#5c5cff,#5d5dff,#5e5eff,#5f5fff,#6060ff,#6161ff,#6262ff,#6363ff,#6565ff,#6666ff,#6868ff,#6a6aff,#6c6cff,#6f6fff,#7272ff,#7575ff,#7979ff,#7d7dff,#8282ff,#8686ff,#8a8aff,#8f8fff,#9393ff,#9797ff,#9b9bff,#9f9fff,#a3a3ff,#a6a6ff,#a9a9ff,#ababff,#aeaeff,#b1b1ff,#b3b3ff,#b5b5ff,#b8b8ff,#babaff,#bdbdff,#bfbfff,#c2c2ff,#c5c5ff,#c8c8ff,#cbcbff,#ceceff,#d1d1ff,#d4d4ff,#d7d7ff,#dadaff,#ddddff,#dfdfff,#e2e2ff,#e4e4ff,#e7e7ff,#e9e9ff,#ebebff)"></i><i style="background:linear-gradient(90deg,#8484ff,#7d7dff,#7676ff,#7070ff,#6b6bff,#6767ff,#6464ff,#6161ff,#6060ff,#5f5fff,#5e5eff,#5e5eff,#5f5fff,#5f5fff,#6060ff,#6161ff,#6262ff,#6363ff,#6464ff,#6565ff,#6666ff,#6767ff,#6868ff,#6a6aff,#6b6bff,#6e6eff,#7070ff,#7373ff,#7676ff,#7a7aff,#7e7eff,#8282ff,#8787ff,#8b8bff,#8f8fff,#9393ff,#9898ff,#9b9bff,#9f9fff,#a2a2ff,#a5a5ff,#a8a8ff,#ababff,#aeaeff,#b0b0ff,#b2b2ff,#b5b5ff,#b7b7ff,#babaff,#bcbcff,#bfbfff,#c2c2ff,#c5c5ff,#c7c7ff,#cbcbff,#ceceff,#d1d1ff,#d4d4ff,#d7d7ff,#dadaff,#dcdcff,#dfdfff,#e2e2ff,#e4e4ff,#e7e7ff,#e9e9ff,#ebebff)"></i><i style="background:linear-gradient(90deg,#8787ff,#8080ff,#7979ff,#7373ff,#6e6eff,#6a6aff,#6767ff,#6565ff,#6363ff,#6262ff,#6262ff,#6262ff,#6262ff,#6363ff,#6363ff,#6464ff,#6565ff,#6565ff,#6666ff,#6767ff,#6868ff,#6969ff,#6a6aff,#6b6bff,#6d6dff,#6f6fff,#7171ff,#7474ff,#7878ff,#7b7bff,#7f7fff,#8383ff,#8787ff,#8b8bff,#8f8fff,#9494ff,#9898ff,#9b9bff,#9f9fff,#a2a2ff,#a5a5ff,#a8a8ff,#ababff,#adadff,#afafff,#b2b2ff,#b4b4ff,#b6b6ff,#b9b9ff,#bcbcff,#bebeff,#c1c1ff,#c4c4ff,#c7c7ff,#cacaff,#cdcdff,#d0d0ff,#d3d3ff,#d6d6ff,#d9d9ff,#dcdcff,#dfdfff,#e2e2ff,#e4e4ff,#e6e6ff,#e9e9ff,#ebebff)"></i><i style="background:linear-gradient(90deg,#8a8aff,#8282ff,#7c7cff,#7676ff,#7272ff,#6e6eff,#6a6aff,#6868ff,#6666ff,#6565ff,#6565ff,#6565ff,#6565ff,#6666ff,#6666ff,#6767ff,#6767ff,#6868ff,#6969ff,#6969ff,#6a6aff,#6b6bff,#6c6cff,#6d6dff,#6e6eff,#7070ff,#7373ff,#7575ff,#7878ff,#7c7cff,#8080ff,#8383ff,#8787ff,#8c8cff,#9090ff,#9494ff,#9797ff,#9b9bff,#9f9fff,#a2a2ff,#a5a5ff,#a7a7ff,#aaaaff,#acacff,#afafff,#b1b1ff,#b3b3ff,#b6b6ff,#b8b8ff,#bbbbff,#bebeff,#c0c0ff,#c3c3ff,#c6c6ff,#cacaff,#cdcdff,#d0d0ff,#d3d3ff,#d6d6ff,#d9d9ff,#dcdcff,#dfdfff,#e1e1ff,#e4e4ff,#e6e6ff,#e9e9ff,#ebebff)"></i><i style="background:linear-gradient(90deg,#8c8cff,#8585ff,#7f7fff,#7979ff,#7575ff,#7171ff,#6e6eff,#6b6bff,#6a6aff,#6969ff,#6868ff,#6868ff,#6868ff,#6868ff,#6969ff,#6969ff,#6a6aff,#6a6aff,#6b6bff,#6b6bff,#6c6cff,#6c6cff,#6d6dff,#6e6eff,#7070ff,#7272ff,#7474ff,#7676ff,#7979ff,#7d7dff,#8080ff,#8484ff,#8888ff,#8c8cff,#9090ff,#9494ff,#9797ff,#9b9bff,#9e9eff,#a1a1ff,#a4a4ff,#a7a7ff,#a9a9ff,#acacff,#aeaeff,#b0b0ff,#b3b3ff,#b5b5ff,#b8b8ff,#babaff,#bdbdff,#c0c0ff,#c3c3ff,#c6c6ff,#c9c9ff,#ccccff,#cfcfff,#d3d3ff,#d6d6ff,#d9d9ff,#dcdcff,#dfdfff,#e1e1ff,#e4e4ff,#e6e6ff,#e8e8ff,#ebebff)"></i><i style="background:linear-gradient(90deg,#8f8fff,#8888ff,#8282ff,#7c7cff,#7878ff,#7474ff,#7171ff,#6e6eff,#6d6dff,#6c6cff,#6b6bff,#6b6bff,#6b6bff,#6b6bff,#6b6bff,#6c6cff,#6c6cff,#6c6cff,#6d6dff,#6d6dff,#6d6dff,#6e6eff,#6f6fff,#7070ff,#7171ff,#7373ff,#7575ff,#7777ff,#7a7aff,#7d7dff,#8181ff,#8484ff,#8888ff,#8c8cff,#9090ff,#9494ff,#9797ff,#9b9bff,#9e9eff,#a1a1ff,#a4a4ff,#a6a6ff,#a9a9ff,#ababff,#adadff,#b0b0ff,#b2b2ff,#b4b4ff,#b7b7ff,#b9b9ff,#bcbcff,#bfbfff,#c2c2ff,#c5c5ff,#c8c8ff,#ccccff,#cfcfff,#d2d2ff,#d5d5ff,#d9d9ff,#dcdcff,#dedeff,#e1e1ff,#e4e4ff,#e6e6ff,#e8e8ff,#eaeaff)"></i><i style="background:linear-gradient(90deg,#9191ff,#8b8bff,#8585ff,#7f7fff,#7b7bff,#7777ff,#7474ff,#7171ff,#7070ff,#6f6fff,#6e6eff,#6e6eff,#6e6eff,#6e6eff,#6e6eff,#6e6eff,#6e6eff,#6e6eff,#6f6fff,#6f6fff,#6f6fff,#6f6fff,#7070ff,#7171ff,#7272ff,#7474ff,#7676ff,#7878ff,#7b7bff,#7e7eff,#8181ff,#8585ff,#8888ff,#8c8cff,#9090ff,#9393ff,#9797ff,#9a9aff,#9d9dff,#a0a0ff,#a3a3ff,#a5a5ff,#a8a8ff,#aaaaff,#acacff,#afafff,#b1b1ff,#b3b3ff,#b6b6ff,#b9b9ff,#bbbbff,#bebeff,#c1c1ff,#c5c5ff,#c8c8ff,#cbcbff,#cfcfff,#d2d2ff,#d5d5ff,#d8d8ff,#dbdbff,#dedeff,#e1e1ff,#e3e3ff,#e6e6ff,#e8e8ff,#eaeaff)"></i><i style="background:linear-gradient(90deg,#9494ff,#8d8dff,#8787ff,#8282ff,#7e7eff,#7a7aff,#7777ff,#7474ff,#7373ff,#7171ff,#7171ff,#7070ff,#7070ff,#7070ff,#7070ff,#7070ff,#7070ff,#7070ff,#7070ff,#7070ff,#7171ff,#7171ff,#7171ff,#7272ff,#7373ff,#7575ff,#7676ff,#7979ff,#7b7bff,#7e7eff,#8181ff,#8585ff,#8888ff,#8c8cff,#9090ff,#9393ff,#9696ff,#9a9aff,#9d9dff,#a0a0ff,#a2a2ff,#a5a5ff,#a7a7ff,#a9a9ff,#ababff,#aeaeff,#b0b0ff,#b2b2ff,#b5b5ff,#b8b8ff,#bbbbff,#bebeff,#c1c1ff,#c4c4ff,#c7c7ff,#cbcbff,#ceceff,#d1d1ff,#d5d5ff,#d8d8ff,#dbdbff,#dedeff,#e1e1ff,#e3e3ff,#e6e6ff,#e8e8ff,#eaeaff)"></i><i style="background:linear-gradient(90deg,#9696ff,#9090ff,#8a8aff,#8585ff,#8080ff,#7d7dff,#7a7aff,#7777ff,#7575ff,#7474ff,#7373ff,#7373ff,#7373ff,#7272ff,#7272ff,#7272ff,#7272ff,#7272ff,#7272ff,#7272ff,#7272ff,#7272ff,#7373ff,#7373ff,#7474ff,#7575ff,#7777ff,#7979ff,#7c7cff,#7f7fff,#8282ff,#8585ff,#8888ff,#8c8cff,#8f8fff,#9393ff,#9696ff,#9999ff,#9c9cff,#9f9fff,#a1a1ff,#a4a4ff,#a6a6ff,#a8a8ff,#ababff,#adadff,#afafff,#b1b1ff,#b4b4ff,#b7b7ff,#babaff,#bdbdff,#c0c0ff,#c3c3ff,#c7c7ff,#cacaff,#cdcdff,#d1d1ff,#d4d4ff,#d7d7ff,#dadaff,#ddddff,#e0e0ff,#e3e3ff,#e5e5ff,#e8e8ff,#eaeaff)"></i><i style="background:linear-gradient(90deg,#9898ff,#9292ff,#8c8cff,#8787ff,#8383ff,#7f7fff,#7c7cff,#7a7aff,#7878ff,#7777ff,#7676ff,#7575ff,#7575ff,#7575ff,#7575ff,#7474ff,#7474ff,#7474ff,#7474ff,#7474ff,#7373ff,#7373ff,#7474ff,#7474ff,#7575ff,#7676ff,#7878ff,#7a7aff,#7c7cff,#7f7fff,#8282ff,#8585ff,#8888ff,#8c8cff,#8f8fff,#9292ff,#9696ff,#9999ff,#9b9bff,#9e9eff,#a1a1ff,#a3a3ff,#a5a5ff,#a7a7ff,#aaaaff,#acacff,#aeaeff,#b0b0ff,#b3b3ff,#b6b6ff,#b9b9ff,#bcbcff,#bfbfff,#c2c2ff,#c6c6ff,#c9c9ff,#cdcdff,#d0d0ff,#d4d4ff,#d7d7ff,#dadaff,#ddddff,#e0e0ff,#e3e3ff,#e5e5ff,#e7e7ff,#eaeaff)"></i><i style="background:linear-gradient(90deg,#9a9aff,#9494ff,#8f8fff,#8a8aff,#8585ff,#8282ff,#7f7fff,#7c7cff,#7b7bff,#7979ff,#7878ff,#7878ff,#7777ff,#7777ff,#7777ff,#7676ff,#7676ff,#7676ff,#7575ff,#7575ff,#7575ff,#7575ff,#7575ff,#7575ff,#7676ff,#7777ff,#7878ff,#7a7aff,#7c7cff,#7f7fff,#8282ff,#8585ff,#8888ff,#8b8bff,#8f8fff,#9292ff,#9595ff,#9898ff,#9b9bff,#9d9dff,#a0a0ff,#a2a2ff,#a4a4ff,#a6a6ff,#a8a8ff,#ababff,#adadff,#afafff,#b2b2ff,#b5b5ff,#b8b8ff,#bbbbff,#bebeff,#c2c2ff,#c5c5ff,#c9c9ff,#ccccff,#d0d0ff,#d3d3ff,#d6d6ff,#dadaff,#ddddff,#e0e0ff,#e2e2ff,#e5e5ff,#e7e7ff,#e9e9ff)"></i><i style="background:linear-gradient(90deg,#9c9cff,#9696ff,#9191ff,#8c8cff,#8888ff,#8484ff,#8181ff,#7f7fff,#7d7dff,#7c7cff,#7b7bff,#7a7aff,#7979ff,#7979ff,#7878ff,#7878ff,#7878ff,#7777ff,#7777ff,#7676ff,#7676ff,#7676ff,#7676ff,#7676ff,#7676ff,#7777ff,#7979ff,#7b7bff,#7d7dff,#7f7fff,#8282ff,#8585ff,#8888ff,#8b8bff,#8e8eff,#9191ff,#9494ff,#9797ff,#9a9aff,#9c9cff,#9f9fff,#a1a1ff,#a3a3ff,#a5a5ff,#a7a7ff,#aaaaff,#acacff,#aeaeff,#b1b1ff,#b4b4ff,#b7b7ff,#babaff,#bdbdff,#c1c1ff,#c4c4ff,#c8c8ff,#ccccff,#cfcfff,#d3d3ff,#d6d6ff,#d9d9ff,#dcdcff,#dfdfff,#e2e2ff,#e5e5ff,#e7e7ff,#e9e9ff)"></i><i style="background:linear-gradient(90deg,#9e9eff,#9999ff,#9393ff,#8e8eff,#8a8aff,#8787ff,#8484ff,#8181ff,#7f7fff,#7e7eff,#7d7dff,#7c7cff,#7b7bff,#7b7bff,#7a7aff,#7a7aff,#7979ff,#7878ff,#7878ff,#7777ff,#7777ff,#7676ff,#7676ff,#7777ff,#7777ff,#7878ff,#7979ff,#7b7bff,#7d7dff,#7f7fff,#8282ff,#8585ff,#8888ff,#8b8bff,#8e8eff,#9191ff,#9494ff,#9797ff,#9999ff,#9c9cff,#9e9eff,#a0a0ff,#a2a2ff,#a4a4ff,#a6a6ff,#a8a8ff,#ababff,#adadff,#b0b0ff,#b3b3ff,#b6b6ff,#b9b9ff,#bcbcff,#c0c0ff,#c3c3ff,#c7c7ff,#cbcbff,#ceceff,#d2d2ff,#d5d5ff,#d9d9ff,#dcdcff,#dfdfff,#e2e2ff,#e4e4ff,#e7e7ff,#e9e9ff)"></i><i style="background:linear-gradient(90deg,#a0a0ff,#9b9bff,#9595ff,#9191ff,#8c8cff,#8989ff,#8686ff,#8484ff,#8282ff,#8080ff,#7f7fff,#7e7eff,#7d7dff,#7d7dff,#7c7cff,#7b7bff,#7b7bff,#7a7aff,#7979ff,#7878ff,#7878ff,#7777ff,#7777ff,#7777ff,#7878ff,#7878ff,#7979ff,#7b7bff,#7d7dff,#7f7fff,#8282ff,#8585ff,#8787ff,#8a8aff,#8d8dff,#9090ff,#9393ff,#9696ff,#9898ff,#9b9bff,#9d9dff,#9f9fff,#a1a1ff,#a3a3ff,#a5a5ff,#a7a7ff,#aaaaff,#acacff,#afafff,#b2b2ff,#b5b5ff,#b8b8ff,#bbbbff,#bfbfff,#c3c3ff,#c6c6ff,#cacaff,#ceceff,#d1d1ff,#d5d5ff,#d8d8ff,#dbdbff,#dedeff,#e1e1ff,#e4e4ff,#e6e6ff,#e9e9ff)"></i><i style="background:linear-gradient(90deg,#a2a2ff,#9d9dff,#9797ff,#9393ff,#8f8fff,#8b8bff,#8888ff,#8686ff,#8484ff,#8282ff,#8181ff,#8080ff,#7f7fff,#7e7eff,#7d7dff,#7d7dff,#7c7cff,#7b7bff,#7a7aff,#7979ff,#7979ff,#7878ff,#7878ff,#7878ff,#7878ff,#7979ff,#7a7aff,#7b7bff,#7d7dff,#7f7fff,#8282ff,#8484ff,#8787ff,#8a8aff,#8d8dff,#9090ff,#9292ff,#9595ff,#9797ff,#9a9aff,#9c9cff,#9e9eff,#a0a0ff,#a2a2ff,#a4a4ff,#a6a6ff,#a8a8ff,#ababff,#adadff,#b0b0ff,#b4b4ff,#b7b7ff,#babaff,#bebeff,#c2c2ff,#c6c6ff,#c9c9ff,#cdcdff,#d1d1ff,#d4d4ff,#d8d8ff,#dbdbff,#dedeff,#e1e1ff,#e3e3ff,#e6e6ff,#e8e8ff)"></i><i style="background:linear-gradient(90deg,#a4a4ff,#9f9fff,#9999ff,#9595ff,#9191ff,#8d8dff,#8a8aff,#8888ff,#8686ff,#8484ff,#8383ff,#8282ff,#8181ff,#8080ff,#7f7fff,#7e7eff,#7d7dff,#7c7cff,#7b7bff,#7a7aff,#7979ff,#7979ff,#7878ff,#7878ff,#7878ff,#7979ff,#7a7aff,#7b7bff,#7d7dff,#7f7fff,#8181ff,#8484ff,#8787ff,#8989ff,#8c8cff,#8f8fff,#9191ff,#9494ff,#9696ff,#9898ff,#9b9bff,#9d9dff,#9f9fff,#a0a0ff,#a3a3ff,#a5a5ff,#a7a7ff,#aaaaff,#acacff,#afafff,#b2b2ff,#b6b6ff,#b9b9ff,#bdbdff,#c1c1ff,#c5c5ff,#c9c9ff,#ccccff,#d0d0ff,#d4d4ff,#d7d7ff,#dadaff,#ddddff,#e0e0ff,#e3e3ff,#e6e6ff,#e8e8ff)"></i><i style="background:linear-gradient(90deg,#a6a6ff,#a0a0ff,#9b9bff,#9797ff,#9393ff,#8f8fff,#8c8cff,#8a8aff,#8888ff,#8686ff,#8585ff,#8383ff,#8282ff,#8181ff,#8080ff,#7f7fff,#7e7eff,#7d7dff,#7c7cff,#7b7bff,#7a7aff,#7979ff,#7979ff,#7979ff,#7979ff,#7979ff,#7a7aff,#7b7bff,#7d7dff,#7f7fff,#8181ff,#8484ff,#8686ff,#8989ff,#8b8bff,#8e8eff,#9191ff,#9393ff,#9595ff,#9797ff,#9999ff,#9b9bff,#9d9dff,#9f9fff,#a1a1ff,#a3a3ff,#a6a6ff,#a8a8ff,#ababff,#aeaeff,#b1b1ff,#b5b5ff,#b8b8ff,#bcbcff,#c0c0ff,#c4c4ff,#c8c8ff,#ccccff,#cfcfff,#d3d3ff,#d7d7ff,#dadaff,#ddddff,#e0e0ff,#e3e3ff,#e5e5ff,#e7e7ff)"></i><i style="background:linear-gradient(90deg,#a8a8ff,#a2a2ff,#9d9dff,#9999ff,#9595ff,#9191ff,#8e8eff,#8c8cff,#8a8aff,#8888ff,#8686ff,#8585ff,#8484ff,#8383ff,#8282ff,#8181ff,#7f7fff,#7e7eff,#7d7dff,#7c7cff,#7b7bff,#7a7aff,#7979ff,#7979ff,#7979ff,#7979ff,#7a7aff,#7b7bff,#7d7dff,#7f7fff,#8181ff,#8383ff,#8686ff,#8888ff,#8b8bff,#8d8dff,#9090ff,#9292ff,#9494ff,#9696ff,#9898ff,#9a9aff,#9c9cff,#9e9eff,#a0a0ff,#a2a2ff,#a4a4ff,#a7a7ff,#aaaaff,#adadff,#b0b0ff,#b4b4ff,#b7b7ff,#bbbbff,#bfbfff,#c3c3ff,#c7c7ff,#cbcbff,#cfcfff,#d2d2ff,#d6d6ff,#d9d9ff,#dcdcff,#dfdfff,#e2e2ff,#e5e5ff,#e7e7ff)"></i><i style="background:linear-gradient(90deg,#a9a9ff,#a4a4ff,#9f9fff,#9b9bff,#9797ff,#9393ff,#9090ff,#8d8dff,#8b8bff,#8a8aff,#8888ff,#8787ff,#8585ff,#8484ff,#8383ff,#8282ff,#8080ff,#7f7fff,#7e7eff,#7d7dff,#7b7bff,#7a7aff,#7a7aff,#7979ff,#7979ff,#7979ff,#7a7aff,#7b7bff,#7d7dff,#7e7eff,#8080ff,#8383ff,#8585ff,#8787ff,#8a8aff,#8c8cff,#8f8fff,#9191ff,#9393ff,#9595ff,#9797ff,#9999ff,#9b9bff,#9c9cff,#9f9fff,#a1a1ff,#a3a3ff,#a6a6ff,#a8a8ff,#acacff,#afafff,#b2b2ff,#b6b6ff,#babaff,#bebeff,#c2c2ff,#c6c6ff,#cacaff,#ceceff,#d2d2ff,#d5d5ff,#d9d9ff,#dcdcff,#dfdfff,#e2e2ff,#e4e4ff,#e7e7ff)"></i><i style="background:linear-gradient(90deg,#ababff,#a6a6ff,#a1a1ff,#9c9cff,#9898ff,#9595ff,#9292ff,#8f8fff,#8d8dff,#8b8bff,#8a8aff,#8888ff,#8787ff,#8585ff,#8484ff,#8383ff,#8181ff,#8080ff,#7f7fff,#7d7dff,#7c7cff,#7b7bff,#7a7aff,#7979ff,#7979ff,#7979ff,#7a7aff,#7b7bff,#7c7cff,#7e7eff,#8080ff,#8282ff,#8484ff,#8787ff,#8989ff,#8b8bff,#8e8eff,#9090ff,#9292ff,#9494ff,#9696ff,#9797ff,#9999ff,#9b9bff,#9d9dff,#9f9fff,#a2a2ff,#a4a4ff,#a7a7ff,#aaaaff,#aeaeff,#b1b1ff,#b5b5ff,#b9b9ff,#bdbdff,#c1c1ff,#c5c5ff,#c9c9ff,#cdcdff,#d1d1ff,#d5d5ff,#d8d8ff,#dbdbff,#dedeff,#e1e1ff,#e4e4ff,#e6e6ff)"></i><i style="background:linear-gradient(90deg,#acacff,#a7a7ff,#a2a2ff,#9e9eff,#9a9aff,#9797ff,#9494ff,#9191ff,#8f8fff,#8d8dff,#8b8bff,#8989ff,#8888ff,#8787ff,#8585ff,#8484ff,#8282ff,#8181ff,#7f7fff,#7e7eff,#7c7cff,#7b7bff,#7a7aff,#7a7aff,#7979ff,#7979ff,#7a7aff,#7b7bff,#7c7cff,#7e7eff,#7f7fff,#8282ff,#8484ff,#8686ff,#8888ff,#8a8aff,#8d8dff,#8f8fff,#9191ff,#9292ff,#9494ff,#9696ff,#9898ff,#9a9aff,#9c9cff,#9e9eff,#a0a0ff,#a3a3ff,#a6a6ff,#a9a9ff,#acacff,#b0b0ff,#b4b4ff,#b8b8ff,#bcbcff,#c0c0ff,#c4c4ff,#c9c9ff,#cdcdff,#d0d0ff,#d4d4ff,#d8d8ff,#dbdbff,#dedeff,#e1e1ff,#e3e3ff,#e6e6ff)"></i><i style="background:linear-gradient(90deg,#aeaeff,#a9a9ff,#a4a4ff,#a0a0ff,#9c9cff,#9898ff,#9595ff,#9292ff,#9090ff,#8e8eff,#8c8cff,#8b8bff,#8989ff,#8888ff,#8686ff,#8585ff,#8383ff,#8181ff,#8080ff,#7e7eff,#7d7dff,#7c7cff,#7a7aff,#7a7aff,#7979ff,#7979ff,#7a7aff,#7b7bff,#7c7cff,#7d7dff,#7f7fff,#8181ff,#8383ff,#8585ff,#8787ff,#8989ff,#8c8cff,#8e8eff,#8f8fff,#9191ff,#9393ff,#9595ff,#9696ff,#9898ff,#9a9aff,#9c9cff,#9f9fff,#a1a1ff,#a4a4ff,#a8a8ff,#ababff,#afafff,#b3b3ff,#b7b7ff,#bbbbff,#bfbfff,#c4c4ff,#c8c8ff,#ccccff,#d0d0ff,#d3d3ff,#d7d7ff,#dadaff,#ddddff,#e0e0ff,#e3e3ff,#e5e5ff)"></i><i style="background:linear-gradient(90deg,#afafff,#aaaaff,#a6a6ff,#a1a1ff,#9d9dff,#9a9aff,#9797ff,#9494ff,#9292ff,#9090ff,#8e8eff,#8c8cff,#8a8aff,#8989ff,#8787ff,#8686ff,#8484ff,#8282ff,#8080ff,#7f7fff,#7d7dff,#7c7cff,#7b7bff,#7a7aff,#7979ff,#7979ff,#7a7aff,#7a7aff,#7b7bff,#7d7dff,#7e7eff,#8080ff,#8282ff,#8484ff,#8686ff,#8888ff,#8a8aff,#8c8cff,#8e8eff,#9090ff,#9292ff,#9393ff,#9595ff,#9797ff,#9999ff,#9b9bff,#9d9dff,#a0a0ff,#a3a3ff,#a6a6ff,#aaaaff,#aeaeff,#b2b2ff,#b6b6ff,#babaff,#bebeff,#c3c3ff,#c7c7ff,#cbcbff,#cfcfff,#d3d3ff,#d6d6ff,#dadaff,#ddddff,#e0e0ff,#e2e2ff,#e5e5ff)"></i><i style="background:linear-gradient(90deg,#b1b1ff,#acacff,#a7a7ff,#a3a3ff,#9f9fff,#9b9bff,#9898ff,#9595ff,#9393ff,#9191ff,#8f8fff,#8d8dff,#8c8cff,#8a8aff,#8888ff,#8686ff,#8585ff,#8383ff,#8181ff,#7f7fff,#7d7dff,#7c7cff,#7b7bff,#7a7aff,#7979ff,#7979ff,#7979ff,#7a7aff,#7b7bff,#7c7cff,#7e7eff,#8080ff,#8181ff,#8383ff,#8585ff,#8787ff,#8989ff,#8b8bff,#8d8dff,#8e8eff,#9090ff,#9292ff,#9393ff,#9595ff,#9797ff,#9999ff,#9c9cff,#9f9fff,#a2a2ff,#a5a5ff,#a9a9ff,#acacff,#b1b1ff,#b5b5ff,#b9b9ff,#bdbdff,#c2c2ff,#c6c6ff,#cacaff,#ceceff,#d2d2ff,#d6d6ff,#d9d9ff,#dcdcff,#dfdfff,#e2e2ff,#e4e4ff)"></i><i style="background:linear-gradient(90deg,#b2b2ff,#adadff,#a8a8ff,#a4a4ff,#a0a0ff,#9d9dff,#9a9aff,#9797ff,#9494ff,#9292ff,#9090ff,#8e8eff,#8d8dff,#8b8bff,#8989ff,#8787ff,#8585ff,#8383ff,#8181ff,#7f7fff,#7e7eff,#7c7cff,#7b7bff,#7a7aff,#7979ff,#7979ff,#7979ff,#7a7aff,#7b7bff,#7c7cff,#7d7dff,#7f7fff,#8181ff,#8383ff,#8484ff,#8686ff,#8888ff,#8a8aff,#8b8bff,#8d8dff,#8f8fff,#9090ff,#9292ff,#9494ff,#9696ff,#9898ff,#9a9aff,#9d9dff,#a0a0ff,#a4a4ff,#a7a7ff,#ababff,#afafff,#b4b4ff,#b8b8ff,#bcbcff,#c1c1ff,#c5c5ff,#c9c9ff,#cdcdff,#d1d1ff,#d5d5ff,#d8d8ff,#dcdcff,#dedeff,#e1e1ff,#e4e4ff)"></i><i style="background:linear-gradient(90deg,#b3b3ff,#aeaeff,#aaaaff,#a6a6ff,#a2a2ff,#9e9eff,#9b9bff,#9898ff,#9696ff,#9393ff,#9191ff,#8f8fff,#8e8eff,#8c8cff,#8a8aff,#8888ff,#8686ff,#8484ff,#8282ff,#8080ff,#7e7eff,#7c7cff,#7b7bff,#7a7aff,#7979ff,#7979ff,#7979ff,#7979ff,#7a7aff,#7b7bff,#7d7dff,#7e7eff,#8080ff,#8282ff,#8383ff,#8585ff,#8787ff,#8989ff,#8a8aff,#8c8cff,#8d8dff,#8f8fff,#9090ff,#9292ff,#9494ff,#9696ff,#9999ff,#9c9cff,#9f9fff,#a2a2ff,#a6a6ff,#aaaaff,#aeaeff,#b3b3ff,#b7b7ff,#bbbbff,#c0c0ff,#c4c4ff,#c9c9ff,#cdcdff,#d1d1ff,#d4d4ff,#d8d8ff,#dbdbff,#dedeff,#e1e1ff,#e3e3ff)"></i><i style="background:linear-gradient(90deg,#b5b5ff,#b0b0ff,#ababff,#a7a7ff,#a3a3ff,#9f9fff,#9c9cff,#9999ff,#9797ff,#9595ff,#9292ff,#9090ff,#8e8eff,#8c8cff,#8a8aff,#8888ff,#8686ff,#8484ff,#8282ff,#8080ff,#7e7eff,#7c7cff,#7b7bff,#7a7aff,#7979ff,#7979ff,#7979ff,#7979ff,#7a7aff,#7b7bff,#7c7cff,#7d7dff,#7f7fff,#8181ff,#8282ff,#8484ff,#8686ff,#8787ff,#8989ff,#8a8aff,#8c8cff,#8d8dff,#8f8fff,#9191ff,#9393ff,#9595ff,#9797ff,#9a9aff,#9d9dff,#a1a1ff,#a5a5ff,#a9a9ff,#adadff,#b1b1ff,#b6b6ff,#babaff,#bfbfff,#c3c3ff,#c8c8ff,#ccccff,#d0d0ff,#d4d4ff,#d7d7ff,#dadaff,#ddddff,#e0e0ff,#e3e3ff)"></i><i style="background:linear-gradient(90deg,#b6b6ff,#b1b1ff,#acacff,#a8a8ff,#a4a4ff,#a1a1ff,#9e9eff,#9b9bff,#9898ff,#9696ff,#9494ff,#9191ff,#8f8fff,#8d8dff,#8b8bff,#8989ff,#8787ff,#8585ff,#8282ff,#8080ff,#7e7eff,#7d7dff,#7b7bff,#7a7aff,#7979ff,#7878ff,#7878ff,#7979ff,#7979ff,#7a7aff,#7b7bff,#7d7dff,#7e7eff,#8080ff,#8181ff,#8383ff,#8484ff,#8686ff,#8787ff,#8989ff,#8a8aff,#8c8cff,#8d8dff,#8f8fff,#9191ff,#9393ff,#9696ff,#9999ff,#9c9cff,#9f9fff,#a3a3ff,#a7a7ff,#acacff,#b0b0ff,#b5b5ff,#babaff,#bebeff,#c3c3ff,#c7c7ff,#cbcbff,#cfcfff,#d3d3ff,#d6d6ff,#dadaff,#ddddff,#e0e0ff,#e2e2ff)"></i><i style="background:linear-gradient(90deg,#b7b7ff,#b2b2ff,#aeaeff,#a9a9ff,#a6a6ff,#a2a2ff,#9f9fff,#9c9cff,#9999ff,#9797ff,#9595ff,#9292ff,#9090ff,#8e8eff,#8c8cff,#8a8aff,#8787ff,#8585ff,#8383ff,#8181ff,#7e7eff,#7d7dff,#7b7bff,#7a7aff,#7979ff,#7878ff,#7878ff,#7878ff,#7979ff,#7979ff,#7b7bff,#7c7cff,#7d7dff,#7f7fff,#8080ff,#8282ff,#8383ff,#8585ff,#8686ff,#8787ff,#8989ff,#8a8aff,#8c8cff,#8e8eff,#8f8fff,#9292ff,#9494ff,#9797ff,#9b9bff,#9e9eff,#a2a2ff,#a6a6ff,#ababff,#afafff,#b4b4ff,#b9b9ff,#bdbdff,#c2c2ff,#c6c6ff,#cacaff,#ceceff,#d2d2ff,#d6d6ff,#d9d9ff,#dcdcff,#dfdfff,#e2e2ff)"></i><i style="background:linear-gradient(90deg,#b8b8ff,#b3b3ff,#afafff,#ababff,#a7a7ff,#a3a3ff,#a0a0ff,#9d9dff,#9a9aff,#9898ff,#9595ff,#9393ff,#9191ff,#8f8fff,#8c8cff,#8a8aff,#8888ff,#8585ff,#8383ff,#8181ff,#7f7fff,#7d7dff,#7b7bff,#7a7aff,#7979ff,#7878ff,#7878ff,#7878ff,#7878ff,#7979ff,#7a7aff,#7b7bff,#7c7cff,#7e7eff,#7f7fff,#8181ff,#8282ff,#8383ff,#8585ff,#8686ff,#8787ff,#8989ff,#8a8aff,#8c8cff,#8e8eff,#9090ff,#9393ff,#9696ff,#9999ff,#9d9dff,#a1a1ff,#a5a5ff,#a9a9ff,#aeaeff,#b3b3ff,#b8b8ff,#bcbcff,#c1c1ff,#c5c5ff,#cacaff,#ceceff,#d1d1ff,#d5d5ff,#d8d8ff,#dbdbff,#dedeff,#e1e1ff)"></i><i style="background:linear-gradient(90deg,#b9b9ff,#b5b5ff,#b0b0ff,#acacff,#a8a8ff,#a4a4ff,#a1a1ff,#9e9eff,#9b9bff,#9999ff,#9696ff,#9494ff,#9292ff,#8f8fff,#8d8dff,#8b8bff,#8888ff,#8686ff,#8383ff,#8181ff,#7f7fff,#7d7dff,#7b7bff,#7979ff,#7878ff,#7878ff,#7777ff,#7777ff,#7878ff,#7878ff,#7979ff,#7a7aff,#7b7bff,#7d7dff,#7e7eff,#7f7fff,#8181ff,#8282ff,#8383ff,#8484ff,#8686ff,#8787ff,#8989ff,#8a8aff,#8c8cff,#8f8fff,#9191ff,#9494ff,#9898ff,#9b9bff,#9f9fff,#a4a4ff,#a8a8ff,#adadff,#b2b2ff,#b7b7ff,#bbbbff,#c0c0ff,#c4c4ff,#c9c9ff,#cdcdff,#d1d1ff,#d4d4ff,#d8d8ff,#dbdbff,#dedeff,#e1e1ff)"></i><i style="background:linear-gradient(90deg,#babaff,#b6b6ff,#b1b1ff,#adadff,#a9a9ff,#a5a5ff,#a2a2ff,#9f9fff,#9c9cff,#9a9aff,#9797ff,#9595ff,#9292ff,#9090ff,#8e8eff,#8b8bff,#8989ff,#8686ff,#8484ff,#8181ff,#7f7fff,#7d7dff,#7b7bff,#7979ff,#7878ff,#7777ff,#7777ff,#7777ff,#7777ff,#7878ff,#7878ff,#7979ff,#7b7bff,#7c7cff,#7d7dff,#7e7eff,#7f7fff,#8181ff,#8282ff,#8383ff,#8484ff,#8686ff,#8787ff,#8989ff,#8b8bff,#8d8dff,#9090ff,#9393ff,#9696ff,#9a9aff,#9e9eff,#a2a2ff,#a7a7ff,#acacff,#b1b1ff,#b6b6ff,#babaff,#bfbfff,#c4c4ff,#c8c8ff,#ccccff,#d0d0ff,#d4d4ff,#d7d7ff,#dadaff,#ddddff,#e0e0ff)"></i><i style="background:linear-gradient(90deg,#bbbbff,#b7b7ff,#b2b2ff,#aeaeff,#aaaaff,#a7a7ff,#a3a3ff,#a0a0ff,#9d9dff,#9b9bff,#9898ff,#9696ff,#9393ff,#9191ff,#8e8eff,#8c8cff,#8989ff,#8686ff,#8484ff,#8181ff,#7f7fff,#7d7dff,#7b7bff,#7979ff,#7878ff,#7777ff,#7676ff,#7676ff,#7777ff,#7777ff,#7878ff,#7979ff,#7a7aff,#7b7bff,#7c7cff,#7d7dff,#7e7eff,#7f7fff,#8080ff,#8181ff,#8383ff,#8484ff,#8585ff,#8787ff,#8989ff,#8c8cff,#8e8eff,#9191ff,#9595ff,#9999ff,#9d9dff,#a1a1ff,#a6a6ff,#ababff,#b0b0ff,#b5b5ff,#b9b9ff,#bebeff,#c3c3ff,#c7c7ff,#cbcbff,#cfcfff,#d3d3ff,#d6d6ff,#dadaff,#ddddff,#dfdfff)"></i><i style="background:linear-gradient(90deg,#bcbcff,#b8b8ff,#b3b3ff,#afafff,#ababff,#a8a8ff,#a4a4ff,#a1a1ff,#9e9eff,#9c9cff,#9999ff,#9696ff,#9494ff,#9191ff,#8f8fff,#8c8cff,#8989ff,#8787ff,#8484ff,#8181ff,#7f7fff,#7d7dff,#7b7bff,#7979ff,#7878ff,#7777ff,#7676ff,#7676ff,#7676ff,#7676ff,#7777ff,#7878ff,#7979ff,#7a7aff,#7b7bff,#7c7cff,#7d7dff,#7e7eff,#7f7fff,#8080ff,#8181ff,#8282ff,#8484ff,#8686ff,#8888ff,#8a8aff,#8d8dff,#9090ff,#9393ff,#9797ff,#9c9cff,#a0a0ff,#a5a5ff,#aaaaff,#afafff,#b4b4ff,#b9b9ff,#bdbdff,#c2c2ff,#c6c6ff,#cbcbff,#cfcfff,#d2d2ff,#d6d6ff,#d9d9ff,#dcdcff,#dfdfff)"></i><i style="background:linear-gradient(90deg,#bdbdff,#b9b9ff,#b4b4ff,#b0b0ff,#acacff,#a9a9ff,#a5a5ff,#a2a2ff,#9f9fff,#9c9cff,#9a9aff,#9797ff,#9494ff,#9292ff,#8f8fff,#8c8cff,#8a8aff,#8787ff,#8484ff,#8282ff,#7f7fff,#7d7dff,#7b7bff,#7979ff,#7777ff,#7676ff,#7676ff,#7575ff,#7575ff,#7676ff,#7676ff,#7777ff,#7878ff,#7979ff,#7a7aff,#7b7bff,#7c7cff,#7d7dff,#7e7eff,#7f7fff,#8080ff,#8181ff,#8282ff,#8484ff,#8686ff,#8888ff,#8b8bff,#8e8eff,#9292ff,#9696ff,#9a9aff,#9f9fff,#a4a4ff,#a9a9ff,#aeaeff,#b3b3ff,#b8b8ff,#bdbdff,#c1c1ff,#c6c6ff,#cacaff,#ceceff,#d2d2ff,#d5d5ff,#d8d8ff,#dbdbff,#dedeff)"></i><i style="background:linear-gradient(90deg,#bebeff,#babaff,#b5b5ff,#b1b1ff,#adadff,#aaaaff,#a6a6ff,#a3a3ff,#a0a0ff,#9d9dff,#9a9aff,#9898ff,#9595ff,#9292ff,#9090ff,#8d8dff,#8a8aff,#8787ff,#8484ff,#8282ff,#7f7fff,#7d7dff,#7b7bff,#7979ff,#7777ff,#7676ff,#7575ff,#7575ff,#7575ff,#7575ff,#7676ff,#7676ff,#7777ff,#7878ff,#7979ff,#7979ff,#7a7aff,#7b7bff,#7c7cff,#7d7dff,#7e7eff,#7f7fff,#8181ff,#8282ff,#8585ff,#8787ff,#8a8aff,#8d8dff,#9191ff,#9595ff,#9999ff,#9e9eff,#a2a2ff,#a8a8ff,#adadff,#b2b2ff,#b7b7ff,#bcbcff,#c0c0ff,#c5c5ff,#c9c9ff,#cdcdff,#d1d1ff,#d4d4ff,#d8d8ff,#dbdbff,#dedeff)"></i><i style="background:linear-gradient(90deg,#bfbfff,#bbbbff,#b6b6ff,#b2b2ff,#aeaeff,#aaaaff,#a7a7ff,#a4a4ff,#a1a1ff,#9e9eff,#9b9bff,#9898ff,#9696ff,#9393ff,#9090ff,#8d8dff,#8a8aff,#8787ff,#8585ff,#8282ff,#7f7fff,#7d7dff,#7b7bff,#7979ff,#7777ff,#7676ff,#7575ff,#7575ff,#7474ff,#7575ff,#7575ff,#7575ff,#7676ff,#7777ff,#7878ff,#7878ff,#7979ff,#7a7aff,#7b7bff,#7c7cff,#7d7dff,#7e7eff,#7f7fff,#8181ff,#8383ff,#8585ff,#8888ff,#8c8cff,#8f8fff,#9393ff,#9898ff,#9c9cff,#a1a1ff,#a6a6ff,#acacff,#b1b1ff,#b6b6ff,#bbbbff,#c0c0ff,#c4c4ff,#c8c8ff,#ccccff,#d0d0ff,#d4d4ff,#d7d7ff,#dadaff,#ddddff)"></i><i style="background:linear-gradient(90deg,#c0c0ff,#bbbbff,#b7b7ff,#b3b3ff,#afafff,#ababff,#a8a8ff,#a5a5ff,#a2a2ff,#9f9fff,#9c9cff,#9999ff,#9696ff,#9393ff,#9191ff,#8e8eff,#8b8bff,#8888ff,#8585ff,#8282ff,#7f7fff,#7d7dff,#7a7aff,#7979ff,#7777ff,#7676ff,#7575ff,#7474ff,#7474ff,#7474ff,#7474ff,#7575ff,#7575ff,#7676ff,#7676ff,#7777ff,#7878ff,#7979ff,#7979ff,#7a7aff,#7b7bff,#7c7cff,#7e7eff,#7f7fff,#8181ff,#8484ff,#8787ff,#8a8aff,#8e8eff,#9292ff,#9797ff,#9b9bff,#a0a0ff,#a5a5ff,#ababff,#b0b0ff,#b5b5ff,#babaff,#bfbfff,#c3c3ff,#c8c8ff,#ccccff,#d0d0ff,#d3d3ff,#d6d6ff,#d9d9ff,#dcdcff)"></i><i style="background:linear-gradient(90deg,#c1c1ff,#bcbcff,#b8b8ff,#b4b4ff,#b0b0ff,#acacff,#a9a9ff,#a6a6ff,#a2a2ff,#9f9fff,#9d9dff,#9a9aff,#9797ff,#9494ff,#9191ff,#8e8eff,#8b8bff,#8888ff,#8585ff,#8282ff,#7f7fff,#7d7dff,#7a7aff,#7878ff,#7777ff,#7575ff,#7474ff,#7474ff,#7373ff,#7373ff,#7474ff,#7474ff,#7474ff,#7575ff,#7575ff,#7676ff,#7777ff,#7777ff,#7878ff,#7979ff,#7a7aff,#7b7bff,#7c7cff,#7e7eff,#8080ff,#8282ff,#8585ff,#8989ff,#8d8dff,#9191ff,#9595ff,#9a9aff,#9f9fff,#a4a4ff,#aaaaff,#afafff,#b4b4ff,#b9b9ff,#bebeff,#c3c3ff,#c7c7ff,#cbcbff,#cfcfff,#d2d2ff,#d6d6ff,#d9d9ff,#dcdcff)"></i><i style="background:linear-gradient(90deg,#c2c2ff,#bdbdff,#b9b9ff,#b5b5ff,#b1b1ff,#adadff,#aaaaff,#a6a6ff,#a3a3ff,#a0a0ff,#9d9dff,#9a9aff,#9797ff,#9494ff,#9191ff,#8e8eff,#8b8bff,#8888ff,#8585ff,#8282ff,#7f7fff,#7d7dff,#7a7aff,#7878ff,#7777ff,#7575ff,#7474ff,#7373ff,#7373ff,#7373ff,#7373ff,#7373ff,#7373ff,#7474ff,#7474ff,#7575ff,#7575ff,#7676ff,#7777ff,#7777ff,#7878ff,#7979ff,#7b7bff,#7c7cff,#7e7eff,#8181ff,#8484ff,#8787ff,#8b8bff,#9090ff,#9494ff,#9999ff,#9e9eff,#a3a3ff,#a9a9ff,#aeaeff,#b3b3ff,#b8b8ff,#bdbdff,#c2c2ff,#c6c6ff,#cacaff,#ceceff,#d2d2ff,#d5d5ff,#d8d8ff,#dbdbff)"></i><i style="background:linear-gradient(90deg,#c3c3ff,#bebeff,#babaff,#b6b6ff,#b2b2ff,#aeaeff,#aaaaff,#a7a7ff,#a4a4ff,#a1a1ff,#9e9eff,#9b9bff,#9898ff,#9595ff,#9292ff,#8f8fff,#8c8cff,#8989ff,#8585ff,#8282ff,#8080ff,#7d7dff,#7a7aff,#7878ff,#7676ff,#7575ff,#7474ff,#7373ff,#7272ff,#7272ff,#7272ff,#7272ff,#7373ff,#7373ff,#7373ff,#7474ff,#7474ff,#7575ff,#7575ff,#7676ff,#7777ff,#7878ff,#7979ff,#7b7bff,#7d7dff,#8080ff,#8383ff,#8686ff,#8a8aff,#8e8eff,#9393ff,#9898ff,#9d9dff,#a2a2ff,#a8a8ff,#adadff,#b3b3ff,#b8b8ff,#bdbdff,#c1c1ff,#c6c6ff,#cacaff,#ceceff,#d1d1ff,#d4d4ff,#d8d8ff,#dbdbff)"></i><i style="background:linear-gradient(90deg,#c3c3ff,#bfbfff,#bbbbff,#b6b6ff,#b3b3ff,#afafff,#ababff,#a8a8ff,#a5a5ff,#a2a2ff,#9f9fff,#9c9cff,#9999ff,#9595ff,#9292ff,#8f8fff,#8c8cff,#8989ff,#8686ff,#8383ff,#8080ff,#7d7dff,#7a7aff,#7878ff,#7676ff,#7575ff,#7474ff,#7373ff,#7272ff,#7272ff,#7272ff,#7272ff,#7272ff,#7272ff,#7272ff,#7373ff,#7373ff,#7373ff,#7474ff,#7474ff,#7575ff,#7676ff,#7878ff,#7979ff,#7c7cff,#7e7eff,#8181ff,#8585ff,#8989ff,#8d8dff,#9292ff,#9797ff,#9c9cff,#a2a2ff,#a7a7ff,#acacff,#b2b2ff,#b7b7ff,#bcbcff,#c1c1ff,#c5c5ff,#c9c9ff,#cdcdff,#d0d0ff,#d4d4ff,#d7d7ff,#dadaff)"></i><i style="background:linear-gradient(90deg,#c4c4ff,#c0c0ff,#bbbbff,#b7b7ff,#b3b3ff,#b0b0ff,#acacff,#a9a9ff,#a5a5ff,#a2a2ff,#9f9fff,#9c9cff,#9999ff,#9696ff,#9393ff,#9090ff,#8c8cff,#8989ff,#8686ff,#8383ff,#8080ff,#7d7dff,#7a7aff,#7878ff,#7676ff,#7575ff,#7373ff,#7272ff,#7272ff,#7171ff,#7171ff,#7171ff,#7171ff,#7171ff,#7171ff,#7171ff,#7272ff,#7272ff,#7272ff,#7373ff,#7474ff,#7575ff,#7676ff,#7878ff,#7a7aff,#7d7dff,#8080ff,#8484ff,#8888ff,#8c8cff,#9191ff,#9696ff,#9b9bff,#a1a1ff,#a6a6ff,#acacff,#b1b1ff,#b6b6ff,#bbbbff,#c0c0ff,#c4c4ff,#c8c8ff,#ccccff,#d0d0ff,#d3d3ff,#d6d6ff,#d9d9ff)"></i><i style="background:linear-gradient(90deg,#c5c5ff,#c0c0ff,#bcbcff,#b8b8ff,#b4b4ff,#b0b0ff,#adadff,#a9a9ff,#a6a6ff,#a3a3ff,#a0a0ff,#9d9dff,#9a9aff,#9696ff,#9393ff,#9090ff,#8d8dff,#8989ff,#8686ff,#8383ff,#8080ff,#7d7dff,#7b7bff,#7878ff,#7676ff,#7474ff,#7373ff,#7272ff,#7171ff,#7171ff,#7070ff,#7070ff,#7070ff,#7070ff,#7070ff,#7070ff,#7171ff,#7171ff,#7171ff,#7272ff,#7272ff,#7373ff,#7575ff,#7777ff,#7979ff,#7b7bff,#7f7fff,#8282ff,#8686ff,#8b8bff,#9090ff,#9595ff,#9a9aff,#a0a0ff,#a5a5ff,#ababff,#b0b0ff,#b5b5ff,#babaff,#bfbfff,#c4c4ff,#c8c8ff,#ccccff,#cfcfff,#d3d3ff,#d6d6ff,#d9d9ff)"></i><i style="background:linear-gradient(90deg,#c6c6ff,#c1c1ff,#bdbdff,#b9b9ff,#b5b5ff,#b1b1ff,#aeaeff,#aaaaff,#a7a7ff,#a4a4ff,#a0a0ff,#9d9dff,#9a9aff,#9797ff,#9494ff,#9090ff,#8d8dff,#8a8aff,#8787ff,#8383ff,#8080ff,#7d7dff,#7b7bff,#7878ff,#7676ff,#7474ff,#7373ff,#7272ff,#7171ff,#7070ff,#7070ff,#7070ff,#6f6fff,#6f6fff,#6f6fff,#6f6fff,#6f6fff,#7070ff,#7070ff,#7070ff,#7171ff,#7272ff,#7373ff,#7575ff,#7777ff,#7a7aff,#7d7dff,#8181ff,#8585ff,#8a8aff,#8f8fff,#9494ff,#9999ff,#9f9fff,#a5a5ff,#aaaaff,#b0b0ff,#b5b5ff,#babaff,#bfbfff,#c3c3ff,#c7c7ff,#cbcbff,#cfcfff,#d2d2ff,#d5d5ff,#d8d8ff)"></i><i style="background:linear-gradient(90deg,#c6c6ff,#c2c2ff,#bebeff,#babaff,#b6b6ff,#b2b2ff,#aeaeff,#ababff,#a8a8ff,#a4a4ff,#a1a1ff,#9e9eff,#9b9bff,#9898ff,#9494ff,#9191ff,#8e8eff,#8a8aff,#8787ff,#8484ff,#8080ff,#7d7dff,#7b7bff,#7878ff,#7676ff,#7474ff,#7373ff,#7272ff,#7171ff,#7070ff,#6f6fff,#6f6fff,#6f6fff,#6e6eff,#6e6eff,#6e6eff,#6e6eff,#6e6eff,#6f6fff,#6f6fff,#7070ff,#7171ff,#7272ff,#7474ff,#7676ff,#7979ff,#7c7cff,#8080ff,#8484ff,#8989ff,#8e8eff,#9393ff,#9898ff,#9e9eff,#a4a4ff,#a9a9ff,#afafff,#b4b4ff,#b9b9ff,#bebeff,#c2c2ff,#c7c7ff,#cacaff,#ceceff,#d1d1ff,#d5d5ff,#d8d8ff)"></i><i style="background:linear-gradient(90deg,#c7c7ff,#c3c3ff,#bebeff,#babaff,#b6b6ff,#b3b3ff,#afafff,#acacff,#a8a8ff,#a5a5ff,#a2a2ff,#9f9fff,#9b9bff,#9898ff,#9595ff,#9191ff,#8e8eff,#8b8bff,#8787ff,#8484ff,#8181ff,#7e7eff,#7b7bff,#7878ff,#7676ff,#7474ff,#7373ff,#7171ff,#7070ff,#6f6fff,#6f6fff,#6e6eff,#6e6eff,#6e6eff,#6d6dff,#6d6dff,#6d6dff,#6d6dff,#6d6dff,#6e6eff,#6e6eff,#6f6fff,#7171ff,#7373ff,#7575ff,#7878ff,#7b7bff,#7f7fff,#8383ff,#8888ff,#8d8dff,#9292ff,#9898ff,#9d9dff,#a3a3ff,#a9a9ff,#aeaeff,#b3b3ff,#b8b8ff,#bdbdff,#c2c2ff,#c6c6ff,#cacaff,#cdcdff,#d1d1ff,#d4d4ff,#d7d7ff)"></i><i style="background:linear-gradient(90deg,#c8c8ff,#c3c3ff,#bfbfff,#bbbbff,#b7b7ff,#b3b3ff,#b0b0ff,#acacff,#a9a9ff,#a6a6ff,#a2a2ff,#9f9fff,#9c9cff,#9999ff,#9595ff,#9292ff,#8e8eff,#8b8bff,#8888ff,#8484ff,#8181ff,#7e7eff,#7b7bff,#7979ff,#7676ff,#7474ff,#7373ff,#7171ff,#7070ff,#6f6fff,#6e6eff,#6e6eff,#6d6dff,#6d6dff,#6c6cff,#6c6cff,#6c6cff,#6c6cff,#6c6cff,#6c6cff,#6d6dff,#6e6eff,#6f6fff,#7171ff,#7474ff,#7676ff,#7a7aff,#7e7eff,#8282ff,#8787ff,#8c8cff,#9191ff,#9797ff,#9d9dff,#a2a2ff,#a8a8ff,#adadff,#b3b3ff,#b8b8ff,#bdbdff,#c1c1ff,#c5c5ff,#c9c9ff,#cdcdff,#d0d0ff,#d3d3ff,#d6d6ff)"></i><i style="background:linear-gradient(90deg,#c8c8ff,#c4c4ff,#c0c0ff,#bcbcff,#b8b8ff,#b4b4ff,#b1b1ff,#adadff,#aaaaff,#a6a6ff,#a3a3ff,#a0a0ff,#9d9dff,#9999ff,#9696ff,#9292ff,#8f8fff,#8b8bff,#8888ff,#8585ff,#8181ff,#7e7eff,#7b7bff,#7979ff,#7676ff,#7474ff,#7272ff,#7171ff,#7070ff,#6f6fff,#6e6eff,#6d6dff,#6d6dff,#6c6cff,#6c6cff,#6b6bff,#6b6bff,#6b6bff,#6b6bff,#6b6bff,#6c6cff,#6d6dff,#6e6eff,#7070ff,#7272ff,#7575ff,#7979ff,#7d7dff,#8181ff,#8686ff,#8b8bff,#9090ff,#9696ff,#9c9cff,#a2a2ff,#a7a7ff,#adadff,#b2b2ff,#b7b7ff,#bcbcff,#c1c1ff,#c5c5ff,#c9c9ff,#ccccff,#d0d0ff,#d3d3ff,#d6d6ff)"></i><i style="background:linear-gradient(90deg,#c9c9ff,#c5c5ff,#c0c0ff,#bcbcff,#b9b9ff,#b5b5ff,#b1b1ff,#aeaeff,#aaaaff,#a7a7ff,#a4a4ff,#a0a0ff,#9d9dff,#9a9aff,#9696ff,#9393ff,#8f8fff,#8c8cff,#8888ff,#8585ff,#8282ff,#7e7eff,#7c7cff,#7979ff,#7676ff,#7474ff,#7272ff,#7171ff,#7070ff,#6e6eff,#6d6dff,#6d6dff,#6c6cff,#6b6bff,#6b6bff,#6a6aff,#6a6aff,#6a6aff,#6a6aff,#6a6aff,#6b6bff,#6c6cff,#6d6dff,#6f6fff,#7171ff,#7474ff,#7777ff,#7b7bff,#8080ff,#8585ff,#8a8aff,#9090ff,#9595ff,#9b9bff,#a1a1ff,#a7a7ff,#acacff,#b2b2ff,#b7b7ff,#bcbcff,#c0c0ff,#c4c4ff,#c8c8ff,#ccccff,#cfcfff,#d2d2ff,#d5d5ff)"></i><i style="background:linear-gradient(90deg,#c9c9ff,#c5c5ff,#c1c1ff,#bdbdff,#b9b9ff,#b6b6ff,#b2b2ff,#aeaeff,#ababff,#a8a8ff,#a4a4ff,#a1a1ff,#9e9eff,#9a9aff,#9797ff,#9393ff,#9090ff,#8c8cff,#8989ff,#8585ff,#8282ff,#7f7fff,#7c7cff,#7979ff,#7777ff,#7474ff,#7272ff,#7171ff,#6f6fff,#6e6eff,#6d6dff,#6c6cff,#6b6bff,#6b6bff,#6a6aff,#6969ff,#6969ff,#6969ff,#6969ff,#6969ff,#6969ff,#6a6aff,#6c6cff,#6e6eff,#7070ff,#7373ff,#7676ff,#7a7aff,#7f7fff,#8484ff,#8989ff,#8f8fff,#9595ff,#9b9bff,#a0a0ff,#a6a6ff,#acacff,#b1b1ff,#b6b6ff,#bbbbff,#c0c0ff,#c4c4ff,#c8c8ff,#cbcbff,#cfcfff,#d2d2ff,#d5d5ff)"></i><i style="background:linear-gradient(90deg,#cacaff,#c6c6ff,#c2c2ff,#bebeff,#babaff,#b6b6ff,#b3b3ff,#afafff,#acacff,#a8a8ff,#a5a5ff,#a2a2ff,#9e9eff,#9b9bff,#9797ff,#9494ff,#9090ff,#8d8dff,#8989ff,#8686ff,#8282ff,#7f7fff,#7c7cff,#7979ff,#7777ff,#7575ff,#7373ff,#7171ff,#6f6fff,#6e6eff,#6d6dff,#6c6cff,#6b6bff,#6a6aff,#6969ff,#6969ff,#6868ff,#6868ff,#6868ff,#6868ff,#6868ff,#6969ff,#6b6bff,#6c6cff,#6f6fff,#7272ff,#7575ff,#7a7aff,#7e7eff,#8383ff,#8989ff,#8e8eff,#9494ff,#9a9aff,#a0a0ff,#a6a6ff,#ababff,#b1b1ff,#b6b6ff,#bbbbff,#bfbfff,#c3c3ff,#c7c7ff,#cbcbff,#ceceff,#d1d1ff,#d4d4ff)"></i><i style="background:linear-gradient(90deg,#cbcbff,#c6c6ff,#c2c2ff,#bebeff,#bbbbff,#b7b7ff,#b3b3ff,#b0b0ff,#acacff,#a9a9ff,#a6a6ff,#a2a2ff,#9f9fff,#9c9cff,#9898ff,#9595ff,#9191ff,#8d8dff,#8a8aff,#8686ff,#8383ff,#8080ff,#7d7dff,#7a7aff,#7777ff,#7575ff,#7373ff,#7171ff,#6f6fff,#6e6eff,#6c6cff,#6b6bff,#6a6aff,#6969ff,#6868ff,#6868ff,#6767ff,#6767ff,#6767ff,#6767ff,#6767ff,#6868ff,#6969ff,#6b6bff,#6e6eff,#7171ff,#7474ff,#7979ff,#7d7dff,#8282ff,#8888ff,#8d8dff,#9393ff,#9999ff,#9f9fff,#a5a5ff,#ababff,#b0b0ff,#b5b5ff,#babaff,#bfbfff,#c3c3ff,#c7c7ff,#cacaff,#ceceff,#d1d1ff,#d4d4ff)"></i><i style="background:linear-gradient(90deg,#cbcbff,#c7c7ff,#c3c3ff,#bfbfff,#bbbbff,#b8b8ff,#b4b4ff,#b1b1ff,#adadff,#aaaaff,#a6a6ff,#a3a3ff,#a0a0ff,#9c9cff,#9999ff,#9595ff,#9292ff,#8e8eff,#8a8aff,#8787ff,#8383ff,#8080ff,#7d7dff,#7a7aff,#7777ff,#7575ff,#7373ff,#7171ff,#6f6fff,#6e6eff,#6c6cff,#6b6bff,#6a6aff,#6969ff,#6868ff,#6767ff,#6666ff,#6666ff,#6565ff,#6666ff,#6666ff,#6767ff,#6868ff,#6a6aff,#6d6dff,#7070ff,#7474ff,#7878ff,#7c7cff,#8282ff,#8787ff,#8d8dff,#9393ff,#9999ff,#9f9fff,#a5a5ff,#aaaaff,#b0b0ff,#b5b5ff,#babaff,#bebeff,#c2c2ff,#c6c6ff,#cacaff,#cdcdff,#d0d0ff,#d3d3ff)"></i><i style="background:linear-gradient(90deg,#ccccff,#c8c8ff,#c4c4ff,#c0c0ff,#bcbcff,#b8b8ff,#b5b5ff,#b1b1ff,#aeaeff,#aaaaff,#a7a7ff,#a4a4ff,#a0a0ff,#9d9dff,#9999ff,#9696ff,#9292ff,#8f8fff,#8b8bff,#8787ff,#8484ff,#8181ff,#7d7dff,#7a7aff,#7878ff,#7575ff,#7373ff,#7171ff,#6f6fff,#6d6dff,#6c6cff,#6b6bff,#6969ff,#6868ff,#6767ff,#6666ff,#6565ff,#6565ff,#6565ff,#6565ff,#6565ff,#6666ff,#6767ff,#6969ff,#6c6cff,#6f6fff,#7373ff,#7777ff,#7c7cff,#8181ff,#8686ff,#8c8cff,#9292ff,#9898ff,#9e9eff,#a4a4ff,#aaaaff,#afafff,#b4b4ff,#b9b9ff,#bebeff,#c2c2ff,#c6c6ff,#c9c9ff,#cdcdff,#d0d0ff,#d3d3ff)"></i><i style="background:linear-gradient(90deg,#ccccff,#c8c8ff,#c4c4ff,#c0c0ff,#bdbdff,#b9b9ff,#b5b5ff,#b2b2ff,#aeaeff,#ababff,#a8a8ff,#a4a4ff,#a1a1ff,#9e9eff,#9a9aff,#9696ff,#9393ff,#8f8fff,#8c8cff,#8888ff,#8484ff,#8181ff,#7e7eff,#7b7bff,#7878ff,#7575ff,#7373ff,#7171ff,#6f6fff,#6d6dff,#6c6cff,#6a6aff,#6969ff,#6868ff,#6666ff,#6565ff,#6565ff,#6464ff,#6464ff,#6464ff,#6464ff,#6565ff,#6666ff,#6868ff,#6b6bff,#6e6eff,#7272ff,#7676ff,#7b7bff,#8080ff,#8686ff,#8c8cff,#9292ff,#9898ff,#9e9eff,#a4a4ff,#aaaaff,#afafff,#b4b4ff,#b9b9ff,#bdbdff,#c1c1ff,#c5c5ff,#c9c9ff,#ccccff,#cfcfff,#d2d2ff)"></i><i style="background:linear-gradient(90deg,#cdcdff,#c9c9ff,#c5c5ff,#c1c1ff,#bdbdff,#babaff,#b6b6ff,#b3b3ff,#afafff,#acacff,#a8a8ff,#a5a5ff,#a2a2ff,#9e9eff,#9b9bff,#9797ff,#9494ff,#9090ff,#8c8cff,#8989ff,#8585ff,#8282ff,#7e7eff,#7b7bff,#7878ff,#7676ff,#7373ff,#7171ff,#6f6fff,#6d6dff,#6c6cff,#6a6aff,#6868ff,#6767ff,#6666ff,#6565ff,#6464ff,#6363ff,#6363ff,#6363ff,#6363ff,#6464ff,#6565ff,#6767ff,#6a6aff,#6d6dff,#7171ff,#7575ff,#7a7aff,#8080ff,#8585ff,#8b8bff,#9191ff,#9797ff,#9e9eff,#a3a3ff,#a9a9ff,#afafff,#b4b4ff,#b9b9ff,#bdbdff,#c1c1ff,#c5c5ff,#c9c9ff,#ccccff,#cfcfff,#d2d2ff)"></i><i style="background:linear-gradient(90deg,#cdcdff,#c9c9ff,#c5c5ff,#c2c2ff,#bebeff,#babaff,#b7b7ff,#b3b3ff,#b0b0ff,#adadff,#a9a9ff,#a6a6ff,#a2a2ff,#9f9fff,#9b9bff,#9898ff,#9494ff,#9191ff,#8d8dff,#8989ff,#8686ff,#8282ff,#7f7fff,#7c7cff,#7979ff,#7676ff,#7474ff,#7171ff,#6f6fff,#6d6dff,#6b6bff,#6a6aff,#6868ff,#6767ff,#6565ff,#6464ff,#6363ff,#6262ff,#6262ff,#6262ff,#6262ff,#6363ff,#6464ff,#6666ff,#6969ff,#6c6cff,#7070ff,#7575ff,#7a7aff,#7f7fff,#8585ff,#8b8bff,#9191ff,#9797ff,#9d9dff,#a3a3ff,#a9a9ff,#aeaeff,#b3b3ff,#b8b8ff,#bdbdff,#c1c1ff,#c5c5ff,#c8c8ff,#cbcbff,#cfcfff,#d2d2ff)"></i><i style="background:linear-gradient(90deg,#ceceff,#cacaff,#c6c6ff,#c2c2ff,#bebeff,#bbbbff,#b7b7ff,#b4b4ff,#b1b1ff,#adadff,#aaaaff,#a7a7ff,#a3a3ff,#a0a0ff,#9c9cff,#9999ff,#9595ff,#9191ff,#8e8eff,#8a8aff,#8686ff,#8383ff,#8080ff,#7c7cff,#7979ff,#7777ff,#7474ff,#7272ff,#6f6fff,#6d6dff,#6b6bff,#6a6aff,#6868ff,#6666ff,#6565ff,#6363ff,#6262ff,#6161ff,#6161ff,#6161ff,#6161ff,#6262ff,#6363ff,#6666ff,#6868ff,#6c6cff,#7070ff,#7474ff,#7979ff,#7f7fff,#8484ff,#8a8aff,#9191ff,#9797ff,#9d9dff,#a3a3ff,#a9a9ff,#aeaeff,#b3b3ff,#b8b8ff,#bcbcff,#c0c0ff,#c4c4ff,#c8c8ff,#cbcbff,#ceceff,#d1d1ff)"></i><i style="background:linear-gradient(90deg,#ceceff,#cacaff,#c7c7ff,#c3c3ff,#bfbfff,#bcbcff,#b8b8ff,#b5b5ff,#b1b1ff,#aeaeff,#ababff,#a7a7ff,#a4a4ff,#a1a1ff,#9d9dff,#9999ff,#9696ff,#9292ff,#8e8eff,#8b8bff,#8787ff,#8484ff,#8080ff,#7d7dff,#7a7aff,#7777ff,#7474ff,#7272ff,#7070ff,#6d6dff,#6b6bff,#6969ff,#6868ff,#6666ff,#6464ff,#6363ff,#6262ff,#6161ff,#6060ff,#6060ff,#6060ff,#6161ff,#6363ff,#6565ff,#6767ff,#6b6bff,#6f6fff,#7373ff,#7979ff,#7e7eff,#8484ff,#8a8aff,#9090ff,#9797ff,#9d9dff,#a3a3ff,#a8a8ff,#aeaeff,#b3b3ff,#b8b8ff,#bcbcff,#c0c0ff,#c4c4ff,#c7c7ff,#cbcbff,#ceceff,#d1d1ff)"></i><i style="background:linear-gradient(90deg,#cfcfff,#cbcbff,#c7c7ff,#c3c3ff,#c0c0ff,#bcbcff,#b9b9ff,#b5b5ff,#b2b2ff,#afafff,#ababff,#a8a8ff,#a5a5ff,#a1a1ff,#9e9eff,#9a9aff,#9797ff,#9393ff,#8f8fff,#8c8cff,#8888ff,#8484ff,#8181ff,#7e7eff,#7b7bff,#7878ff,#7575ff,#7272ff,#7070ff,#6e6eff,#6b6bff,#6969ff,#6767ff,#6565ff,#6464ff,#6262ff,#6161ff,#6060ff,#5f5fff,#5f5fff,#6060ff,#6060ff,#6262ff,#6464ff,#6767ff,#6a6aff,#6e6eff,#7373ff,#7878ff,#7e7eff,#8484ff,#8a8aff,#9090ff,#9696ff,#9c9cff,#a2a2ff,#a8a8ff,#aeaeff,#b3b3ff,#b7b7ff,#bcbcff,#c0c0ff,#c4c4ff,#c7c7ff,#cacaff,#ceceff,#d1d1ff)"></i><i style="background:linear-gradient(90deg,#cfcfff,#cbcbff,#c8c8ff,#c4c4ff,#c0c0ff,#bdbdff,#b9b9ff,#b6b6ff,#b3b3ff,#afafff,#acacff,#a9a9ff,#a6a6ff,#a2a2ff,#9f9fff,#9b9bff,#9797ff,#9494ff,#9090ff,#8c8cff,#8989ff,#8585ff,#8282ff,#7e7eff,#7b7bff,#7878ff,#7575ff,#7373ff,#7070ff,#6e6eff,#6b6bff,#6969ff,#6767ff,#6565ff,#6363ff,#6262ff,#6060ff,#5f5fff,#5f5fff,#5e5eff,#5f5fff,#6060ff,#6161ff,#6363ff,#6666ff,#6a6aff,#6e6eff,#7272ff,#7878ff,#7d7dff,#8383ff,#8989ff,#9090ff,#9696ff,#9c9cff,#a2a2ff,#a8a8ff,#adadff,#b3b3ff,#b7b7ff,#bcbcff,#c0c0ff,#c3c3ff,#c7c7ff,#cacaff,#cdcdff,#d0d0ff)"></i><i style="background:linear-gradient(90deg,#d0d0ff,#ccccff,#c8c8ff,#c4c4ff,#c1c1ff,#bdbdff,#babaff,#b7b7ff,#b3b3ff,#b0b0ff,#adadff,#aaaaff,#a6a6ff,#a3a3ff,#9f9fff,#9c9cff,#9898ff,#9595ff,#9191ff,#8d8dff,#8a8aff,#8686ff,#8282ff,#7f7fff,#7c7cff,#7979ff,#7676ff,#7373ff,#7070ff,#6e6eff,#6b6bff,#6969ff,#6767ff,#6565ff,#6363ff,#6161ff,#6060ff,#5f5fff,#5e5eff,#5e5eff,#5e5eff,#5f5fff,#6060ff,#6363ff,#6565ff,#6969ff,#6d6dff,#7272ff,#7777ff,#7d7dff,#8383ff,#8989ff,#9090ff,#9696ff,#9c9cff,#a2a2ff,#a8a8ff,#adadff,#b2b2ff,#b7b7ff,#bcbcff,#c0c0ff,#c3c3ff,#c7c7ff,#cacaff,#cdcdff,#d0d0ff)"></i><i style="background:linear-gradient(90deg,#d0d0ff,#ccccff,#c9c9ff,#c5c5ff,#c1c1ff,#bebeff,#bbbbff,#b7b7ff,#b4b4ff,#b1b1ff,#aeaeff,#ababff,#a7a7ff,#a4a4ff,#a0a0ff,#9d9dff,#9999ff,#9696ff,#9292ff,#8e8eff,#8a8aff,#8787ff,#8383ff,#8080ff,#7d7dff,#7979ff,#7676ff,#7373ff,#7171ff,#6e6eff,#6c6cff,#6969ff,#6767ff,#6565ff,#6363ff,#6161ff,#5f5fff,#5e5eff,#5d5dff,#5d5dff,#5d5dff,#5e5eff,#6060ff,#6262ff,#6565ff,#6969ff,#6d6dff,#7272ff,#7777ff,#7d7dff,#8383ff,#8989ff,#8f8fff,#9696ff,#9c9cff,#a2a2ff,#a8a8ff,#adadff,#b2b2ff,#b7b7ff,#bbbbff,#bfbfff,#c3c3ff,#c6c6ff,#cacaff,#cdcdff,#d0d0ff)"></i><i style="background:linear-gradient(90deg,#d0d0ff,#cdcdff,#c9c9ff,#c6c6ff,#c2c2ff,#bfbfff,#bbbbff,#b8b8ff,#b5b5ff,#b2b2ff,#afafff,#ababff,#a8a8ff,#a5a5ff,#a1a1ff,#9e9eff,#9a9aff,#9696ff,#9393ff,#8f8fff,#8b8bff,#8888ff,#8484ff,#8181ff,#7d7dff,#7a7aff,#7777ff,#7474ff,#7171ff,#6e6eff,#6c6cff,#6969ff,#6767ff,#6464ff,#6262ff,#6060ff,#5f5fff,#5e5eff,#5d5dff,#5c5cff,#5d5dff,#5e5eff,#5f5fff,#6161ff,#6464ff,#6868ff,#6c6cff,#7171ff,#7777ff,#7d7dff,#8383ff,#8989ff,#8f8fff,#9696ff,#9c9cff,#a2a2ff,#a8a8ff,#adadff,#b2b2ff,#b7b7ff,#bbbbff,#bfbfff,#c3c3ff,#c6c6ff,#c9c9ff,#ccccff,#cfcfff)"></i><i style="background:linear-gradient(90deg,#d1d1ff,#cdcdff,#cacaff,#c6c6ff,#c3c3ff,#bfbfff,#bcbcff,#b9b9ff,#b6b6ff,#b3b3ff,#afafff,#acacff,#a9a9ff,#a6a6ff,#a2a2ff,#9f9fff,#9b9bff,#9797ff,#9494ff,#9090ff,#8c8cff,#8989ff,#8585ff,#8181ff,#7e7eff,#7b7bff,#7878ff,#7474ff,#7272ff,#6f6fff,#6c6cff,#6969ff,#6767ff,#6464ff,#6262ff,#6060ff,#5e5eff,#5d5dff,#5c5cff,#5c5cff,#5c5cff,#5d5dff,#5f5fff,#6161ff,#6464ff,#6868ff,#6c6cff,#7171ff,#7676ff,#7c7cff,#8383ff,#8989ff,#8f8fff,#9696ff,#9c9cff,#a2a2ff,#a8a8ff,#adadff,#b2b2ff,#b7b7ff,#bbbbff,#bfbfff,#c3c3ff,#c6c6ff,#c9c9ff,#ccccff,#cfcfff)"></i><i style="background:linear-gradient(90deg,#d1d1ff,#ceceff,#cacaff,#c7c7ff,#c3c3ff,#c0c0ff,#bdbdff,#babaff,#b6b6ff,#b3b3ff,#b0b0ff,#adadff,#aaaaff,#a7a7ff,#a3a3ff,#a0a0ff,#9c9cff,#9898ff,#9595ff,#9191ff,#8d8dff,#8a8aff,#8686ff,#8282ff,#7f7fff,#7b7bff,#7878ff,#7575ff,#7272ff,#6f6fff,#6c6cff,#6969ff,#6767ff,#6464ff,#6262ff,#6060ff,#5e5eff,#5d5dff,#5c5cff,#5b5bff,#5c5cff,#5c5cff,#5e5eff,#6060ff,#6363ff,#6767ff,#6c6cff,#7171ff,#7676ff,#7c7cff,#8282ff,#8989ff,#8f8fff,#9696ff,#9c9cff,#a2a2ff,#a8a8ff,#adadff,#b2b2ff,#b7b7ff,#bbbbff,#bfbfff,#c3c3ff,#c6c6ff,#c9c9ff,#ccccff,#cfcfff)"></i><i style="background:linear-gradient(90deg,#d2d2ff,#ceceff,#cacaff,#c7c7ff,#c4c4ff,#c1c1ff,#bdbdff,#babaff,#b7b7ff,#b4b4ff,#b1b1ff,#aeaeff,#ababff,#a7a7ff,#a4a4ff,#a1a1ff,#9d9dff,#9999ff,#9696ff,#9292ff,#8e8eff,#8b8bff,#8787ff,#8383ff,#8080ff,#7c7cff,#7979ff,#7676ff,#7272ff,#6f6fff,#6c6cff,#6969ff,#6767ff,#6464ff,#6262ff,#5f5fff,#5e5eff,#5c5cff,#5b5bff,#5b5bff,#5b5bff,#5c5cff,#5e5eff,#6060ff,#6363ff,#6767ff,#6b6bff,#7171ff,#7676ff,#7c7cff,#8282ff,#8989ff,#8f8fff,#9696ff,#9c9cff,#a2a2ff,#a8a8ff,#adadff,#b2b2ff,#b7b7ff,#bbbbff,#bfbfff,#c3c3ff,#c6c6ff,#c9c9ff,#ccccff,#cfcfff)"></i><i style="background:linear-gradient(90deg,#d2d2ff,#ceceff,#cbcbff,#c8c8ff,#c4c4ff,#c1c1ff,#bebeff,#bbbbff,#b8b8ff,#b5b5ff,#b2b2ff,#afafff,#acacff,#a8a8ff,#a5a5ff,#a2a2ff,#9e9eff,#9a9aff,#9797ff,#9393ff,#8f8fff,#8c8cff,#8888ff,#8484ff,#8181ff,#7d7dff,#7a7aff,#7676ff,#7373ff,#7070ff,#6d6dff,#6a6aff,#6767ff,#6464ff,#6262ff,#5f5fff,#5d5dff,#5c5cff,#5b5bff,#5a5aff,#5b5bff,#5c5cff,#5d5dff,#6060ff,#6363ff,#6767ff,#6b6bff,#7070ff,#7676ff,#7c7cff,#8282ff,#8989ff,#9090ff,#9696ff,#9c9cff,#a2a2ff,#a8a8ff,#adadff,#b2b2ff,#b7b7ff,#bbbbff,#bfbfff,#c2c2ff,#c6c6ff,#c9c9ff,#ccccff,#cfcfff)"></i><i style="background:linear-gradient(90deg,#d2d2ff,#cfcfff,#cbcbff,#c8c8ff,#c5c5ff,#c2c2ff,#bfbfff,#bcbcff,#b9b9ff,#b6b6ff,#b3b3ff,#b0b0ff,#adadff,#a9a9ff,#a6a6ff,#a3a3ff,#9f9fff,#9c9cff,#9898ff,#9494ff,#9090ff,#8d8dff,#8989ff,#8585ff,#8282ff,#7e7eff,#7a7aff,#7777ff,#7474ff,#7070ff,#6d6dff,#6a6aff,#6767ff,#6464ff,#6161ff,#5f5fff,#5d5dff,#5b5bff,#5a5aff,#5a5aff,#5a5aff,#5b5bff,#5d5dff,#5f5fff,#6363ff,#6666ff,#6b6bff,#7070ff,#7676ff,#7c7cff,#8383ff,#8989ff,#9090ff,#9696ff,#9d9dff,#a3a3ff,#a8a8ff,#aeaeff,#b3b3ff,#b7b7ff,#bbbbff,#bfbfff,#c2c2ff,#c6c6ff,#c9c9ff,#ccccff,#cfcfff)"></i><i style="background:linear-gradient(90deg,#d2d2ff,#cfcfff,#ccccff,#c9c9ff,#c5c5ff,#c2c2ff,#bfbfff,#bcbcff,#b9b9ff,#b7b7ff,#b4b4ff,#b1b1ff,#aeaeff,#aaaaff,#a7a7ff,#a4a4ff,#a0a0ff,#9d9dff,#9999ff,#9595ff,#9191ff,#8e8eff,#8a8aff,#8686ff,#8282ff,#7f7fff,#7b7bff,#7878ff,#7474ff,#7171ff,#6d6dff,#6a6aff,#6767ff,#6464ff,#6161ff,#5f5fff,#5d5dff,#5b5bff,#5a5aff,#5a5aff,#5a5aff,#5b5bff,#5c5cff,#5f5fff,#6262ff,#6666ff,#6b6bff,#7070ff,#7676ff,#7c7cff,#8383ff,#8989ff,#9090ff,#9696ff,#9d9dff,#a3a3ff,#a8a8ff,#aeaeff,#b3b3ff,#b7b7ff,#bbbbff,#bfbfff,#c3c3ff,#c6c6ff,#c9c9ff,#ccccff,#ceceff)"></i><i style="background:linear-gradient(90deg,#d3d3ff,#cfcfff,#ccccff,#c9c9ff,#c6c6ff,#c3c3ff,#c0c0ff,#bdbdff,#babaff,#b7b7ff,#b4b4ff,#b1b1ff,#aeaeff,#ababff,#a8a8ff,#a5a5ff,#a1a1ff,#9e9eff,#9a9aff,#9696ff,#9393ff,#8f8fff,#8b8bff,#8787ff,#8383ff,#8080ff,#7c7cff,#7878ff,#7575ff,#7171ff,#6e6eff,#6a6aff,#6767ff,#6464ff,#6161ff,#5f5fff,#5d5dff,#5b5bff,#5a5aff,#5959ff,#5a5aff,#5a5aff,#5c5cff,#5f5fff,#6262ff,#6666ff,#6b6bff,#7070ff,#7676ff,#7c7cff,#8383ff,#8989ff,#9090ff,#9797ff,#9d9dff,#a3a3ff,#a9a9ff,#aeaeff,#b3b3ff,#b7b7ff,#bbbbff,#bfbfff,#c3c3ff,#c6c6ff,#c9c9ff,#ccccff,#ceceff)"></i><i style="background:linear-gradient(90deg,#d3d3ff,#d0d0ff,#cdcdff,#c9c9ff,#c6c6ff,#c3c3ff,#c1c1ff,#bebeff,#bbbbff,#b8b8ff,#b5b5ff,#b2b2ff,#afafff,#acacff,#a9a9ff,#a6a6ff,#a2a2ff,#9f9fff,#9b9bff,#9898ff,#9494ff,#9090ff,#8c8cff,#8888ff,#8484ff,#8181ff,#7d7dff,#7979ff,#7575ff,#7272ff,#6e6eff,#6b6bff,#6767ff,#6464ff,#6161ff,#5f5fff,#5c5cff,#5b5bff,#5a5aff,#5959ff,#5959ff,#5a5aff,#5c5cff,#5f5fff,#6262ff,#6666ff,#6b6bff,#7070ff,#7676ff,#7d7dff,#8383ff,#8a8aff,#9090ff,#9797ff,#9d9dff,#a3a3ff,#a9a9ff,#aeaeff,#b3b3ff,#b8b8ff,#bcbcff,#bfbfff,#c3c3ff,#c6c6ff,#c9c9ff,#ccccff,#ceceff)"></i><i style="background:linear-gradient(90deg,#d3d3ff,#d0d0ff,#cdcdff,#cacaff,#c7c7ff,#c4c4ff,#c1c1ff,#bebeff,#bcbcff,#b9b9ff,#b6b6ff,#b3b3ff,#b0b0ff,#adadff,#aaaaff,#a7a7ff,#a4a4ff,#a0a0ff,#9c9cff,#9999ff,#9595ff,#9191ff,#8d8dff,#8989ff,#8686ff,#8282ff,#7e7eff,#7a7aff,#7676ff,#7272ff,#6f6fff,#6b6bff,#6868ff,#6464ff,#6161ff,#5f5fff,#5c5cff,#5b5bff,#5959ff,#5959ff,#5959ff,#5a5aff,#5c5cff,#5e5eff,#6262ff,#6666ff,#6b6bff,#7070ff,#7676ff,#7d7dff,#8383ff,#8a8aff,#9191ff,#9797ff,#9e9eff,#a4a4ff,#a9a9ff,#afafff,#b3b3ff,#b8b8ff,#bcbcff,#bfbfff,#c3c3ff,#c6c6ff,#c9c9ff,#ccccff,#ceceff)"></i><i style="background:linear-gradient(90deg,#d4d4ff,#d0d0ff,#cdcdff,#cacaff,#c7c7ff,#c5c5ff,#c2c2ff,#bfbfff,#bcbcff,#babaff,#b7b7ff,#b4b4ff,#b1b1ff,#aeaeff,#ababff,#a8a8ff,#a5a5ff,#a1a1ff,#9e9eff,#9a9aff,#9696ff,#9292ff,#8e8eff,#8b8bff,#8787ff,#8383ff,#7f7fff,#7b7bff,#7777ff,#7373ff,#6f6fff,#6c6cff,#6868ff,#6565ff,#6161ff,#5f5fff,#5c5cff,#5a5aff,#5959ff,#5959ff,#5959ff,#5a5aff,#5c5cff,#5e5eff,#6262ff,#6666ff,#6b6bff,#7171ff,#7777ff,#7d7dff,#8484ff,#8a8aff,#9191ff,#9898ff,#9e9eff,#a4a4ff,#aaaaff,#afafff,#b4b4ff,#b8b8ff,#bcbcff,#c0c0ff,#c3c3ff,#c6c6ff,#c9c9ff,#ccccff,#ceceff)"></i><i style="background:linear-gradient(90deg,#d4d4ff,#d1d1ff,#ceceff,#cbcbff,#c8c8ff,#c5c5ff,#c2c2ff,#c0c0ff,#bdbdff,#bbbbff,#b8b8ff,#b5b5ff,#b2b2ff,#b0b0ff,#adadff,#a9a9ff,#a6a6ff,#a3a3ff,#9f9fff,#9b9bff,#9797ff,#9494ff,#9090ff,#8c8cff,#8888ff,#8484ff,#8080ff,#7c7cff,#7878ff,#7474ff,#7070ff,#6c6cff,#6868ff,#6565ff,#6262ff,#5f5fff,#5c5cff,#5a5aff,#5959ff,#5858ff,#5959ff,#5a5aff,#5c5cff,#5e5eff,#6262ff,#6666ff,#6b6bff,#7171ff,#7777ff,#7d7dff,#8484ff,#8b8bff,#9191ff,#9898ff,#9e9eff,#a4a4ff,#aaaaff,#afafff,#b4b4ff,#b8b8ff,#bcbcff,#c0c0ff,#c3c3ff,#c6c6ff,#c9c9ff,#ccccff,#ceceff)"></i><i style="background:linear-gradient(90deg,#d4d4ff,#d1d1ff,#ceceff,#cbcbff,#c8c8ff,#c6c6ff,#c3c3ff,#c1c1ff,#bebeff,#bbbbff,#b9b9ff,#b6b6ff,#b3b3ff,#b1b1ff,#aeaeff,#aaaaff,#a7a7ff,#a4a4ff,#a0a0ff,#9d9dff,#9999ff,#9595ff,#9191ff,#8d8dff,#8989ff,#8585ff,#8181ff,#7d7dff,#7878ff,#7474ff,#7070ff,#6c6cff,#6969ff,#6565ff,#6262ff,#5f5fff,#5c5cff,#5a5aff,#5959ff,#5858ff,#5959ff,#5a5aff,#5c5cff,#5e5eff,#6262ff,#6666ff,#6b6bff,#7171ff,#7777ff,#7e7eff,#8484ff,#8b8bff,#9292ff,#9999ff,#9f9fff,#a5a5ff,#aaaaff,#b0b0ff,#b4b4ff,#b9b9ff,#bdbdff,#c0c0ff,#c3c3ff,#c6c6ff,#c9c9ff,#ccccff,#ceceff)"></i><i style="background:linear-gradient(90deg,#d4d4ff,#d1d1ff,#ceceff,#ccccff,#c9c9ff,#c6c6ff,#c4c4ff,#c1c1ff,#bfbfff,#bcbcff,#babaff,#b7b7ff,#b4b4ff,#b2b2ff,#afafff,#acacff,#a8a8ff,#a5a5ff,#a1a1ff,#9e9eff,#9a9aff,#9696ff,#9292ff,#8e8eff,#8a8aff,#8686ff,#8282ff,#7e7eff,#7979ff,#7575ff,#7171ff,#6d6dff,#6969ff,#6565ff,#6262ff,#5f5fff,#5c5cff,#5a5aff,#5959ff,#5858ff,#5959ff,#5a5aff,#5c5cff,#5e5eff,#6262ff,#6666ff,#6c6cff,#7171ff,#7777ff,#7e7eff,#8585ff,#8c8cff,#9292ff,#9999ff,#9f9fff,#a5a5ff,#ababff,#b0b0ff,#b5b5ff,#b9b9ff,#bdbdff,#c0c0ff,#c4c4ff,#c6c6ff,#c9c9ff,#ccccff,#ceceff)"></i><i style="background:linear-gradient(90deg,#d4d4ff,#d2d2ff,#cfcfff,#ccccff,#c9c9ff,#c7c7ff,#c4c4ff,#c2c2ff,#bfbfff,#bdbdff,#bbbbff,#b8b8ff,#b6b6ff,#b3b3ff,#b0b0ff,#adadff,#aaaaff,#a6a6ff,#a3a3ff,#9f9fff,#9b9bff,#9797ff,#9393ff,#8f8fff,#8b8bff,#8787ff,#8383ff,#7e7eff,#7a7aff,#7676ff,#7272ff,#6d6dff,#6969ff,#6666ff,#6262ff,#5f5fff,#5c5cff,#5a5aff,#5959ff,#5858ff,#5959ff,#5a5aff,#5c5cff,#5e5eff,#6262ff,#6767ff,#6c6cff,#7272ff,#7878ff,#7e7eff,#8585ff,#8c8cff,#9393ff,#9a9aff,#a0a0ff,#a6a6ff,#ababff,#b1b1ff,#b5b5ff,#b9b9ff,#bdbdff,#c1c1ff,#c4c4ff,#c7c7ff,#c9c9ff,#ccccff,#cfcfff)"></i><i style="background:linear-gradient(90deg,#d5d5ff,#d2d2ff,#cfcfff,#ccccff,#cacaff,#c7c7ff,#c5c5ff,#c3c3ff,#c0c0ff,#bebeff,#bcbcff,#b9b9ff,#b7b7ff,#b4b4ff,#b1b1ff,#aeaeff,#ababff,#a8a8ff,#a4a4ff,#a0a0ff,#9d9dff,#9999ff,#9595ff,#9191ff,#8c8cff,#8888ff,#8484ff,#7f7fff,#7b7bff,#7777ff,#7272ff,#6e6eff,#6a6aff,#6666ff,#6262ff,#5f5fff,#5c5cff,#5a5aff,#5959ff,#5858ff,#5959ff,#5a5aff,#5c5cff,#5f5fff,#6262ff,#6767ff,#6c6cff,#7272ff,#7878ff,#7f7fff,#8686ff,#8d8dff,#9393ff,#9a9aff,#a0a0ff,#a6a6ff,#acacff,#b1b1ff,#b6b6ff,#babaff,#bebeff,#c1c1ff,#c4c4ff,#c7c7ff,#cacaff,#ccccff,#cfcfff)"></i><i style="background:linear-gradient(90deg,#d5d5ff,#d2d2ff,#cfcfff,#cdcdff,#cacaff,#c8c8ff,#c5c5ff,#c3c3ff,#c1c1ff,#bfbfff,#bcbcff,#babaff,#b8b8ff,#b5b5ff,#b2b2ff,#afafff,#acacff,#a9a9ff,#a5a5ff,#a2a2ff,#9e9eff,#9a9aff,#9696ff,#9292ff,#8e8eff,#8989ff,#8585ff,#8080ff,#7c7cff,#7777ff,#7373ff,#6f6fff,#6a6aff,#6666ff,#6363ff,#5f5fff,#5d5dff,#5a5aff,#5959ff,#5858ff,#5959ff,#5a5aff,#5c5cff,#5f5fff,#6363ff,#6767ff,#6c6cff,#7272ff,#7979ff,#7f7fff,#8686ff,#8d8dff,#9494ff,#9b9bff,#a1a1ff,#a7a7ff,#adadff,#b2b2ff,#b6b6ff,#babaff,#bebeff,#c1c1ff,#c4c4ff,#c7c7ff,#cacaff,#ccccff,#cfcfff)"></i><i style="background:linear-gradient(90deg,#d5d5ff,#d2d2ff,#d0d0ff,#cdcdff,#cbcbff,#c8c8ff,#c6c6ff,#c4c4ff,#c2c2ff,#c0c0ff,#bdbdff,#bbbbff,#b9b9ff,#b6b6ff,#b3b3ff,#b1b1ff,#adadff,#aaaaff,#a7a7ff,#a3a3ff,#9f9fff,#9b9bff,#9797ff,#9393ff,#8f8fff,#8a8aff,#8686ff,#8181ff,#7d7dff,#7878ff,#7474ff,#6f6fff,#6b6bff,#6767ff,#6363ff,#6060ff,#5d5dff,#5b5bff,#5959ff,#5858ff,#5959ff,#5a5aff,#5c5cff,#5f5fff,#6363ff,#6767ff,#6d6dff,#7373ff,#7979ff,#8080ff,#8787ff,#8e8eff,#9595ff,#9b9bff,#a2a2ff,#a8a8ff,#adadff,#b2b2ff,#b7b7ff,#bbbbff,#bebeff,#c2c2ff,#c5c5ff,#c8c8ff,#cacaff,#cdcdff,#cfcfff)"></i><i style="background:linear-gradient(90deg,#d5d5ff,#d2d2ff,#d0d0ff,#cdcdff,#cbcbff,#c9c9ff,#c7c7ff,#c5c5ff,#c2c2ff,#c0c0ff,#bebeff,#bcbcff,#babaff,#b7b7ff,#b5b5ff,#b2b2ff,#afafff,#acacff,#a8a8ff,#a5a5ff,#a1a1ff,#9d9dff,#9999ff,#9595ff,#9090ff,#8c8cff,#8787ff,#8282ff,#7e7eff,#7979ff,#7474ff,#7070ff,#6b6bff,#6767ff,#6363ff,#6060ff,#5d5dff,#5b5bff,#5959ff,#5959ff,#5959ff,#5a5aff,#5c5cff,#5f5fff,#6363ff,#6868ff,#6d6dff,#7373ff,#7a7aff,#8181ff,#8888ff,#8e8eff,#9595ff,#9c9cff,#a2a2ff,#a8a8ff,#aeaeff,#b3b3ff,#b7b7ff,#bbbbff,#bfbfff,#c2c2ff,#c5c5ff,#c8c8ff,#cacaff,#cdcdff,#cfcfff)"></i><i style="background:linear-gradient(90deg,#d5d5ff,#d3d3ff,#d0d0ff,#ceceff,#cbcbff,#c9c9ff,#c7c7ff,#c5c5ff,#c3c3ff,#c1c1ff,#bfbfff,#bdbdff,#bbbbff,#b8b8ff,#b6b6ff,#b3b3ff,#b0b0ff,#adadff,#a9a9ff,#a6a6ff,#a2a2ff,#9e9eff,#9a9aff,#9696ff,#9191ff,#8d8dff,#8888ff,#8484ff,#7f7fff,#7a7aff,#7575ff,#7070ff,#6c6cff,#6868ff,#6464ff,#6060ff,#5d5dff,#5b5bff,#5959ff,#5959ff,#5959ff,#5a5aff,#5c5cff,#6060ff,#6363ff,#6868ff,#6e6eff,#7474ff,#7a7aff,#8181ff,#8888ff,#8f8fff,#9696ff,#9d9dff,#a3a3ff,#a9a9ff,#aeaeff,#b3b3ff,#b8b8ff,#bcbcff,#bfbfff,#c3c3ff,#c6c6ff,#c8c8ff,#cbcbff,#cdcdff,#d0d0ff)"></i><i style="background:linear-gradient(90deg,#d5d5ff,#d3d3ff,#d0d0ff,#ceceff,#ccccff,#cacaff,#c8c8ff,#c6c6ff,#c4c4ff,#c2c2ff,#c0c0ff,#bebeff,#bcbcff,#b9b9ff,#b7b7ff,#b4b4ff,#b1b1ff,#aeaeff,#ababff,#a7a7ff,#a4a4ff,#a0a0ff,#9b9bff,#9797ff,#9393ff,#8e8eff,#8989ff,#8585ff,#8080ff,#7b7bff,#7676ff,#7171ff,#6c6cff,#6868ff,#6464ff,#6060ff,#5d5dff,#5b5bff,#5a5aff,#5959ff,#5959ff,#5b5bff,#5d5dff,#6060ff,#6464ff,#6969ff,#6e6eff,#7474ff,#7b7bff,#8282ff,#8989ff,#9090ff,#9797ff,#9d9dff,#a4a4ff,#aaaaff,#afafff,#b4b4ff,#b8b8ff,#bcbcff,#c0c0ff,#c3c3ff,#c6c6ff,#c9c9ff,#cbcbff,#cdcdff,#d0d0ff)"></i><i style="background:linear-gradient(90deg,#d6d6ff,#d3d3ff,#d1d1ff,#ceceff,#ccccff,#cacaff,#c8c8ff,#c6c6ff,#c5c5ff,#c3c3ff,#c1c1ff,#bfbfff,#bdbdff,#bbbbff,#b8b8ff,#b5b5ff,#b3b3ff,#b0b0ff,#acacff,#a9a9ff,#a5a5ff,#a1a1ff,#9d9dff,#9999ff,#9494ff,#8f8fff,#8b8bff,#8686ff,#8181ff,#7c7cff,#7777ff,#7272ff,#6d6dff,#6969ff,#6464ff,#6161ff,#5e5eff,#5b5bff,#5a5aff,#5959ff,#5a5aff,#5b5bff,#5d5dff,#6060ff,#6464ff,#6969ff,#6f6fff,#7575ff,#7c7cff,#8383ff,#8a8aff,#9191ff,#9898ff,#9e9eff,#a5a5ff,#aaaaff,#b0b0ff,#b5b5ff,#b9b9ff,#bdbdff,#c0c0ff,#c4c4ff,#c6c6ff,#c9c9ff,#cbcbff,#ceceff,#d0d0ff)"></i><i style="background:linear-gradient(90deg,#d6d6ff,#d3d3ff,#d1d1ff,#cfcfff,#cdcdff,#cbcbff,#c9c9ff,#c7c7ff,#c5c5ff,#c4c4ff,#c2c2ff,#c0c0ff,#bebeff,#bcbcff,#b9b9ff,#b7b7ff,#b4b4ff,#b1b1ff,#aeaeff,#aaaaff,#a6a6ff,#a2a2ff,#9e9eff,#9a9aff,#9595ff,#9191ff,#8c8cff,#8787ff,#8282ff,#7d7dff,#7777ff,#7272ff,#6e6eff,#6969ff,#6565ff,#6161ff,#5e5eff,#5c5cff,#5a5aff,#5a5aff,#5a5aff,#5b5bff,#5d5dff,#6161ff,#6565ff,#6a6aff,#6f6fff,#7676ff,#7c7cff,#8383ff,#8a8aff,#9191ff,#9898ff,#9f9fff,#a5a5ff,#ababff,#b1b1ff,#b5b5ff,#babaff,#bebeff,#c1c1ff,#c4c4ff,#c7c7ff,#c9c9ff,#ccccff,#ceceff,#d1d1ff)"></i><i style="background:linear-gradient(90deg,#d6d6ff,#d3d3ff,#d1d1ff,#cfcfff,#cdcdff,#cbcbff,#c9c9ff,#c8c8ff,#c6c6ff,#c4c4ff,#c3c3ff,#c1c1ff,#bfbfff,#bdbdff,#bbbbff,#b8b8ff,#b5b5ff,#b2b2ff,#afafff,#acacff,#a8a8ff,#a4a4ff,#a0a0ff,#9b9bff,#9797ff,#9292ff,#8d8dff,#8888ff,#8383ff,#7e7eff,#7878ff,#7373ff,#6e6eff,#6a6aff,#6565ff,#6262ff,#5f5fff,#5c5cff,#5b5bff,#5a5aff,#5a5aff,#5c5cff,#5e5eff,#6161ff,#6565ff,#6a6aff,#7070ff,#7676ff,#7d7dff,#8484ff,#8b8bff,#9292ff,#9999ff,#a0a0ff,#a6a6ff,#acacff,#b1b1ff,#b6b6ff,#babaff,#bebeff,#c2c2ff,#c5c5ff,#c7c7ff,#cacaff,#ccccff,#cfcfff,#d1d1ff)"></i><i style="background:linear-gradient(90deg,#d6d6ff,#d3d3ff,#d1d1ff,#cfcfff,#cdcdff,#ccccff,#cacaff,#c8c8ff,#c7c7ff,#c5c5ff,#c4c4ff,#c2c2ff,#c0c0ff,#bebeff,#bcbcff,#b9b9ff,#b7b7ff,#b4b4ff,#b0b0ff,#adadff,#a9a9ff,#a5a5ff,#a1a1ff,#9d9dff,#9898ff,#9393ff,#8e8eff,#8989ff,#8484ff,#7e7eff,#7979ff,#7474ff,#6f6fff,#6a6aff,#6666ff,#6262ff,#5f5fff,#5d5dff,#5b5bff,#5a5aff,#5b5bff,#5c5cff,#5e5eff,#6262ff,#6666ff,#6b6bff,#7171ff,#7777ff,#7e7eff,#8585ff,#8c8cff,#9393ff,#9a9aff,#a1a1ff,#a7a7ff,#adadff,#b2b2ff,#b7b7ff,#bbbbff,#bfbfff,#c2c2ff,#c5c5ff,#c8c8ff,#cacaff,#cdcdff,#cfcfff,#d1d1ff)"></i><i style="background:linear-gradient(90deg,#d6d6ff,#d4d4ff,#d1d1ff,#d0d0ff,#ceceff,#ccccff,#cacaff,#c9c9ff,#c7c7ff,#c6c6ff,#c4c4ff,#c3c3ff,#c1c1ff,#bfbfff,#bdbdff,#babaff,#b8b8ff,#b5b5ff,#b2b2ff,#aeaeff,#ababff,#a7a7ff,#a2a2ff,#9e9eff,#9999ff,#9494ff,#8f8fff,#8a8aff,#8585ff,#7f7fff,#7a7aff,#7575ff,#7070ff,#6b6bff,#6666ff,#6363ff,#5f5fff,#5d5dff,#5b5bff,#5b5bff,#5b5bff,#5c5cff,#5f5fff,#6262ff,#6666ff,#6c6cff,#7171ff,#7878ff,#7f7fff,#8686ff,#8d8dff,#9494ff,#9b9bff,#a2a2ff,#a8a8ff,#aeaeff,#b3b3ff,#b8b8ff,#bcbcff,#c0c0ff,#c3c3ff,#c6c6ff,#c9c9ff,#cbcbff,#cdcdff,#cfcfff,#d2d2ff)"></i><i style="background:linear-gradient(90deg,#d6d6ff,#d4d4ff,#d2d2ff,#d0d0ff,#ceceff,#ccccff,#cbcbff,#cacaff,#c8c8ff,#c7c7ff,#c5c5ff,#c4c4ff,#c2c2ff,#c0c0ff,#bebeff,#bcbcff,#b9b9ff,#b6b6ff,#b3b3ff,#b0b0ff,#acacff,#a8a8ff,#a4a4ff,#9f9fff,#9b9bff,#9696ff,#9191ff,#8b8bff,#8686ff,#8080ff,#7b7bff,#7676ff,#7070ff,#6b6bff,#6767ff,#6363ff,#6060ff,#5d5dff,#5c5cff,#5b5bff,#5b5bff,#5d5dff,#5f5fff,#6363ff,#6767ff,#6c6cff,#7272ff,#7979ff,#7f7fff,#8787ff,#8e8eff,#9595ff,#9c9cff,#a2a2ff,#a9a9ff,#aeaeff,#b4b4ff,#b8b8ff,#bdbdff,#c0c0ff,#c4c4ff,#c6c6ff,#c9c9ff,#cbcbff,#ceceff,#d0d0ff,#d2d2ff)"></i><i style="background:linear-gradient(90deg,#d6d6ff,#d4d4ff,#d2d2ff,#d0d0ff,#ceceff,#cdcdff,#cbcbff,#cacaff,#c9c9ff,#c8c8ff,#c6c6ff,#c5c5ff,#c3c3ff,#c1c1ff,#bfbfff,#bdbdff,#babaff,#b8b8ff,#b5b5ff,#b1b1ff,#adadff,#a9a9ff,#a5a5ff,#a1a1ff,#9c9cff,#9797ff,#9292ff,#8c8cff,#8787ff,#8181ff,#7c7cff,#7676ff,#7171ff,#6c6cff,#6868ff,#6464ff,#6060ff,#5e5eff,#5c5cff,#5c5cff,#5c5cff,#5d5dff,#6060ff,#6363ff,#6868ff,#6d6dff,#7373ff,#7979ff,#8080ff,#8787ff,#8f8fff,#9696ff,#9d9dff,#a3a3ff,#aaaaff,#afafff,#b5b5ff,#b9b9ff,#bdbdff,#c1c1ff,#c4c4ff,#c7c7ff,#cacaff,#ccccff,#ceceff,#d0d0ff,#d3d3ff)"></i><i style="background:linear-gradient(90deg,#d6d6ff,#d4d4ff,#d2d2ff,#d0d0ff,#cfcfff,#cdcdff,#ccccff,#cbcbff,#cacaff,#c8c8ff,#c7c7ff,#c6c6ff,#c4c4ff,#c2c2ff,#c0c0ff,#bebeff,#bcbcff,#b9b9ff,#b6b6ff,#b3b3ff,#afafff,#ababff,#a7a7ff,#a2a2ff,#9d9dff,#9898ff,#9393ff,#8e8eff,#8888ff,#8282ff,#7d7dff,#7777ff,#7272ff,#6d6dff,#6868ff,#6464ff,#6161ff,#5e5eff,#5d5dff,#5c5cff,#5d5dff,#5e5eff,#6161ff,#6464ff,#6868ff,#6e6eff,#7474ff,#7a7aff,#8181ff,#8888ff,#9090ff,#9797ff,#9e9eff,#a4a4ff,#ababff,#b0b0ff,#b5b5ff,#babaff,#bebeff,#c2c2ff,#c5c5ff,#c8c8ff,#cacaff,#cdcdff,#cfcfff,#d1d1ff,#d3d3ff)"></i><i style="background:linear-gradient(90deg,#d6d6ff,#d4d4ff,#d2d2ff,#d0d0ff,#cfcfff,#ceceff,#ccccff,#cbcbff,#cacaff,#c9c9ff,#c8c8ff,#c7c7ff,#c5c5ff,#c3c3ff,#c2c2ff,#bfbfff,#bdbdff,#babaff,#b7b7ff,#b4b4ff,#b0b0ff,#acacff,#a8a8ff,#a3a3ff,#9f9fff,#9a9aff,#9494ff,#8f8fff,#8989ff,#8383ff,#7e7eff,#7878ff,#7373ff,#6d6dff,#6969ff,#6565ff,#6161ff,#5f5fff,#5d5dff,#5d5dff,#5d5dff,#5f5fff,#6161ff,#6565ff,#6969ff,#6f6fff,#7575ff,#7b7bff,#8282ff,#8989ff,#9191ff,#9898ff,#9f9fff,#a5a5ff,#ababff,#b1b1ff,#b6b6ff,#bbbbff,#bfbfff,#c3c3ff,#c6c6ff,#c9c9ff,#cbcbff,#cdcdff,#cfcfff,#d1d1ff,#d3d3ff)"></i><i style="background:linear-gradient(90deg,#d6d6ff,#d4d4ff,#d2d2ff,#d1d1ff,#cfcfff,#ceceff,#cdcdff,#ccccff,#cbcbff,#cacaff,#c9c9ff,#c7c7ff,#c6c6ff,#c5c5ff,#c3c3ff,#c1c1ff,#bebeff,#bcbcff,#b9b9ff,#b5b5ff,#b2b2ff,#aeaeff,#a9a9ff,#a5a5ff,#a0a0ff,#9b9bff,#9595ff,#9090ff,#8a8aff,#8484ff,#7f7fff,#7979ff,#7373ff,#6e6eff,#6a6aff,#6565ff,#6262ff,#5f5fff,#5e5eff,#5d5dff,#5e5eff,#5f5fff,#6262ff,#6565ff,#6a6aff,#6f6fff,#7575ff,#7c7cff,#8383ff,#8a8aff,#9292ff,#9999ff,#a0a0ff,#a6a6ff,#acacff,#b2b2ff,#b7b7ff,#bcbcff,#c0c0ff,#c3c3ff,#c6c6ff,#c9c9ff,#ccccff,#ceceff,#d0d0ff,#d2d2ff,#d4d4ff)"></i><i style="background:linear-gradient(90deg,#d6d6ff,#d4d4ff,#d2d2ff,#d1d1ff,#d0d0ff,#ceceff,#cdcdff,#ccccff,#cbcbff,#cbcbff,#cacaff,#c8c8ff,#c7c7ff,#c6c6ff,#c4c4ff,#c2c2ff,#c0c0ff,#bdbdff,#babaff,#b7b7ff,#b3b3ff,#afafff,#ababff,#a6a6ff,#a1a1ff,#9c9cff,#9797ff,#9191ff,#8b8bff,#8585ff,#7f7fff,#7a7aff,#7474ff,#6f6fff,#6a6aff,#6666ff,#6363ff,#6060ff,#5e5eff,#5e5eff,#5e5eff,#6060ff,#6363ff,#6666ff,#6b6bff,#7070ff,#7676ff,#7d7dff,#8484ff,#8b8bff,#9393ff,#9a9aff,#a1a1ff,#a7a7ff,#adadff,#b3b3ff,#b8b8ff,#bdbdff,#c1c1ff,#c4c4ff,#c7c7ff,#cacaff,#ccccff,#ceceff,#d1d1ff,#d3d3ff,#d4d4ff)"></i><i style="background:linear-gradient(90deg,#d6d6ff,#d4d4ff,#d3d3ff,#d1d1ff,#d0d0ff,#cfcfff,#ceceff,#cdcdff,#ccccff,#cbcbff,#cacaff,#c9c9ff,#c8c8ff,#c7c7ff,#c5c5ff,#c3c3ff,#c1c1ff,#bebeff,#bbbbff,#b8b8ff,#b4b4ff,#b1b1ff,#acacff,#a8a8ff,#a3a3ff,#9d9dff,#9898ff,#9292ff,#8c8cff,#8686ff,#8080ff,#7b7bff,#7575ff,#7070ff,#6b6bff,#6767ff,#6363ff,#6161ff,#5f5fff,#5e5eff,#5f5fff,#6161ff,#6363ff,#6767ff,#6c6cff,#7171ff,#7777ff,#7e7eff,#8585ff,#8c8cff,#9494ff,#9b9bff,#a2a2ff,#a8a8ff,#aeaeff,#b4b4ff,#b9b9ff,#bebeff,#c2c2ff,#c5c5ff,#c8c8ff,#cbcbff,#cdcdff,#cfcfff,#d1d1ff,#d3d3ff,#d5d5ff)"></i><i style="background:linear-gradient(90deg,#d6d6ff,#d4d4ff,#d3d3ff,#d1d1ff,#d0d0ff,#cfcfff,#ceceff,#cdcdff,#cdcdff,#ccccff,#cbcbff,#cacaff,#c9c9ff,#c8c8ff,#c6c6ff,#c4c4ff,#c2c2ff,#c0c0ff,#bdbdff,#b9b9ff,#b6b6ff,#b2b2ff,#aeaeff,#a9a9ff,#a4a4ff,#9f9fff,#9999ff,#9393ff,#8d8dff,#8787ff,#8181ff,#7b7bff,#7676ff,#7070ff,#6c6cff,#6767ff,#6464ff,#6161ff,#6060ff,#5f5fff,#6060ff,#6161ff,#6464ff,#6868ff,#6d6dff,#7272ff,#7878ff,#7f7fff,#8686ff,#8d8dff,#9595ff,#9c9cff,#a3a3ff,#a9a9ff,#afafff,#b5b5ff,#babaff,#bfbfff,#c2c2ff,#c6c6ff,#c9c9ff,#cbcbff,#ceceff,#d0d0ff,#d2d2ff,#d4d4ff,#d6d6ff)"></i><i style="background:linear-gradient(90deg,#d6d6ff,#d4d4ff,#d3d3ff,#d1d1ff,#d0d0ff,#cfcfff,#cfcfff,#ceceff,#cdcdff,#cdcdff,#ccccff,#cbcbff,#cacaff,#c9c9ff,#c7c7ff,#c5c5ff,#c3c3ff,#c1c1ff,#bebeff,#bbbbff,#b7b7ff,#b3b3ff,#afafff,#aaaaff,#a5a5ff,#a0a0ff,#9a9aff,#9595ff,#8f8fff,#8888ff,#8282ff,#7c7cff,#7777ff,#7171ff,#6c6cff,#6868ff,#6565ff,#6262ff,#6060ff,#6060ff,#6060ff,#6262ff,#6565ff,#6969ff,#6d6dff,#7373ff,#7979ff,#8080ff,#8787ff,#8e8eff,#9696ff,#9d9dff,#a4a4ff,#aaaaff,#b0b0ff,#b6b6ff,#bbbbff,#bfbfff,#c3c3ff,#c7c7ff,#cacaff,#ccccff,#ceceff,#d1d1ff,#d2d2ff,#d4d4ff,#d6d6ff)"></i><i style="background:linear-gradient(90deg,#d6d6ff,#d4d4ff,#d3d3ff,#d2d2ff,#d1d1ff,#d0d0ff,#cfcfff,#cfcfff,#ceceff,#cdcdff,#cdcdff,#ccccff,#cbcbff,#cacaff,#c8c8ff,#c7c7ff,#c5c5ff,#c2c2ff,#bfbfff,#bcbcff,#b9b9ff,#b5b5ff,#b0b0ff,#acacff,#a7a7ff,#a1a1ff,#9c9cff,#9696ff,#9090ff,#8989ff,#8383ff,#7d7dff,#7777ff,#7272ff,#6d6dff,#6969ff,#6565ff,#6363ff,#6161ff,#6161ff,#6161ff,#6363ff,#6666ff,#6a6aff,#6e6eff,#7474ff,#7a7aff,#8181ff,#8888ff,#9090ff,#9797ff,#9e9eff,#a5a5ff,#ababff,#b2b2ff,#b7b7ff,#bcbcff,#c0c0ff,#c4c4ff,#c8c8ff,#cacaff,#cdcdff,#cfcfff,#d1d1ff,#d3d3ff,#d5d5ff,#d7d7ff)"></i><i style="background:linear-gradient(90deg,#d6d6ff,#d4d4ff,#d3d3ff,#d2d2ff,#d1d1ff,#d0d0ff,#d0d0ff,#cfcfff,#cfcfff,#ceceff,#cdcdff,#cdcdff,#ccccff,#cbcbff,#c9c9ff,#c8c8ff,#c6c6ff,#c3c3ff,#c1c1ff,#bdbdff,#babaff,#b6b6ff,#b2b2ff,#adadff,#a8a8ff,#a2a2ff,#9d9dff,#9797ff,#9191ff,#8a8aff,#8484ff,#7e7eff,#7878ff,#7373ff,#6e6eff,#6a6aff,#6666ff,#6363ff,#6262ff,#6161ff,#6262ff,#6464ff,#6767ff,#6a6aff,#6f6fff,#7575ff,#7b7bff,#8282ff,#8989ff,#9191ff,#9898ff,#9f9fff,#a6a6ff,#adadff,#b3b3ff,#b8b8ff,#bdbdff,#c1c1ff,#c5c5ff,#c8c8ff,#cbcbff,#ceceff,#d0d0ff,#d2d2ff,#d4d4ff,#d6d6ff,#d7d7ff)"></i><i style="background:linear-gradient(90deg,#d6d6ff,#d4d4ff,#d3d3ff,#d2d2ff,#d1d1ff,#d0d0ff,#d0d0ff,#d0d0ff,#cfcfff,#cfcfff,#ceceff,#ceceff,#cdcdff,#ccccff,#cbcbff,#c9c9ff,#c7c7ff,#c5c5ff,#c2c2ff,#bfbfff,#bbbbff,#b7b7ff,#b3b3ff,#aeaeff,#a9a9ff,#a4a4ff,#9e9eff,#9898ff,#9292ff,#8c8cff,#8585ff,#7f7fff,#7979ff,#7474ff,#6f6fff,#6a6aff,#6767ff,#6464ff,#6363ff,#6262ff,#6363ff,#6565ff,#6767ff,#6b6bff,#7070ff,#7676ff,#7c7cff,#8383ff,#8a8aff,#9292ff,#9999ff,#a0a0ff,#a7a7ff,#aeaeff,#b4b4ff,#b9b9ff,#bebeff,#c2c2ff,#c6c6ff,#c9c9ff,#ccccff,#cfcfff,#d1d1ff,#d3d3ff,#d4d4ff,#d6d6ff,#d8d8ff)"></i><i style="background:linear-gradient(90deg,#d6d6ff,#d4d4ff,#d3d3ff,#d2d2ff,#d1d1ff,#d1d1ff,#d0d0ff,#d0d0ff,#d0d0ff,#cfcfff,#cfcfff,#ceceff,#ceceff,#cdcdff,#ccccff,#cacaff,#c8c8ff,#c6c6ff,#c3c3ff,#c0c0ff,#bdbdff,#b9b9ff,#b4b4ff,#b0b0ff,#aaaaff,#a5a5ff,#9f9fff,#9999ff,#9393ff,#8d8dff,#8686ff,#8080ff,#7a7aff,#7575ff,#6f6fff,#6b6bff,#6868ff,#6565ff,#6363ff,#6363ff,#6464ff,#6565ff,#6868ff,#6c6cff,#7171ff,#7777ff,#7d7dff,#8484ff,#8c8cff,#9393ff,#9a9aff,#a1a1ff,#a8a8ff,#afafff,#b5b5ff,#babaff,#bfbfff,#c3c3ff,#c7c7ff,#cacaff,#cdcdff,#cfcfff,#d2d2ff,#d3d3ff,#d5d5ff,#d7d7ff,#d9d9ff)"></i><i style="background:linear-gradient(90deg,#d6d6ff,#d4d4ff,#d3d3ff,#d2d2ff,#d2d2ff,#d1d1ff,#d1d1ff,#d0d0ff,#d0d0ff,#d0d0ff,#d0d0ff,#cfcfff,#cfcfff,#ceceff,#cdcdff,#cbcbff,#c9c9ff,#c7c7ff,#c4c4ff,#c1c1ff,#bebeff,#babaff,#b6b6ff,#b1b1ff,#acacff,#a6a6ff,#a0a0ff,#9a9aff,#9494ff,#8e8eff,#8787ff,#8181ff,#7b7bff,#7575ff,#7070ff,#6c6cff,#6868ff,#6666ff,#6464ff,#6464ff,#6565ff,#6666ff,#6969ff,#6d6dff,#7272ff,#7878ff,#7f7fff,#8585ff,#8d8dff,#9494ff,#9b9bff,#a3a3ff,#a9a9ff,#b0b0ff,#b6b6ff,#bbbbff,#c0c0ff,#c4c4ff,#c8c8ff,#cbcbff,#ceceff,#d0d0ff,#d2d2ff,#d4d4ff,#d6d6ff,#d8d8ff,#d9d9ff)"></i><i style="background:linear-gradient(90deg,#d6d6ff,#d4d4ff,#d3d3ff,#d2d2ff,#d2d2ff,#d1d1ff,#d1d1ff,#d1d1ff,#d1d1ff,#d1d1ff,#d0d0ff,#d0d0ff,#d0d0ff,#cfcfff,#ceceff,#ccccff,#cacaff,#c8c8ff,#c6c6ff,#c3c3ff,#bfbfff,#bbbbff,#b7b7ff,#b2b2ff,#adadff,#a7a7ff,#a1a1ff,#9b9bff,#9595ff,#8f8fff,#8888ff,#8282ff,#7c7cff,#7676ff,#7171ff,#6d6dff,#6969ff,#6767ff,#6565ff,#6565ff,#6565ff,#6767ff,#6a6aff,#6e6eff,#7373ff,#7979ff,#8080ff,#8787ff,#8e8eff,#9595ff,#9d9dff,#a4a4ff,#ababff,#b1b1ff,#b7b7ff,#bcbcff,#c1c1ff,#c5c5ff,#c9c9ff,#ccccff,#cfcfff,#d1d1ff,#d3d3ff,#d5d5ff,#d7d7ff,#d8d8ff,#dadaff)"></i><i style="background:linear-gradient(90deg,#d6d6ff,#d4d4ff,#d3d3ff,#d3d3ff,#d2d2ff,#d2d2ff,#d1d1ff,#d1d1ff,#d1d1ff,#d1d1ff,#d1d1ff,#d1d1ff,#d0d0ff,#d0d0ff,#cfcfff,#cdcdff,#ccccff,#c9c9ff,#c7c7ff,#c4c4ff,#c0c0ff,#bcbcff,#b8b8ff,#b3b3ff,#aeaeff,#a9a9ff,#a3a3ff,#9c9cff,#9696ff,#9090ff,#8989ff,#8383ff,#7d7dff,#7777ff,#7272ff,#6e6eff,#6a6aff,#6767ff,#6666ff,#6666ff,#6666ff,#6868ff,#6b6bff,#6f6fff,#7474ff,#7a7aff,#8181ff,#8888ff,#8f8fff,#9696ff,#9e9eff,#a5a5ff,#acacff,#b2b2ff,#b8b8ff,#bdbdff,#c2c2ff,#c6c6ff,#cacaff,#cdcdff,#d0d0ff,#d2d2ff,#d4d4ff,#d6d6ff,#d7d7ff,#d9d9ff,#dbdbff)"></i><i style="background:linear-gradient(90deg,#d6d6ff,#d4d4ff,#d3d3ff,#d3d3ff,#d2d2ff,#d2d2ff,#d2d2ff,#d2d2ff,#d2d2ff,#d2d2ff,#d2d2ff,#d2d2ff,#d1d1ff,#d1d1ff,#d0d0ff,#ceceff,#cdcdff,#cbcbff,#c8c8ff,#c5c5ff,#c2c2ff,#bebeff,#b9b9ff,#b5b5ff,#afafff,#aaaaff,#a4a4ff,#9e9eff,#9797ff,#9191ff,#8a8aff,#8484ff,#7e7eff,#7878ff,#7373ff,#6e6eff,#6b6bff,#6868ff,#6767ff,#6767ff,#6767ff,#6969ff,#6c6cff,#7171ff,#7676ff,#7b7bff,#8282ff,#8989ff,#9090ff,#9898ff,#9f9fff,#a6a6ff,#adadff,#b3b3ff,#b9b9ff,#bebeff,#c3c3ff,#c7c7ff,#cbcbff,#ceceff,#d1d1ff,#d3d3ff,#d5d5ff,#d7d7ff,#d8d8ff,#dadaff,#dbdbff)"></i><i style="background:linear-gradient(90deg,#d6d6ff,#d4d4ff,#d4d4ff,#d3d3ff,#d2d2ff,#d2d2ff,#d2d2ff,#d2d2ff,#d2d2ff,#d3d3ff,#d3d3ff,#d2d2ff,#d2d2ff,#d1d1ff,#d1d1ff,#cfcfff,#ceceff,#ccccff,#c9c9ff,#c6c6ff,#c3c3ff,#bfbfff,#bbbbff,#b6b6ff,#b0b0ff,#ababff,#a5a5ff,#9f9fff,#9898ff,#9292ff,#8b8bff,#8585ff,#7f7fff,#7979ff,#7474ff,#6f6fff,#6c6cff,#6969ff,#6868ff,#6767ff,#6868ff,#6a6aff,#6d6dff,#7272ff,#7777ff,#7d7dff,#8383ff,#8a8aff,#9191ff,#9999ff,#a0a0ff,#a7a7ff,#aeaeff,#b4b4ff,#babaff,#c0c0ff,#c4c4ff,#c8c8ff,#ccccff,#cfcfff,#d1d1ff,#d4d4ff,#d6d6ff,#d7d7ff,#d9d9ff,#dadaff,#dcdcff)"></i><i style="background:linear-gradient(90deg,#d6d6ff,#d4d4ff,#d4d4ff,#d3d3ff,#d3d3ff,#d3d3ff,#d3d3ff,#d3d3ff,#d3d3ff,#d3d3ff,#d3d3ff,#d3d3ff,#d3d3ff,#d2d2ff,#d2d2ff,#d0d0ff,#cfcfff,#cdcdff,#cacaff,#c7c7ff,#c4c4ff,#c0c0ff,#bcbcff,#b7b7ff,#b2b2ff,#acacff,#a6a6ff,#a0a0ff,#9999ff,#9393ff,#8c8cff,#8686ff,#7f7fff,#7a7aff,#7575ff,#7070ff,#6d6dff,#6a6aff,#6969ff,#6868ff,#6969ff,#6b6bff,#6f6fff,#7373ff,#7878ff,#7e7eff,#8484ff,#8b8bff,#9393ff,#9a9aff,#a1a1ff,#a9a9ff,#afafff,#b6b6ff,#bbbbff,#c1c1ff,#c5c5ff,#c9c9ff,#cdcdff,#d0d0ff,#d2d2ff,#d5d5ff,#d6d6ff,#d8d8ff,#dadaff,#dbdbff,#ddddff)"></i><i style="background:linear-gradient(90deg,#d6d6ff,#d4d4ff,#d4d4ff,#d3d3ff,#d3d3ff,#d3d3ff,#d3d3ff,#d3d3ff,#d3d3ff,#d4d4ff,#d4d4ff,#d4d4ff,#d4d4ff,#d3d3ff,#d2d2ff,#d1d1ff,#d0d0ff,#ceceff,#cbcbff,#c8c8ff,#c5c5ff,#c1c1ff,#bdbdff,#b8b8ff,#b3b3ff,#adadff,#a7a7ff,#a1a1ff,#9a9aff,#9494ff,#8d8dff,#8787ff,#8080ff,#7b7bff,#7676ff,#7171ff,#6e6eff,#6b6bff,#6a6aff,#6969ff,#6a6aff,#6c6cff,#7070ff,#7474ff,#7979ff,#7f7fff,#8686ff,#8d8dff,#9494ff,#9b9bff,#a3a3ff,#aaaaff,#b0b0ff,#b7b7ff,#bdbdff,#c2c2ff,#c6c6ff,#cacaff,#ceceff,#d1d1ff,#d3d3ff,#d5d5ff,#d7d7ff,#d9d9ff,#dadaff,#dcdcff,#ddddff)"></i><i style="background:linear-gradient(90deg,#d6d6ff,#d4d4ff,#d4d4ff,#d3d3ff,#d3d3ff,#d3d3ff,#d3d3ff,#d4d4ff,#d4d4ff,#d4d4ff,#d5d5ff,#d5d5ff,#d4d4ff,#d4d4ff,#d3d3ff,#d2d2ff,#d1d1ff,#cfcfff,#ccccff,#cacaff,#c6c6ff,#c2c2ff,#bebeff,#b9b9ff,#b4b4ff,#aeaeff,#a8a8ff,#a2a2ff,#9b9bff,#9595ff,#8e8eff,#8888ff,#8181ff,#7c7cff,#7676ff,#7272ff,#6f6fff,#6c6cff,#6b6bff,#6a6aff,#6b6bff,#6d6dff,#7171ff,#7575ff,#7a7aff,#8080ff,#8787ff,#8e8eff,#9595ff,#9d9dff,#a4a4ff,#ababff,#b2b2ff,#b8b8ff,#bebeff,#c3c3ff,#c7c7ff,#cbcbff,#cfcfff,#d2d2ff,#d4d4ff,#d6d6ff,#d8d8ff,#dadaff,#dbdbff,#ddddff,#dedeff)"></i><i style="background:linear-gradient(90deg,#d6d6ff,#d5d5ff,#d4d4ff,#d3d3ff,#d3d3ff,#d3d3ff,#d4d4ff,#d4d4ff,#d4d4ff,#d5d5ff,#d5d5ff,#d5d5ff,#d5d5ff,#d5d5ff,#d4d4ff,#d3d3ff,#d2d2ff,#d0d0ff,#ceceff,#cbcbff,#c7c7ff,#c4c4ff,#bfbfff,#babaff,#b5b5ff,#afafff,#a9a9ff,#a3a3ff,#9c9cff,#9696ff,#8f8fff,#8888ff,#8282ff,#7d7dff,#7777ff,#7373ff,#7070ff,#6d6dff,#6c6cff,#6b6bff,#6c6cff,#6f6fff,#7272ff,#7676ff,#7b7bff,#8181ff,#8888ff,#8f8fff,#9696ff,#9e9eff,#a5a5ff,#acacff,#b3b3ff,#b9b9ff,#bfbfff,#c4c4ff,#c8c8ff,#ccccff,#d0d0ff,#d3d3ff,#d5d5ff,#d7d7ff,#d9d9ff,#dbdbff,#dcdcff,#ddddff,#dfdfff)"></i><i style="background:linear-gradient(90deg,#d6d6ff,#d5d5ff,#d4d4ff,#d4d4ff,#d3d3ff,#d4d4ff,#d4d4ff,#d4d4ff,#d5d5ff,#d5d5ff,#d6d6ff,#d6d6ff,#d6d6ff,#d6d6ff,#d5d5ff,#d4d4ff,#d3d3ff,#d1d1ff,#cfcfff,#ccccff,#c8c8ff,#c5c5ff,#c0c0ff,#bbbbff,#b6b6ff,#b0b0ff,#aaaaff,#a4a4ff,#9d9dff,#9797ff,#9090ff,#8989ff,#8383ff,#7d7dff,#7878ff,#7474ff,#7070ff,#6e6eff,#6d6dff,#6d6dff,#6e6eff,#7070ff,#7373ff,#7777ff,#7d7dff,#8383ff,#8989ff,#9090ff,#9898ff,#9f9fff,#a6a6ff,#adadff,#b4b4ff,#babaff,#c0c0ff,#c5c5ff,#cacaff,#cdcdff,#d1d1ff,#d4d4ff,#d6d6ff,#d8d8ff,#dadaff,#dbdbff,#ddddff,#dedeff,#e0e0ff)"></i><i style="background:linear-gradient(90deg,#d5d5ff,#d5d5ff,#d4d4ff,#d4d4ff,#d4d4ff,#d4d4ff,#d4d4ff,#d5d5ff,#d5d5ff,#d6d6ff,#d6d6ff,#d7d7ff,#d7d7ff,#d7d7ff,#d6d6ff,#d5d5ff,#d4d4ff,#d2d2ff,#d0d0ff,#cdcdff,#cacaff,#c6c6ff,#c1c1ff,#bcbcff,#b7b7ff,#b1b1ff,#ababff,#a5a5ff,#9e9eff,#9898ff,#9191ff,#8a8aff,#8484ff,#7e7eff,#7979ff,#7575ff,#7171ff,#6f6fff,#6e6eff,#6e6eff,#6f6fff,#7171ff,#7474ff,#7979ff,#7e7eff,#8484ff,#8b8bff,#9292ff,#9999ff,#a0a0ff,#a8a8ff,#afafff,#b5b5ff,#bbbbff,#c1c1ff,#c6c6ff,#cbcbff,#ceceff,#d2d2ff,#d5d5ff,#d7d7ff,#d9d9ff,#dbdbff,#dcdcff,#dedeff,#dfdfff,#e0e0ff)"></i><i style="background:linear-gradient(90deg,#d5d5ff,#d5d5ff,#d4d4ff,#d4d4ff,#d4d4ff,#d4d4ff,#d5d5ff,#d5d5ff,#d6d6ff,#d6d6ff,#d7d7ff,#d7d7ff,#d8d8ff,#d7d7ff,#d7d7ff,#d6d6ff,#d5d5ff,#d3d3ff,#d1d1ff,#ceceff,#cbcbff,#c7c7ff,#c2c2ff,#bebeff,#b8b8ff,#b2b2ff,#acacff,#a6a6ff,#9f9fff,#9999ff,#9292ff,#8b8bff,#8585ff,#7f7fff,#7a7aff,#7676ff,#7272ff,#7070ff,#6f6fff,#6f6fff,#7070ff,#7272ff,#7575ff,#7a7aff,#7f7fff,#8585ff,#8c8cff,#9393ff,#9a9aff,#a2a2ff,#a9a9ff,#b0b0ff,#b6b6ff,#bdbdff,#c2c2ff,#c7c7ff,#ccccff,#cfcfff,#d3d3ff,#d6d6ff,#d8d8ff,#dadaff,#dcdcff,#ddddff,#dedeff,#e0e0ff,#e1e1ff)"></i><i style="background:linear-gradient(90deg,#d5d5ff,#d5d5ff,#d4d4ff,#d4d4ff,#d4d4ff,#d4d4ff,#d5d5ff,#d6d6ff,#d6d6ff,#d7d7ff,#d8d8ff,#d8d8ff,#d8d8ff,#d8d8ff,#d8d8ff,#d7d7ff,#d6d6ff,#d4d4ff,#d2d2ff,#cfcfff,#ccccff,#c8c8ff,#c3c3ff,#bfbfff,#b9b9ff,#b3b3ff,#adadff,#a7a7ff,#a0a0ff,#9a9aff,#9393ff,#8c8cff,#8686ff,#8080ff,#7b7bff,#7777ff,#7373ff,#7171ff,#7070ff,#7070ff,#7171ff,#7373ff,#7777ff,#7b7bff,#8080ff,#8787ff,#8d8dff,#9494ff,#9c9cff,#a3a3ff,#aaaaff,#b1b1ff,#b8b8ff,#bebeff,#c3c3ff,#c8c8ff,#cdcdff,#d1d1ff,#d4d4ff,#d6d6ff,#d9d9ff,#dbdbff,#dcdcff,#dedeff,#dfdfff,#e0e0ff,#e2e2ff)"></i><i style="background:linear-gradient(90deg,#d5d5ff,#d5d5ff,#d4d4ff,#d4d4ff,#d4d4ff,#d5d5ff,#d5d5ff,#d6d6ff,#d7d7ff,#d7d7ff,#d8d8ff,#d9d9ff,#d9d9ff,#d9d9ff,#d9d9ff,#d8d8ff,#d6d6ff,#d5d5ff,#d3d3ff,#d0d0ff,#cdcdff,#c9c9ff,#c4c4ff,#c0c0ff,#babaff,#b4b4ff,#aeaeff,#a8a8ff,#a1a1ff,#9a9aff,#9494ff,#8d8dff,#8787ff,#8181ff,#7c7cff,#7878ff,#7575ff,#7272ff,#7171ff,#7171ff,#7272ff,#7474ff,#7878ff,#7c7cff,#8282ff,#8888ff,#8f8fff,#9696ff,#9d9dff,#a4a4ff,#ababff,#b2b2ff,#b9b9ff,#bfbfff,#c4c4ff,#c9c9ff,#ceceff,#d2d2ff,#d5d5ff,#d7d7ff,#dadaff,#dcdcff,#ddddff,#dfdfff,#e0e0ff,#e1e1ff,#e2e2ff)"></i><i style="background:linear-gradient(90deg,#d5d5ff,#d5d5ff,#d4d4ff,#d4d4ff,#d4d4ff,#d5d5ff,#d6d6ff,#d6d6ff,#d7d7ff,#d8d8ff,#d9d9ff,#d9d9ff,#dadaff,#dadaff,#d9d9ff,#d9d9ff,#d7d7ff,#d6d6ff,#d4d4ff,#d1d1ff,#ceceff,#cacaff,#c5c5ff,#c1c1ff,#bbbbff,#b5b5ff,#afafff,#a9a9ff,#a2a2ff,#9b9bff,#9595ff,#8e8eff,#8888ff,#8282ff,#7d7dff,#7979ff,#7676ff,#7373ff,#7272ff,#7272ff,#7373ff,#7676ff,#7979ff,#7e7eff,#8383ff,#8989ff,#9090ff,#9797ff,#9e9eff,#a5a5ff,#adadff,#b4b4ff,#babaff,#c0c0ff,#c6c6ff,#cbcbff,#cfcfff,#d3d3ff,#d6d6ff,#d8d8ff,#dbdbff,#dcdcff,#dedeff,#dfdfff,#e1e1ff,#e2e2ff,#e3e3ff)"></i><i style="background:linear-gradient(90deg,#d5d5ff,#d5d5ff,#d4d4ff,#d4d4ff,#d5d5ff,#d5d5ff,#d6d6ff,#d7d7ff,#d8d8ff,#d8d8ff,#d9d9ff,#dadaff,#dadaff,#dadaff,#dadaff,#d9d9ff,#d8d8ff,#d7d7ff,#d4d4ff,#d2d2ff,#ceceff,#cbcbff,#c6c6ff,#c2c2ff,#bcbcff,#b6b6ff,#b0b0ff,#aaaaff,#a3a3ff,#9c9cff,#9696ff,#8f8fff,#8989ff,#8383ff,#7e7eff,#7a7aff,#7777ff,#7474ff,#7373ff,#7373ff,#7575ff,#7777ff,#7a7aff,#7f7fff,#8484ff,#8b8bff,#9191ff,#9898ff,#a0a0ff,#a7a7ff,#aeaeff,#b5b5ff,#bbbbff,#c1c1ff,#c7c7ff,#ccccff,#d0d0ff,#d4d4ff,#d7d7ff,#d9d9ff,#dbdbff,#ddddff,#dfdfff,#e0e0ff,#e2e2ff,#e3e3ff,#e4e4ff)"></i><i style="background:linear-gradient(90deg,#d6d6ff,#d5d5ff,#d5d5ff,#d5d5ff,#d5d5ff,#d5d5ff,#d6d6ff,#d7d7ff,#d8d8ff,#d9d9ff,#dadaff,#dadaff,#dbdbff,#dbdbff,#dbdbff,#dadaff,#d9d9ff,#d7d7ff,#d5d5ff,#d3d3ff,#cfcfff,#ccccff,#c7c7ff,#c2c2ff,#bdbdff,#b7b7ff,#b1b1ff,#ababff,#a4a4ff,#9d9dff,#9797ff,#9090ff,#8a8aff,#8484ff,#7f7fff,#7b7bff,#7878ff,#7575ff,#7474ff,#7474ff,#7676ff,#7878ff,#7c7cff,#8080ff,#8686ff,#8c8cff,#9393ff,#9a9aff,#a1a1ff,#a8a8ff,#afafff,#b6b6ff,#bcbcff,#c2c2ff,#c8c8ff,#cdcdff,#d1d1ff,#d5d5ff,#d8d8ff,#dadaff,#dcdcff,#dedeff,#e0e0ff,#e1e1ff,#e2e2ff,#e3e3ff,#e5e5ff)"></i><i style="background:linear-gradient(90deg,#d6d6ff,#d5d5ff,#d5d5ff,#d5d5ff,#d5d5ff,#d6d6ff,#d6d6ff,#d7d7ff,#d8d8ff,#d9d9ff,#dadaff,#dbdbff,#dcdcff,#dcdcff,#dcdcff,#dbdbff,#dadaff,#d8d8ff,#d6d6ff,#d4d4ff,#d0d0ff,#cdcdff,#c8c8ff,#c3c3ff,#bebeff,#b8b8ff,#b2b2ff,#acacff,#a5a5ff,#9e9eff,#9797ff,#9191ff,#8b8bff,#8585ff,#8080ff,#7c7cff,#7979ff,#7777ff,#7676ff,#7676ff,#7777ff,#7a7aff,#7d7dff,#8282ff,#8787ff,#8d8dff,#9494ff,#9b9bff,#a2a2ff,#a9a9ff,#b0b0ff,#b7b7ff,#bebeff,#c4c4ff,#c9c9ff,#ceceff,#d2d2ff,#d6d6ff,#d9d9ff,#dbdbff,#ddddff,#dfdfff,#e1e1ff,#e2e2ff,#e3e3ff,#e4e4ff,#e5e5ff)"></i><i style="background:linear-gradient(90deg,#d6d6ff,#d5d5ff,#d5d5ff,#d5d5ff,#d5d5ff,#d6d6ff,#d7d7ff,#d8d8ff,#d9d9ff,#dadaff,#dbdbff,#dcdcff,#dcdcff,#dcdcff,#dcdcff,#dcdcff,#dbdbff,#d9d9ff,#d7d7ff,#d4d4ff,#d1d1ff,#cdcdff,#c9c9ff,#c4c4ff,#bfbfff,#b9b9ff,#b3b3ff,#acacff,#a6a6ff,#9f9fff,#9898ff,#9292ff,#8c8cff,#8686ff,#8181ff,#7d7dff,#7a7aff,#7878ff,#7777ff,#7777ff,#7878ff,#7b7bff,#7e7eff,#8383ff,#8888ff,#8f8fff,#9595ff,#9c9cff,#a3a3ff,#ababff,#b2b2ff,#b9b9ff,#bfbfff,#c5c5ff,#cacaff,#cfcfff,#d3d3ff,#d6d6ff,#dadaff,#dcdcff,#dedeff,#e0e0ff,#e1e1ff,#e3e3ff,#e4e4ff,#e5e5ff,#e6e6ff)"></i><i style="background:linear-gradient(90deg,#d6d6ff,#d5d5ff,#d5d5ff,#d5d5ff,#d5d5ff,#d6d6ff,#d7d7ff,#d8d8ff,#d9d9ff,#dadaff,#dbdbff,#dcdcff,#ddddff,#ddddff,#ddddff,#dcdcff,#dbdbff,#dadaff,#d8d8ff,#d5d5ff,#d2d2ff,#ceceff,#cacaff,#c5c5ff,#c0c0ff,#babaff,#b4b4ff,#adadff,#a7a7ff,#a0a0ff,#9999ff,#9393ff,#8d8dff,#8787ff,#8282ff,#7e7eff,#7b7bff,#7979ff,#7878ff,#7878ff,#7a7aff,#7c7cff,#8080ff,#8484ff,#8a8aff,#9090ff,#9797ff,#9e9eff,#a5a5ff,#acacff,#b3b3ff,#babaff,#c0c0ff,#c6c6ff,#cbcbff,#d0d0ff,#d4d4ff,#d7d7ff,#dadaff,#ddddff,#dfdfff,#e1e1ff,#e2e2ff,#e3e3ff,#e5e5ff,#e6e6ff,#e7e7ff)"></i><i style="background:linear-gradient(90deg,#d6d6ff,#d5d5ff,#d5d5ff,#d5d5ff,#d6d6ff,#d6d6ff,#d7d7ff,#d9d9ff,#dadaff,#dbdbff,#dcdcff,#ddddff,#ddddff,#dedeff,#dedeff,#ddddff,#dcdcff,#dbdbff,#d9d9ff,#d6d6ff,#d3d3ff,#cfcfff,#cbcbff,#c6c6ff,#c1c1ff,#bbbbff,#b5b5ff,#aeaeff,#a7a7ff,#a1a1ff,#9a9aff,#9494ff,#8e8eff,#8888ff,#8383ff,#7f7fff,#7c7cff,#7a7aff,#7979ff,#7979ff,#7b7bff,#7d7dff,#8181ff,#8686ff,#8b8bff,#9191ff,#9898ff,#9f9fff,#a6a6ff,#adadff,#b4b4ff,#bbbbff,#c1c1ff,#c7c7ff,#ccccff,#d1d1ff,#d5d5ff,#d8d8ff,#dbdbff,#dedeff,#e0e0ff,#e2e2ff,#e3e3ff,#e4e4ff,#e5e5ff,#e6e6ff,#e7e7ff)"></i><i style="background:linear-gradient(90deg,#d6d6ff,#d5d5ff,#d5d5ff,#d5d5ff,#d6d6ff,#d7d7ff,#d8d8ff,#d9d9ff,#dadaff,#dbdbff,#dcdcff,#ddddff,#dedeff,#dedeff,#dedeff,#dedeff,#ddddff,#dbdbff,#d9d9ff,#d7d7ff,#d4d4ff,#d0d0ff,#ccccff,#c7c7ff,#c1c1ff,#bcbcff,#b5b5ff,#afafff,#a8a8ff,#a2a2ff,#9b9bff,#9595ff,#8f8fff,#8989ff,#8484ff,#8080ff,#7d7dff,#7b7bff,#7a7aff,#7b7bff,#7c7cff,#7f7fff,#8282ff,#8787ff,#8d8dff,#9393ff,#9999ff,#a0a0ff,#a7a7ff,#afafff,#b6b6ff,#bcbcff,#c2c2ff,#c8c8ff,#cdcdff,#d2d2ff,#d6d6ff,#d9d9ff,#dcdcff,#dfdfff,#e1e1ff,#e2e2ff,#e4e4ff,#e5e5ff,#e6e6ff,#e7e7ff,#e8e8ff)"></i><i style="background:linear-gradient(90deg,#d6d6ff,#d5d5ff,#d5d5ff,#d6d6ff,#d6d6ff,#d7d7ff,#d8d8ff,#d9d9ff,#dbdbff,#dcdcff,#ddddff,#dedeff,#dfdfff,#dfdfff,#dfdfff,#dedeff,#dedeff,#dcdcff,#dadaff,#d7d7ff,#d4d4ff,#d1d1ff,#ccccff,#c8c8ff,#c2c2ff,#bcbcff,#b6b6ff,#b0b0ff,#a9a9ff,#a2a2ff,#9c9cff,#9595ff,#8f8fff,#8a8aff,#8585ff,#8181ff,#7e7eff,#7c7cff,#7c7cff,#7c7cff,#7d7dff,#8080ff,#8484ff,#8989ff,#8e8eff,#9494ff,#9b9bff,#a2a2ff,#a9a9ff,#b0b0ff,#b7b7ff,#bdbdff,#c4c4ff,#c9c9ff,#ceceff,#d3d3ff,#d7d7ff,#dadaff,#ddddff,#e0e0ff,#e2e2ff,#e3e3ff,#e5e5ff,#e6e6ff,#e7e7ff,#e8e8ff,#e9e9ff)"></i><i style="background:linear-gradient(90deg,#d6d6ff,#d6d6ff,#d5d5ff,#d6d6ff,#d6d6ff,#d7d7ff,#d8d8ff,#dadaff,#dbdbff,#dcdcff,#ddddff,#dedeff,#dfdfff,#dfdfff,#e0e0ff,#dfdfff,#dedeff,#ddddff,#dbdbff,#d8d8ff,#d5d5ff,#d1d1ff,#cdcdff,#c8c8ff,#c3c3ff,#bdbdff,#b7b7ff,#b1b1ff,#aaaaff,#a3a3ff,#9d9dff,#9696ff,#9090ff,#8b8bff,#8686ff,#8282ff,#7f7fff,#7e7eff,#7d7dff,#7d7dff,#7f7fff,#8181ff,#8585ff,#8a8aff,#8f8fff,#9696ff,#9c9cff,#a3a3ff,#aaaaff,#b1b1ff,#b8b8ff,#bfbfff,#c5c5ff,#cacaff,#cfcfff,#d4d4ff,#d8d8ff,#dbdbff,#dedeff,#e0e0ff,#e2e2ff,#e4e4ff,#e5e5ff,#e7e7ff,#e8e8ff,#e9e9ff,#eaeaff)"></i><i style="background:linear-gradient(90deg,#d6d6ff,#d6d6ff,#d6d6ff,#d6d6ff,#d7d7ff,#d8d8ff,#d9d9ff,#dadaff,#dbdbff,#ddddff,#dedeff,#dfdfff,#e0e0ff,#e0e0ff,#e0e0ff,#e0e0ff,#dfdfff,#ddddff,#dbdbff,#d9d9ff,#d6d6ff,#d2d2ff,#ceceff,#c9c9ff,#c4c4ff,#bebeff,#b8b8ff,#b1b1ff,#ababff,#a4a4ff,#9e9eff,#9797ff,#9191ff,#8c8cff,#8787ff,#8383ff,#8181ff,#7f7fff,#7e7eff,#7e7eff,#8080ff,#8383ff,#8787ff,#8b8bff,#9191ff,#9797ff,#9e9eff,#a4a4ff,#ababff,#b2b2ff,#b9b9ff,#c0c0ff,#c6c6ff,#cbcbff,#d1d1ff,#d5d5ff,#d9d9ff,#dcdcff,#dfdfff,#e1e1ff,#e3e3ff,#e5e5ff,#e6e6ff,#e7e7ff,#e8e8ff,#e9e9ff,#eaeaff)"></i><i style="background:linear-gradient(90deg,#d6d6ff,#d6d6ff,#d6d6ff,#d6d6ff,#d7d7ff,#d8d8ff,#d9d9ff,#dadaff,#dcdcff,#ddddff,#dedeff,#dfdfff,#e0e0ff,#e1e1ff,#e1e1ff,#e0e0ff,#dfdfff,#dedeff,#dcdcff,#dadaff,#d6d6ff,#d3d3ff,#cfcfff,#cacaff,#c4c4ff,#bfbfff,#b9b9ff,#b2b2ff,#acacff,#a5a5ff,#9e9eff,#9898ff,#9292ff,#8d8dff,#8888ff,#8585ff,#8282ff,#8080ff,#7f7fff,#8080ff,#8181ff,#8484ff,#8888ff,#8d8dff,#9292ff,#9898ff,#9f9fff,#a6a6ff,#adadff,#b4b4ff,#bbbbff,#c1c1ff,#c7c7ff,#cdcdff,#d2d2ff,#d6d6ff,#dadaff,#ddddff,#e0e0ff,#e2e2ff,#e4e4ff,#e6e6ff,#e7e7ff,#e8e8ff,#e9e9ff,#eaeaff,#ebebff)"></i><i style="background:linear-gradient(90deg,#d6d6ff,#d6d6ff,#d6d6ff,#d6d6ff,#d7d7ff,#d8d8ff,#d9d9ff,#dbdbff,#dcdcff,#dedeff,#dfdfff,#e0e0ff,#e1e1ff,#e1e1ff,#e1e1ff,#e1e1ff,#e0e0ff,#dfdfff,#ddddff,#dadaff,#d7d7ff,#d3d3ff,#cfcfff,#cacaff,#c5c5ff,#bfbfff,#b9b9ff,#b3b3ff,#acacff,#a6a6ff,#9f9fff,#9999ff,#9393ff,#8e8eff,#8989ff,#8686ff,#8383ff,#8181ff,#8181ff,#8181ff,#8383ff,#8686ff,#8989ff,#8e8eff,#9494ff,#9a9aff,#a0a0ff,#a7a7ff,#aeaeff,#b5b5ff,#bcbcff,#c2c2ff,#c8c8ff,#ceceff,#d3d3ff,#d7d7ff,#dbdbff,#dedeff,#e1e1ff,#e3e3ff,#e5e5ff,#e6e6ff,#e8e8ff,#e9e9ff,#eaeaff,#ebebff,#ececff)"></i><i style="background:linear-gradient(90deg,#d7d7ff,#d6d6ff,#d6d6ff,#d7d7ff,#d7d7ff,#d8d8ff,#dadaff,#dbdbff,#ddddff,#dedeff,#dfdfff,#e0e0ff,#e1e1ff,#e2e2ff,#e2e2ff,#e2e2ff,#e1e1ff,#dfdfff,#ddddff,#dbdbff,#d8d8ff,#d4d4ff,#d0d0ff,#cbcbff,#c6c6ff,#c0c0ff,#babaff,#b4b4ff,#adadff,#a7a7ff,#a0a0ff,#9a9aff,#9494ff,#8f8fff,#8a8aff,#8787ff,#8484ff,#8282ff,#8282ff,#8282ff,#8484ff,#8787ff,#8b8bff,#9090ff,#9595ff,#9b9bff,#a2a2ff,#a9a9ff,#afafff,#b6b6ff,#bdbdff,#c3c3ff,#c9c9ff,#cfcfff,#d4d4ff,#d8d8ff,#dcdcff,#dfdfff,#e2e2ff,#e4e4ff,#e6e6ff,#e7e7ff,#e8e8ff,#eaeaff,#eaeaff,#ebebff,#ececff)"></i><i style="background:linear-gradient(90deg,#d7d7ff,#d6d6ff,#d7d7ff,#d7d7ff,#d8d8ff,#d9d9ff,#dadaff,#dbdbff,#ddddff,#dedeff,#e0e0ff,#e1e1ff,#e2e2ff,#e2e2ff,#e2e2ff,#e2e2ff,#e1e1ff,#e0e0ff,#dedeff,#dbdbff,#d8d8ff,#d5d5ff,#d0d0ff,#ccccff,#c6c6ff,#c1c1ff,#bbbbff,#b4b4ff,#aeaeff,#a7a7ff,#a1a1ff,#9b9bff,#9595ff,#9090ff,#8b8bff,#8888ff,#8585ff,#8484ff,#8383ff,#8484ff,#8686ff,#8888ff,#8c8cff,#9191ff,#9797ff,#9d9dff,#a3a3ff,#aaaaff,#b1b1ff,#b8b8ff,#bebeff,#c5c5ff,#cacaff,#d0d0ff,#d5d5ff,#d9d9ff,#ddddff,#e0e0ff,#e2e2ff,#e5e5ff,#e6e6ff,#e8e8ff,#e9e9ff,#eaeaff,#ebebff,#ececff,#ededff)"></i><i style="background:linear-gradient(90deg,#d7d7ff,#d7d7ff,#d7d7ff,#d7d7ff,#d8d8ff,#d9d9ff,#dadaff,#dcdcff,#ddddff,#dfdfff,#e0e0ff,#e1e1ff,#e2e2ff,#e3e3ff,#e3e3ff,#e3e3ff,#e2e2ff,#e0e0ff,#dfdfff,#dcdcff,#d9d9ff,#d5d5ff,#d1d1ff,#ccccff,#c7c7ff,#c1c1ff,#bbbbff,#b5b5ff,#afafff,#a8a8ff,#a2a2ff,#9c9cff,#9696ff,#9191ff,#8c8cff,#8989ff,#8686ff,#8585ff,#8484ff,#8585ff,#8787ff,#8a8aff,#8e8eff,#9292ff,#9898ff,#9e9eff,#a5a5ff,#ababff,#b2b2ff,#b9b9ff,#bfbfff,#c6c6ff,#cbcbff,#d1d1ff,#d6d6ff,#dadaff,#dedeff,#e1e1ff,#e3e3ff,#e5e5ff,#e7e7ff,#e9e9ff,#eaeaff,#ebebff,#ececff,#ededff,#eeeeff)"></i><i style="background:linear-gradient(90deg,#d7d7ff,#d7d7ff,#d7d7ff,#d8d8ff,#d8d8ff,#d9d9ff,#dbdbff,#dcdcff,#dedeff,#dfdfff,#e1e1ff,#e2e2ff,#e3e3ff,#e3e3ff,#e3e3ff,#e3e3ff,#e2e2ff,#e1e1ff,#dfdfff,#ddddff,#dadaff,#d6d6ff,#d2d2ff,#cdcdff,#c8c8ff,#c2c2ff,#bcbcff,#b6b6ff,#afafff,#a9a9ff,#a2a2ff,#9c9cff,#9797ff,#9292ff,#8d8dff,#8a8aff,#8888ff,#8686ff,#8686ff,#8686ff,#8888ff,#8b8bff,#8f8fff,#9494ff,#9999ff,#9f9fff,#a6a6ff,#adadff,#b3b3ff,#babaff,#c1c1ff,#c7c7ff,#cdcdff,#d2d2ff,#d7d7ff,#dbdbff,#dedeff,#e1e1ff,#e4e4ff,#e6e6ff,#e8e8ff,#e9e9ff,#ebebff,#ececff,#ededff,#ededff,#eeeeff)"></i><i style="background:linear-gradient(90deg,#d7d7ff,#d7d7ff,#d7d7ff,#d8d8ff,#d9d9ff,#dadaff,#dbdbff,#ddddff,#dedeff,#e0e0ff,#e1e1ff,#e2e2ff,#e3e3ff,#e4e4ff,#e4e4ff,#e4e4ff,#e3e3ff,#e2e2ff,#e0e0ff,#ddddff,#dadaff,#d6d6ff,#d2d2ff,#ceceff,#c8c8ff,#c3c3ff,#bdbdff,#b6b6ff,#b0b0ff,#aaaaff,#a3a3ff,#9d9dff,#9898ff,#9393ff,#8f8fff,#8b8bff,#8989ff,#8787ff,#8787ff,#8888ff,#8a8aff,#8d8dff,#9191ff,#9595ff,#9b9bff,#a1a1ff,#a7a7ff,#aeaeff,#b5b5ff,#bbbbff,#c2c2ff,#c8c8ff,#ceceff,#d3d3ff,#d8d8ff,#dcdcff,#dfdfff,#e2e2ff,#e5e5ff,#e7e7ff,#e9e9ff,#eaeaff,#ebebff,#ececff,#ededff,#eeeeff,#efefff)"></i><i style="background:linear-gradient(90deg,#d8d8ff,#d7d7ff,#d8d8ff,#d8d8ff,#d9d9ff,#dadaff,#dbdbff,#ddddff,#dfdfff,#e0e0ff,#e1e1ff,#e3e3ff,#e4e4ff,#e4e4ff,#e4e4ff,#e4e4ff,#e3e3ff,#e2e2ff,#e0e0ff,#dedeff,#dbdbff,#d7d7ff,#d3d3ff,#ceceff,#c9c9ff,#c3c3ff,#bdbdff,#b7b7ff,#b1b1ff,#aaaaff,#a4a4ff,#9e9eff,#9999ff,#9494ff,#9090ff,#8c8cff,#8a8aff,#8989ff,#8888ff,#8989ff,#8b8bff,#8e8eff,#9292ff,#9797ff,#9c9cff,#a2a2ff,#a9a9ff,#afafff,#b6b6ff,#bdbdff,#c3c3ff,#c9c9ff,#cfcfff,#d4d4ff,#d9d9ff,#ddddff,#e0e0ff,#e3e3ff,#e6e6ff,#e8e8ff,#e9e9ff,#ebebff,#ececff,#ededff,#eeeeff,#efefff,#efefff)"></i><i style="background:linear-gradient(90deg,#d8d8ff,#d8d8ff,#d8d8ff,#d8d8ff,#d9d9ff,#dadaff,#dcdcff,#ddddff,#dfdfff,#e0e0ff,#e2e2ff,#e3e3ff,#e4e4ff,#e5e5ff,#e5e5ff,#e5e5ff,#e4e4ff,#e3e3ff,#e1e1ff,#dedeff,#dbdbff,#d8d8ff,#d3d3ff,#cfcfff,#c9c9ff,#c4c4ff,#bebeff,#b8b8ff,#b1b1ff,#ababff,#a5a5ff,#9f9fff,#9a9aff,#9595ff,#9191ff,#8d8dff,#8b8bff,#8a8aff,#8a8aff,#8b8bff,#8d8dff,#9090ff,#9393ff,#9898ff,#9e9eff,#a4a4ff,#aaaaff,#b1b1ff,#b7b7ff,#bebeff,#c4c4ff,#cacaff,#d0d0ff,#d5d5ff,#d9d9ff,#dedeff,#e1e1ff,#e4e4ff,#e6e6ff,#e9e9ff,#eaeaff,#ececff,#ededff,#eeeeff,#eeeeff,#efefff,#f0f0ff)"></i><i style="background:linear-gradient(90deg,#d8d8ff,#d8d8ff,#d8d8ff,#d9d9ff,#dadaff,#dbdbff,#dcdcff,#dedeff,#dfdfff,#e1e1ff,#e2e2ff,#e4e4ff,#e4e4ff,#e5e5ff,#e5e5ff,#e5e5ff,#e4e4ff,#e3e3ff,#e1e1ff,#dfdfff,#dcdcff,#d8d8ff,#d4d4ff,#cfcfff,#cacaff,#c4c4ff,#bebeff,#b8b8ff,#b2b2ff,#acacff,#a6a6ff,#a0a0ff,#9a9aff,#9696ff,#9292ff,#8e8eff,#8c8cff,#8b8bff,#8b8bff,#8c8cff,#8e8eff,#9191ff,#9595ff,#9a9aff,#9f9fff,#a5a5ff,#ababff,#b2b2ff,#b9b9ff,#bfbfff,#c5c5ff,#cbcbff,#d1d1ff,#d6d6ff,#dadaff,#dedeff,#e2e2ff,#e5e5ff,#e7e7ff,#e9e9ff,#ebebff,#ececff,#ededff,#eeeeff,#efefff,#f0f0ff,#f1f1ff)"></i><i style="background:linear-gradient(90deg,#d8d8ff,#d8d8ff,#d9d9ff,#d9d9ff,#dadaff,#dbdbff,#ddddff,#dedeff,#e0e0ff,#e1e1ff,#e3e3ff,#e4e4ff,#e5e5ff,#e6e6ff,#e6e6ff,#e6e6ff,#e5e5ff,#e3e3ff,#e2e2ff,#dfdfff,#dcdcff,#d8d8ff,#d4d4ff,#d0d0ff,#cacaff,#c5c5ff,#bfbfff,#b9b9ff,#b3b3ff,#acacff,#a6a6ff,#a1a1ff,#9b9bff,#9797ff,#9393ff,#9090ff,#8d8dff,#8c8cff,#8c8cff,#8d8dff,#8f8fff,#9292ff,#9696ff,#9b9bff,#a1a1ff,#a7a7ff,#adadff,#b3b3ff,#babaff,#c0c0ff,#c7c7ff,#ccccff,#d2d2ff,#d7d7ff,#dbdbff,#dfdfff,#e3e3ff,#e6e6ff,#e8e8ff,#eaeaff,#ececff,#ededff,#eeeeff,#efefff,#f0f0ff,#f0f0ff,#f1f1ff)"></i><i style="background:linear-gradient(90deg,#d9d9ff,#d9d9ff,#d9d9ff,#d9d9ff,#dadaff,#dcdcff,#ddddff,#dfdfff,#e0e0ff,#e2e2ff,#e3e3ff,#e4e4ff,#e5e5ff,#e6e6ff,#e6e6ff,#e6e6ff,#e5e5ff,#e4e4ff,#e2e2ff,#e0e0ff,#ddddff,#d9d9ff,#d5d5ff,#d0d0ff,#cbcbff,#c5c5ff,#c0c0ff,#b9b9ff,#b3b3ff,#adadff,#a7a7ff,#a1a1ff,#9c9cff,#9898ff,#9494ff,#9191ff,#8f8fff,#8e8eff,#8e8eff,#8f8fff,#9191ff,#9494ff,#9898ff,#9d9dff,#a2a2ff,#a8a8ff,#aeaeff,#b5b5ff,#bbbbff,#c2c2ff,#c8c8ff,#ceceff,#d3d3ff,#d8d8ff,#dcdcff,#e0e0ff,#e3e3ff,#e6e6ff,#e9e9ff,#ebebff,#ececff,#eeeeff,#efefff,#f0f0ff,#f0f0ff,#f1f1ff,#f2f2ff)"></i><i style="background:linear-gradient(90deg,#d9d9ff,#d9d9ff,#d9d9ff,#dadaff,#dbdbff,#dcdcff,#ddddff,#dfdfff,#e1e1ff,#e2e2ff,#e4e4ff,#e5e5ff,#e6e6ff,#e6e6ff,#e7e7ff,#e6e6ff,#e6e6ff,#e4e4ff,#e2e2ff,#e0e0ff,#ddddff,#d9d9ff,#d5d5ff,#d1d1ff,#cbcbff,#c6c6ff,#c0c0ff,#babaff,#b4b4ff,#aeaeff,#a8a8ff,#a2a2ff,#9d9dff,#9999ff,#9595ff,#9292ff,#9090ff,#8f8fff,#8f8fff,#9090ff,#9292ff,#9595ff,#9999ff,#9e9eff,#a3a3ff,#a9a9ff,#b0b0ff,#b6b6ff,#bcbcff,#c3c3ff,#c9c9ff,#cfcfff,#d4d4ff,#d9d9ff,#ddddff,#e1e1ff,#e4e4ff,#e7e7ff,#e9e9ff,#ebebff,#ededff,#eeeeff,#efefff,#f0f0ff,#f1f1ff,#f2f2ff,#f2f2ff)"></i><i style="background:linear-gradient(90deg,#d9d9ff,#d9d9ff,#dadaff,#dadaff,#dbdbff,#dcdcff,#dedeff,#dfdfff,#e1e1ff,#e3e3ff,#e4e4ff,#e5e5ff,#e6e6ff,#e7e7ff,#e7e7ff,#e7e7ff,#e6e6ff,#e5e5ff,#e3e3ff,#e0e0ff,#ddddff,#dadaff,#d6d6ff,#d1d1ff,#ccccff,#c6c6ff,#c1c1ff,#bbbbff,#b4b4ff,#aeaeff,#a9a9ff,#a3a3ff,#9e9eff,#9a9aff,#9696ff,#9393ff,#9191ff,#9090ff,#9090ff,#9191ff,#9494ff,#9797ff,#9b9bff,#9f9fff,#a5a5ff,#ababff,#b1b1ff,#b7b7ff,#bebeff,#c4c4ff,#cacaff,#d0d0ff,#d5d5ff,#dadaff,#dedeff,#e2e2ff,#e5e5ff,#e8e8ff,#eaeaff,#ececff,#eeeeff,#efefff,#f0f0ff,#f1f1ff,#f1f1ff,#f2f2ff,#f3f3ff)"></i><i style="background:linear-gradient(90deg,#dadaff,#dadaff,#dadaff,#dbdbff,#dcdcff,#ddddff,#dedeff,#e0e0ff,#e1e1ff,#e3e3ff,#e4e4ff,#e6e6ff,#e7e7ff,#e7e7ff,#e7e7ff,#e7e7ff,#e6e6ff,#e5e5ff,#e3e3ff,#e1e1ff,#dedeff,#dadaff,#d6d6ff,#d1d1ff,#ccccff,#c7c7ff,#c1c1ff,#bbbbff,#b5b5ff,#afafff,#a9a9ff,#a4a4ff,#9f9fff,#9b9bff,#9797ff,#9494ff,#9292ff,#9191ff,#9292ff,#9393ff,#9595ff,#9898ff,#9c9cff,#a1a1ff,#a6a6ff,#acacff,#b2b2ff,#b9b9ff,#bfbfff,#c5c5ff,#cbcbff,#d1d1ff,#d6d6ff,#dbdbff,#dfdfff,#e3e3ff,#e6e6ff,#e9e9ff,#ebebff,#ededff,#eeeeff,#efefff,#f0f0ff,#f1f1ff,#f2f2ff,#f3f3ff,#f3f3ff)"></i><i style="background:linear-gradient(90deg,#dadaff,#dadaff,#dadaff,#dbdbff,#dcdcff,#ddddff,#dfdfff,#e0e0ff,#e2e2ff,#e3e3ff,#e5e5ff,#e6e6ff,#e7e7ff,#e8e8ff,#e8e8ff,#e8e8ff,#e7e7ff,#e6e6ff,#e4e4ff,#e1e1ff,#dedeff,#dbdbff,#d6d6ff,#d2d2ff,#cdcdff,#c7c7ff,#c2c2ff,#bcbcff,#b6b6ff,#b0b0ff,#aaaaff,#a5a5ff,#a0a0ff,#9b9bff,#9898ff,#9595ff,#9393ff,#9393ff,#9393ff,#9494ff,#9696ff,#9a9aff,#9e9eff,#a2a2ff,#a8a8ff,#aeaeff,#b4b4ff,#babaff,#c0c0ff,#c6c6ff,#ccccff,#d2d2ff,#d7d7ff,#dcdcff,#e0e0ff,#e3e3ff,#e7e7ff,#e9e9ff,#ececff,#ededff,#efefff,#f0f0ff,#f1f1ff,#f2f2ff,#f3f3ff,#f3f3ff,#f4f4ff)"></i><i style="background:linear-gradient(90deg,#dbdbff,#dadaff,#dbdbff,#dbdbff,#dcdcff,#dedeff,#dfdfff,#e1e1ff,#e2e2ff,#e4e4ff,#e5e5ff,#e6e6ff,#e7e7ff,#e8e8ff,#e8e8ff,#e8e8ff,#e7e7ff,#e6e6ff,#e4e4ff,#e2e2ff,#dfdfff,#dbdbff,#d7d7ff,#d2d2ff,#cdcdff,#c8c8ff,#c2c2ff,#bcbcff,#b6b6ff,#b0b0ff,#ababff,#a5a5ff,#a1a1ff,#9c9cff,#9999ff,#9696ff,#9595ff,#9494ff,#9494ff,#9696ff,#9898ff,#9b9bff,#9f9fff,#a4a4ff,#a9a9ff,#afafff,#b5b5ff,#bbbbff,#c1c1ff,#c7c7ff,#cdcdff,#d3d3ff,#d8d8ff,#dcdcff,#e1e1ff,#e4e4ff,#e7e7ff,#eaeaff,#ececff,#eeeeff,#efefff,#f1f1ff,#f2f2ff,#f2f2ff,#f3f3ff,#f4f4ff,#f4f4ff)"></i><i style="background:linear-gradient(90deg,#dbdbff,#dbdbff,#dbdbff,#dcdcff,#ddddff,#dedeff,#dfdfff,#e1e1ff,#e3e3ff,#e4e4ff,#e6e6ff,#e7e7ff,#e8e8ff,#e8e8ff,#e9e9ff,#e8e8ff,#e8e8ff,#e6e6ff,#e4e4ff,#e2e2ff,#dfdfff,#dbdbff,#d7d7ff,#d3d3ff,#ceceff,#c8c8ff,#c3c3ff,#bdbdff,#b7b7ff,#b1b1ff,#ababff,#a6a6ff,#a2a2ff,#9d9dff,#9a9aff,#9797ff,#9696ff,#9595ff,#9696ff,#9797ff,#9999ff,#9c9cff,#a1a1ff,#a5a5ff,#ababff,#b0b0ff,#b6b6ff,#bcbcff,#c3c3ff,#c9c9ff,#ceceff,#d4d4ff,#d9d9ff,#ddddff,#e1e1ff,#e5e5ff,#e8e8ff,#ebebff,#ededff,#efefff,#f0f0ff,#f1f1ff,#f2f2ff,#f3f3ff,#f4f4ff,#f4f4ff,#f5f5ff)"></i><i style="background:linear-gradient(90deg,#dbdbff,#dbdbff,#dcdcff,#dcdcff,#ddddff,#dedeff,#e0e0ff,#e1e1ff,#e3e3ff,#e5e5ff,#e6e6ff,#e7e7ff,#e8e8ff,#e9e9ff,#e9e9ff,#e9e9ff,#e8e8ff,#e7e7ff,#e5e5ff,#e2e2ff,#dfdfff,#dcdcff,#d8d8ff,#d3d3ff,#ceceff,#c9c9ff,#c3c3ff,#bdbdff,#b7b7ff,#b2b2ff,#acacff,#a7a7ff,#a2a2ff,#9e9eff,#9b9bff,#9999ff,#9797ff,#9696ff,#9797ff,#9898ff,#9b9bff,#9e9eff,#a2a2ff,#a7a7ff,#acacff,#b2b2ff,#b8b8ff,#bebeff,#c4c4ff,#cacaff,#cfcfff,#d5d5ff,#dadaff,#dedeff,#e2e2ff,#e6e6ff,#e9e9ff,#ebebff,#ededff,#efefff,#f1f1ff,#f2f2ff,#f3f3ff,#f4f4ff,#f4f4ff,#f5f5ff,#f5f5ff)"></i><i style="background:linear-gradient(90deg,#dcdcff,#dcdcff,#dcdcff,#ddddff,#dedeff,#dfdfff,#e0e0ff,#e2e2ff,#e3e3ff,#e5e5ff,#e6e6ff,#e8e8ff,#e9e9ff,#e9e9ff,#e9e9ff,#e9e9ff,#e8e8ff,#e7e7ff,#e5e5ff,#e3e3ff,#e0e0ff,#dcdcff,#d8d8ff,#d3d3ff,#ceceff,#c9c9ff,#c3c3ff,#bebeff,#b8b8ff,#b2b2ff,#adadff,#a8a8ff,#a3a3ff,#9f9fff,#9c9cff,#9a9aff,#9898ff,#9898ff,#9898ff,#9a9aff,#9c9cff,#9f9fff,#a3a3ff,#a8a8ff,#adadff,#b3b3ff,#b9b9ff,#bfbfff,#c5c5ff,#cbcbff,#d1d1ff,#d6d6ff,#dbdbff,#dfdfff,#e3e3ff,#e6e6ff,#e9e9ff,#ececff,#eeeeff,#f0f0ff,#f1f1ff,#f2f2ff,#f3f3ff,#f4f4ff,#f5f5ff,#f5f5ff,#f6f6ff)"></i><i style="background:linear-gradient(90deg,#dcdcff,#dcdcff,#ddddff,#ddddff,#dedeff,#dfdfff,#e1e1ff,#e2e2ff,#e4e4ff,#e5e5ff,#e7e7ff,#e8e8ff,#e9e9ff,#e9e9ff,#eaeaff,#e9e9ff,#e9e9ff,#e7e7ff,#e5e5ff,#e3e3ff,#e0e0ff,#dcdcff,#d8d8ff,#d4d4ff,#cfcfff,#c9c9ff,#c4c4ff,#bebeff,#b9b9ff,#b3b3ff,#aeaeff,#a9a9ff,#a4a4ff,#a0a0ff,#9d9dff,#9b9bff,#9999ff,#9999ff,#9a9aff,#9b9bff,#9d9dff,#a1a1ff,#a5a5ff,#aaaaff,#afafff,#b4b4ff,#babaff,#c0c0ff,#c6c6ff,#ccccff,#d2d2ff,#d7d7ff,#dcdcff,#e0e0ff,#e4e4ff,#e7e7ff,#eaeaff,#ededff,#efefff,#f0f0ff,#f2f2ff,#f3f3ff,#f4f4ff,#f5f5ff,#f5f5ff,#f6f6ff,#f6f6ff)"></i><i style="background:linear-gradient(90deg,#ddddff,#ddddff,#ddddff,#dedeff,#dfdfff,#e0e0ff,#e1e1ff,#e3e3ff,#e4e4ff,#e6e6ff,#e7e7ff,#e8e8ff,#e9e9ff,#eaeaff,#eaeaff,#eaeaff,#e9e9ff,#e8e8ff,#e6e6ff,#e3e3ff,#e0e0ff,#ddddff,#d9d9ff,#d4d4ff,#cfcfff,#cacaff,#c4c4ff,#bfbfff,#b9b9ff,#b4b4ff,#aeaeff,#a9a9ff,#a5a5ff,#a1a1ff,#9e9eff,#9c9cff,#9b9bff,#9a9aff,#9b9bff,#9c9cff,#9f9fff,#a2a2ff,#a6a6ff,#ababff,#b0b0ff,#b6b6ff,#bcbcff,#c2c2ff,#c7c7ff,#cdcdff,#d3d3ff,#d8d8ff,#dcdcff,#e1e1ff,#e5e5ff,#e8e8ff,#ebebff,#ededff,#efefff,#f1f1ff,#f2f2ff,#f3f3ff,#f4f4ff,#f5f5ff,#f6f6ff,#f6f6ff,#f7f7ff)"></i><i style="background:linear-gradient(90deg,#ddddff,#ddddff,#ddddff,#dedeff,#dfdfff,#e0e0ff,#e2e2ff,#e3e3ff,#e5e5ff,#e6e6ff,#e8e8ff,#e9e9ff,#eaeaff,#eaeaff,#eaeaff,#eaeaff,#e9e9ff,#e8e8ff,#e6e6ff,#e3e3ff,#e0e0ff,#ddddff,#d9d9ff,#d4d4ff,#cfcfff,#cacaff,#c5c5ff,#bfbfff,#babaff,#b4b4ff,#afafff,#aaaaff,#a6a6ff,#a2a2ff,#9f9fff,#9d9dff,#9c9cff,#9c9cff,#9c9cff,#9e9eff,#a0a0ff,#a4a4ff,#a8a8ff,#acacff,#b2b2ff,#b7b7ff,#bdbdff,#c3c3ff,#c9c9ff,#ceceff,#d4d4ff,#d9d9ff,#ddddff,#e2e2ff,#e5e5ff,#e9e9ff,#ebebff,#eeeeff,#f0f0ff,#f1f1ff,#f3f3ff,#f4f4ff,#f5f5ff,#f5f5ff,#f6f6ff,#f7f7ff,#f7f7ff)"></i><i style="background:linear-gradient(90deg,#dedeff,#dedeff,#dedeff,#dfdfff,#e0e0ff,#e1e1ff,#e2e2ff,#e4e4ff,#e5e5ff,#e7e7ff,#e8e8ff,#e9e9ff,#eaeaff,#ebebff,#ebebff,#eaeaff,#e9e9ff,#e8e8ff,#e6e6ff,#e4e4ff,#e1e1ff,#ddddff,#d9d9ff,#d5d5ff,#d0d0ff,#cbcbff,#c5c5ff,#c0c0ff,#babaff,#b5b5ff,#b0b0ff,#ababff,#a7a7ff,#a3a3ff,#a0a0ff,#9e9eff,#9d9dff,#9d9dff,#9e9eff,#9f9fff,#a2a2ff,#a5a5ff,#a9a9ff,#aeaeff,#b3b3ff,#b8b8ff,#bebeff,#c4c4ff,#cacaff,#cfcfff,#d5d5ff,#dadaff,#dedeff,#e2e2ff,#e6e6ff,#e9e9ff,#ececff,#eeeeff,#f0f0ff,#f2f2ff,#f3f3ff,#f4f4ff,#f5f5ff,#f6f6ff,#f6f6ff,#f7f7ff,#f7f7ff)"></i><i style="background:linear-gradient(90deg,#dedeff,#dedeff,#dedeff,#dfdfff,#e0e0ff,#e1e1ff,#e3e3ff,#e4e4ff,#e6e6ff,#e7e7ff,#e8e8ff,#eaeaff,#eaeaff,#ebebff,#ebebff,#ebebff,#eaeaff,#e8e8ff,#e6e6ff,#e4e4ff,#e1e1ff,#ddddff,#d9d9ff,#d5d5ff,#d0d0ff,#cbcbff,#c6c6ff,#c0c0ff,#bbbbff,#b5b5ff,#b0b0ff,#acacff,#a8a8ff,#a4a4ff,#a1a1ff,#9f9fff,#9e9eff,#9e9eff,#9f9fff,#a1a1ff,#a3a3ff,#a6a6ff,#ababff,#afafff,#b4b4ff,#babaff,#bfbfff,#c5c5ff,#cbcbff,#d0d0ff,#d6d6ff,#dbdbff,#dfdfff,#e3e3ff,#e7e7ff,#eaeaff,#ededff,#efefff,#f1f1ff,#f3f3ff,#f4f4ff,#f5f5ff,#f6f6ff,#f6f6ff,#f7f7ff,#f7f7ff,#f8f8ff)"></i><i style="background:linear-gradient(90deg,#dfdfff,#dfdfff,#dfdfff,#e0e0ff,#e1e1ff,#e2e2ff,#e3e3ff,#e5e5ff,#e6e6ff,#e8e8ff,#e9e9ff,#eaeaff,#ebebff,#ebebff,#ebebff,#ebebff,#eaeaff,#e9e9ff,#e7e7ff,#e4e4ff,#e1e1ff,#dedeff,#dadaff,#d5d5ff,#d0d0ff,#cbcbff,#c6c6ff,#c1c1ff,#bbbbff,#b6b6ff,#b1b1ff,#acacff,#a8a8ff,#a5a5ff,#a2a2ff,#a0a0ff,#9f9fff,#9f9fff,#a0a0ff,#a2a2ff,#a4a4ff,#a8a8ff,#acacff,#b1b1ff,#b6b6ff,#bbbbff,#c1c1ff,#c6c6ff,#ccccff,#d1d1ff,#d7d7ff,#dbdbff,#e0e0ff,#e4e4ff,#e8e8ff,#ebebff,#ededff,#f0f0ff,#f1f1ff,#f3f3ff,#f4f4ff,#f5f5ff,#f6f6ff,#f7f7ff,#f7f7ff,#f8f8ff,#f8f8ff)"></i><i style="background:linear-gradient(90deg,#dfdfff,#dfdfff,#e0e0ff,#e0e0ff,#e1e1ff,#e2e2ff,#e4e4ff,#e5e5ff,#e7e7ff,#e8e8ff,#e9e9ff,#eaeaff,#ebebff,#ececff,#ececff,#ebebff,#eaeaff,#e9e9ff,#e7e7ff,#e5e5ff,#e1e1ff,#dedeff,#dadaff,#d6d6ff,#d1d1ff,#ccccff,#c6c6ff,#c1c1ff,#bcbcff,#b7b7ff,#b2b2ff,#adadff,#a9a9ff,#a6a6ff,#a3a3ff,#a1a1ff,#a1a1ff,#a1a1ff,#a1a1ff,#a3a3ff,#a6a6ff,#a9a9ff,#adadff,#b2b2ff,#b7b7ff,#bcbcff,#c2c2ff,#c8c8ff,#cdcdff,#d2d2ff,#d8d8ff,#dcdcff,#e1e1ff,#e5e5ff,#e8e8ff,#ebebff,#eeeeff,#f0f0ff,#f2f2ff,#f4f4ff,#f5f5ff,#f6f6ff,#f7f7ff,#f7f7ff,#f8f8ff,#f8f8ff,#f9f9ff)"></i><i style="background:linear-gradient(90deg,#e0e0ff,#e0e0ff,#e0e0ff,#e1e1ff,#e2e2ff,#e3e3ff,#e4e4ff,#e6e6ff,#e7e7ff,#e8e8ff,#eaeaff,#ebebff,#ebebff,#ececff,#ececff,#ebebff,#ebebff,#e9e9ff,#e7e7ff,#e5e5ff,#e2e2ff,#dedeff,#dadaff,#d6d6ff,#d1d1ff,#ccccff,#c7c7ff,#c2c2ff,#bcbcff,#b7b7ff,#b2b2ff,#aeaeff,#aaaaff,#a7a7ff,#a4a4ff,#a3a3ff,#a2a2ff,#a2a2ff,#a3a3ff,#a5a5ff,#a7a7ff,#ababff,#afafff,#b3b3ff,#b8b8ff,#bebeff,#c3c3ff,#c9c9ff,#ceceff,#d4d4ff,#d9d9ff,#ddddff,#e2e2ff,#e5e5ff,#e9e9ff,#ececff,#efefff,#f1f1ff,#f3f3ff,#f4f4ff,#f5f5ff,#f6f6ff,#f7f7ff,#f8f8ff,#f8f8ff,#f9f9ff,#f9f9ff)"></i><i style="background:linear-gradient(90deg,#e0e0ff,#e0e0ff,#e1e1ff,#e1e1ff,#e2e2ff,#e3e3ff,#e5e5ff,#e6e6ff,#e7e7ff,#e9e9ff,#eaeaff,#ebebff,#ececff,#ececff,#ececff,#ececff,#ebebff,#e9e9ff,#e7e7ff,#e5e5ff,#e2e2ff,#dedeff,#dadaff,#d6d6ff,#d1d1ff,#ccccff,#c7c7ff,#c2c2ff,#bdbdff,#b8b8ff,#b3b3ff,#afafff,#ababff,#a8a8ff,#a5a5ff,#a4a4ff,#a3a3ff,#a3a3ff,#a4a4ff,#a6a6ff,#a9a9ff,#acacff,#b0b0ff,#b5b5ff,#babaff,#bfbfff,#c4c4ff,#cacaff,#cfcfff,#d5d5ff,#d9d9ff,#dedeff,#e2e2ff,#e6e6ff,#eaeaff,#ededff,#efefff,#f1f1ff,#f3f3ff,#f4f4ff,#f6f6ff,#f7f7ff,#f7f7ff,#f8f8ff,#f8f8ff,#f9f9ff,#f9f9ff)"></i><i style="background:linear-gradient(90deg,#e1e1ff,#e1e1ff,#e1e1ff,#e2e2ff,#e3e3ff,#e4e4ff,#e5e5ff,#e6e6ff,#e8e8ff,#e9e9ff,#eaeaff,#ebebff,#ececff,#ececff,#ececff,#ececff,#ebebff,#eaeaff,#e8e8ff,#e5e5ff,#e2e2ff,#dfdfff,#dbdbff,#d6d6ff,#d2d2ff,#cdcdff,#c8c8ff,#c2c2ff,#bdbdff,#b8b8ff,#b4b4ff,#afafff,#acacff,#a9a9ff,#a6a6ff,#a5a5ff,#a4a4ff,#a4a4ff,#a5a5ff,#a7a7ff,#aaaaff,#adadff,#b1b1ff,#b6b6ff,#bbbbff,#c0c0ff,#c6c6ff,#cbcbff,#d0d0ff,#d6d6ff,#dadaff,#dfdfff,#e3e3ff,#e7e7ff,#eaeaff,#ededff,#f0f0ff,#f2f2ff,#f3f3ff,#f5f5ff,#f6f6ff,#f7f7ff,#f8f8ff,#f8f8ff,#f9f9ff,#f9f9ff,#fafaff)"></i><i style="background:linear-gradient(90deg,#e1e1ff,#e1e1ff,#e2e2ff,#e2e2ff,#e3e3ff,#e4e4ff,#e6e6ff,#e7e7ff,#e8e8ff,#eaeaff,#ebebff,#ececff,#ececff,#ededff,#ededff,#ececff,#ebebff,#eaeaff,#e8e8ff,#e5e5ff,#e2e2ff,#dfdfff,#dbdbff,#d7d7ff,#d2d2ff,#cdcdff,#c8c8ff,#c3c3ff,#bebeff,#b9b9ff,#b4b4ff,#b0b0ff,#adadff,#aaaaff,#a7a7ff,#a6a6ff,#a5a5ff,#a6a6ff,#a7a7ff,#a9a9ff,#ababff,#afafff,#b3b3ff,#b7b7ff,#bcbcff,#c1c1ff,#c7c7ff,#ccccff,#d1d1ff,#d7d7ff,#dbdbff,#e0e0ff,#e4e4ff,#e8e8ff,#ebebff,#eeeeff,#f0f0ff,#f2f2ff,#f4f4ff,#f5f5ff,#f6f6ff,#f7f7ff,#f8f8ff,#f9f9ff,#f9f9ff,#fafaff,#fafaff)"></i><i style="background:linear-gradient(90deg,#e2e2ff,#e2e2ff,#e2e2ff,#e3e3ff,#e4e4ff,#e5e5ff,#e6e6ff,#e7e7ff,#e9e9ff,#eaeaff,#ebebff,#ececff,#ededff,#ededff,#ededff,#ededff,#ececff,#eaeaff,#e8e8ff,#e6e6ff,#e3e3ff,#dfdfff,#dbdbff,#d7d7ff,#d2d2ff,#cdcdff,#c8c8ff,#c3c3ff,#bebeff,#babaff,#b5b5ff,#b1b1ff,#adadff,#ababff,#a8a8ff,#a7a7ff,#a6a6ff,#a7a7ff,#a8a8ff,#aaaaff,#adadff,#b0b0ff,#b4b4ff,#b9b9ff,#bebeff,#c3c3ff,#c8c8ff,#cdcdff,#d2d2ff,#d7d7ff,#dcdcff,#e1e1ff,#e5e5ff,#e8e8ff,#ebebff,#eeeeff,#f1f1ff,#f3f3ff,#f4f4ff,#f6f6ff,#f7f7ff,#f8f8ff,#f8f8ff,#f9f9ff,#fafaff,#fafaff,#fafaff)"></i><i style="background:linear-gradient(90deg,#e2e2ff,#e2e2ff,#e3e3ff,#e3e3ff,#e4e4ff,#e5e5ff,#e7e7ff,#e8e8ff,#e9e9ff,#eaeaff,#ececff,#ececff,#ededff,#ededff,#ededff,#ededff,#ececff,#eaeaff,#e8e8ff,#e6e6ff,#e3e3ff,#dfdfff,#dbdbff,#d7d7ff,#d3d3ff,#ceceff,#c9c9ff,#c4c4ff,#bfbfff,#babaff,#b6b6ff,#b2b2ff,#aeaeff,#ababff,#a9a9ff,#a8a8ff,#a8a8ff,#a8a8ff,#a9a9ff,#ababff,#aeaeff,#b1b1ff,#b6b6ff,#babaff,#bfbfff,#c4c4ff,#c9c9ff,#ceceff,#d4d4ff,#d8d8ff,#ddddff,#e1e1ff,#e5e5ff,#e9e9ff,#ececff,#efefff,#f1f1ff,#f3f3ff,#f5f5ff,#f6f6ff,#f7f7ff,#f8f8ff,#f9f9ff,#f9f9ff,#fafaff,#fafaff,#fbfbff)"></i><i style="background:linear-gradient(90deg,#e3e3ff,#e3e3ff,#e3e3ff,#e4e4ff,#e5e5ff,#e6e6ff,#e7e7ff,#e8e8ff,#eaeaff,#ebebff,#ececff,#ededff,#ededff,#eeeeff,#eeeeff,#ededff,#ececff,#ebebff,#e9e9ff,#e6e6ff,#e3e3ff,#e0e0ff,#dcdcff,#d7d7ff,#d3d3ff,#ceceff,#c9c9ff,#c4c4ff,#bfbfff,#bbbbff,#b6b6ff,#b2b2ff,#afafff,#acacff,#aaaaff,#a9a9ff,#a9a9ff,#a9a9ff,#ababff,#adadff,#afafff,#b3b3ff,#b7b7ff,#bbbbff,#c0c0ff,#c5c5ff,#cacaff,#d0d0ff,#d5d5ff,#d9d9ff,#dedeff,#e2e2ff,#e6e6ff,#eaeaff,#ededff,#efefff,#f2f2ff,#f4f4ff,#f5f5ff,#f7f7ff,#f8f8ff,#f9f9ff,#f9f9ff,#fafaff,#fafaff,#fbfbff,#fbfbff)"></i><i style="background:linear-gradient(90deg,#e4e4ff,#e4e4ff,#e4e4ff,#e5e5ff,#e5e5ff,#e6e6ff,#e8e8ff,#e9e9ff,#eaeaff,#ebebff,#ececff,#ededff,#eeeeff,#eeeeff,#eeeeff,#ededff,#ececff,#ebebff,#e9e9ff,#e6e6ff,#e3e3ff,#e0e0ff,#dcdcff,#d8d8ff,#d3d3ff,#ceceff,#cacaff,#c5c5ff,#c0c0ff,#bbbbff,#b7b7ff,#b3b3ff,#b0b0ff,#adadff,#ababff,#aaaaff,#aaaaff,#aaaaff,#acacff,#aeaeff,#b1b1ff,#b4b4ff,#b8b8ff,#bdbdff,#c1c1ff,#c6c6ff,#cbcbff,#d1d1ff,#d6d6ff,#dadaff,#dfdfff,#e3e3ff,#e7e7ff,#eaeaff,#ededff,#f0f0ff,#f2f2ff,#f4f4ff,#f6f6ff,#f7f7ff,#f8f8ff,#f9f9ff,#fafaff,#fafaff,#fafaff,#fbfbff,#fbfbff)"></i><i style="background:linear-gradient(90deg,#e4e4ff,#e4e4ff,#e5e5ff,#e5e5ff,#e6e6ff,#e7e7ff,#e8e8ff,#e9e9ff,#ebebff,#ececff,#ededff,#eeeeff,#eeeeff,#eeeeff,#eeeeff,#eeeeff,#ededff,#ebebff,#e9e9ff,#e6e6ff,#e3e3ff,#e0e0ff,#dcdcff,#d8d8ff,#d3d3ff,#cfcfff,#cacaff,#c5c5ff,#c0c0ff,#bcbcff,#b8b8ff,#b4b4ff,#b1b1ff,#aeaeff,#acacff,#ababff,#ababff,#acacff,#adadff,#afafff,#b2b2ff,#b5b5ff,#b9b9ff,#bebeff,#c3c3ff,#c8c8ff,#cdcdff,#d2d2ff,#d7d7ff,#dbdbff,#e0e0ff,#e4e4ff,#e8e8ff,#ebebff,#eeeeff,#f0f0ff,#f3f3ff,#f5f5ff,#f6f6ff,#f7f7ff,#f8f8ff,#f9f9ff,#fafaff,#fafaff,#fbfbff,#fbfbff,#fbfbff)"></i><i style="background:linear-gradient(90deg,#e5e5ff,#e5e5ff,#e5e5ff,#e6e6ff,#e7e7ff,#e8e8ff,#e9e9ff,#eaeaff,#ebebff,#ececff,#ededff,#eeeeff,#eeeeff,#efefff,#eeeeff,#eeeeff,#ededff,#ebebff,#e9e9ff,#e7e7ff,#e4e4ff,#e0e0ff,#dcdcff,#d8d8ff,#d4d4ff,#cfcfff,#cacaff,#c6c6ff,#c1c1ff,#bcbcff,#b8b8ff,#b5b5ff,#b2b2ff,#afafff,#adadff,#acacff,#acacff,#adadff,#aeaeff,#b0b0ff,#b3b3ff,#b7b7ff,#bbbbff,#bfbfff,#c4c4ff,#c9c9ff,#ceceff,#d3d3ff,#d8d8ff,#dcdcff,#e1e1ff,#e5e5ff,#e8e8ff,#ececff,#eeeeff,#f1f1ff,#f3f3ff,#f5f5ff,#f6f6ff,#f8f8ff,#f9f9ff,#fafaff,#fafaff,#fbfbff,#fbfbff,#fbfbff,#fcfcff)"></i><i style="background:linear-gradient(90deg,#e5e5ff,#e5e5ff,#e6e6ff,#e6e6ff,#e7e7ff,#e8e8ff,#e9e9ff,#eaeaff,#ebebff,#ededff,#eeeeff,#eeeeff,#efefff,#efefff,#efefff,#eeeeff,#ededff,#ebebff,#e9e9ff,#e7e7ff,#e4e4ff,#e0e0ff,#ddddff,#d8d8ff,#d4d4ff,#cfcfff,#cbcbff,#c6c6ff,#c1c1ff,#bdbdff,#b9b9ff,#b5b5ff,#b2b2ff,#b0b0ff,#aeaeff,#aeaeff,#adadff,#aeaeff,#b0b0ff,#b2b2ff,#b5b5ff,#b8b8ff,#bcbcff,#c0c0ff,#c5c5ff,#cacaff,#cfcfff,#d4d4ff,#d8d8ff,#ddddff,#e1e1ff,#e5e5ff,#e9e9ff,#ececff,#efefff,#f1f1ff,#f4f4ff,#f5f5ff,#f7f7ff,#f8f8ff,#f9f9ff,#fafaff,#fafaff,#fbfbff,#fbfbff,#fcfcff,#fcfcff)"></i><i style="background:linear-gradient(90deg,#e6e6ff,#e6e6ff,#e6e6ff,#e7e7ff,#e8e8ff,#e9e9ff,#eaeaff,#ebebff,#ececff,#ededff,#eeeeff,#efefff,#efefff,#efefff,#efefff,#eeeeff,#ededff,#ececff,#eaeaff,#e7e7ff,#e4e4ff,#e1e1ff,#ddddff,#d9d9ff,#d4d4ff,#d0d0ff,#cbcbff,#c6c6ff,#c2c2ff,#bebeff,#babaff,#b6b6ff,#b3b3ff,#b1b1ff,#afafff,#afafff,#afafff,#afafff,#b1b1ff,#b3b3ff,#b6b6ff,#b9b9ff,#bdbdff,#c2c2ff,#c6c6ff,#cbcbff,#d0d0ff,#d5d5ff,#d9d9ff,#dedeff,#e2e2ff,#e6e6ff,#eaeaff,#ededff,#f0f0ff,#f2f2ff,#f4f4ff,#f6f6ff,#f7f7ff,#f8f8ff,#f9f9ff,#fafaff,#fbfbff,#fbfbff,#fcfcff,#fcfcff,#fcfcff)"></i><i style="background:linear-gradient(90deg,#e7e7ff,#e7e7ff,#e7e7ff,#e7e7ff,#e8e8ff,#e9e9ff,#eaeaff,#ebebff,#ececff,#ededff,#eeeeff,#efefff,#efefff,#efefff,#efefff,#efefff,#ededff,#ececff,#eaeaff,#e7e7ff,#e4e4ff,#e1e1ff,#ddddff,#d9d9ff,#d5d5ff,#d0d0ff,#cbcbff,#c7c7ff,#c2c2ff,#bebeff,#babaff,#b7b7ff,#b4b4ff,#b2b2ff,#b0b0ff,#b0b0ff,#b0b0ff,#b1b1ff,#b2b2ff,#b4b4ff,#b7b7ff,#bbbbff,#bfbfff,#c3c3ff,#c8c8ff,#ccccff,#d1d1ff,#d6d6ff,#dadaff,#dfdfff,#e3e3ff,#e7e7ff,#eaeaff,#ededff,#f0f0ff,#f2f2ff,#f4f4ff,#f6f6ff,#f8f8ff,#f9f9ff,#fafaff,#fafaff,#fbfbff,#fbfbff,#fcfcff,#fcfcff,#fcfcff)"></i><i style="background:linear-gradient(90deg,#e7e7ff,#e7e7ff,#e7e7ff,#e8e8ff,#e9e9ff,#eaeaff,#ebebff,#ececff,#ededff,#eeeeff,#efefff,#efefff,#f0f0ff,#f0f0ff,#efefff,#efefff,#eeeeff,#ececff,#eaeaff,#e7e7ff,#e4e4ff,#e1e1ff,#ddddff,#d9d9ff,#d5d5ff,#d0d0ff,#ccccff,#c7c7ff,#c3c3ff,#bfbfff,#bbbbff,#b8b8ff,#b5b5ff,#b3b3ff,#b1b1ff,#b1b1ff,#b1b1ff,#b2b2ff,#b3b3ff,#b6b6ff,#b8b8ff,#bcbcff,#c0c0ff,#c4c4ff,#c9c9ff,#cdcdff,#d2d2ff,#d7d7ff,#dbdbff,#e0e0ff,#e4e4ff,#e7e7ff,#ebebff,#eeeeff,#f1f1ff,#f3f3ff,#f5f5ff,#f7f7ff,#f8f8ff,#f9f9ff,#fafaff,#fbfbff,#fbfbff,#fcfcff,#fcfcff,#fcfcff,#fdfdff)"></i><i style="background:linear-gradient(90deg,#e8e8ff,#e8e8ff,#e8e8ff,#e9e9ff,#e9e9ff,#eaeaff,#ebebff,#ececff,#ededff,#eeeeff,#efefff,#f0f0ff,#f0f0ff,#f0f0ff,#f0f0ff,#efefff,#eeeeff,#ececff,#eaeaff,#e8e8ff,#e5e5ff,#e1e1ff,#dedeff,#d9d9ff,#d5d5ff,#d1d1ff,#ccccff,#c8c8ff,#c3c3ff,#bfbfff,#bcbcff,#b9b9ff,#b6b6ff,#b4b4ff,#b2b2ff,#b2b2ff,#b2b2ff,#b3b3ff,#b5b5ff,#b7b7ff,#babaff,#bdbdff,#c1c1ff,#c5c5ff,#cacaff,#ceceff,#d3d3ff,#d8d8ff,#dcdcff,#e0e0ff,#e4e4ff,#e8e8ff,#ebebff,#eeeeff,#f1f1ff,#f3f3ff,#f5f5ff,#f7f7ff,#f8f8ff,#f9f9ff,#fafaff,#fbfbff,#fcfcff,#fcfcff,#fcfcff,#fdfdff,#fdfdff)"></i><i style="background:linear-gradient(90deg,#e8e8ff,#e8e8ff,#e9e9ff,#e9e9ff,#eaeaff,#ebebff,#ececff,#ededff,#eeeeff,#efefff,#efefff,#f0f0ff,#f0f0ff,#f0f0ff,#f0f0ff,#efefff,#eeeeff,#ececff,#eaeaff,#e8e8ff,#e5e5ff,#e1e1ff,#dedeff,#dadaff,#d5d5ff,#d1d1ff,#cdcdff,#c8c8ff,#c4c4ff,#c0c0ff,#bcbcff,#b9b9ff,#b7b7ff,#b5b5ff,#b4b4ff,#b3b3ff,#b3b3ff,#b4b4ff,#b6b6ff,#b8b8ff,#bbbbff,#bebeff,#c2c2ff,#c7c7ff,#cbcbff,#d0d0ff,#d4d4ff,#d9d9ff,#ddddff,#e1e1ff,#e5e5ff,#e9e9ff,#ececff,#efefff,#f2f2ff,#f4f4ff,#f6f6ff,#f7f7ff,#f9f9ff,#fafaff,#fbfbff,#fbfbff,#fcfcff,#fcfcff,#fdfdff,#fdfdff,#fdfdff)"></i><i style="background:linear-gradient(90deg,#e9e9ff,#e9e9ff,#e9e9ff,#eaeaff,#eaeaff,#ebebff,#ececff,#ededff,#eeeeff,#efefff,#f0f0ff,#f0f0ff,#f1f1ff,#f1f1ff,#f0f0ff,#efefff,#eeeeff,#ededff,#ebebff,#e8e8ff,#e5e5ff,#e2e2ff,#dedeff,#dadaff,#d6d6ff,#d1d1ff,#cdcdff,#c9c9ff,#c5c5ff,#c1c1ff,#bdbdff,#babaff,#b8b8ff,#b6b6ff,#b5b5ff,#b4b4ff,#b4b4ff,#b5b5ff,#b7b7ff,#b9b9ff,#bcbcff,#c0c0ff,#c4c4ff,#c8c8ff,#ccccff,#d1d1ff,#d5d5ff,#dadaff,#dedeff,#e2e2ff,#e6e6ff,#e9e9ff,#ededff,#f0f0ff,#f2f2ff,#f4f4ff,#f6f6ff,#f8f8ff,#f9f9ff,#fafaff,#fbfbff,#fbfbff,#fcfcff,#fcfcff,#fdfdff,#fdfdff,#fdfdff)"></i><i style="background:linear-gradient(90deg,#eaeaff,#eaeaff,#eaeaff,#eaeaff,#ebebff,#ececff,#ededff,#eeeeff,#efefff,#efefff,#f0f0ff,#f1f1ff,#f1f1ff,#f1f1ff,#f1f1ff,#f0f0ff,#efefff,#ededff,#ebebff,#e8e8ff,#e5e5ff,#e2e2ff,#dedeff,#dadaff,#d6d6ff,#d2d2ff,#cdcdff,#c9c9ff,#c5c5ff,#c1c1ff,#bebeff,#bbbbff,#b8b8ff,#b7b7ff,#b6b6ff,#b5b5ff,#b5b5ff,#b6b6ff,#b8b8ff,#bbbbff,#bdbdff,#c1c1ff,#c5c5ff,#c9c9ff,#cdcdff,#d2d2ff,#d6d6ff,#dbdbff,#dfdfff,#e3e3ff,#e7e7ff,#eaeaff,#ededff,#f0f0ff,#f2f2ff,#f5f5ff,#f6f6ff,#f8f8ff,#f9f9ff,#fafaff,#fbfbff,#fcfcff,#fcfcff,#fdfdff,#fdfdff,#fdfdff,#fdfdff)"></i><i style="background:linear-gradient(90deg,#eaeaff,#eaeaff,#eaeaff,#ebebff,#ececff,#ececff,#ededff,#eeeeff,#efefff,#f0f0ff,#f1f1ff,#f1f1ff,#f1f1ff,#f1f1ff,#f1f1ff,#f0f0ff,#efefff,#ededff,#ebebff,#e8e8ff,#e5e5ff,#e2e2ff,#dedeff,#dbdbff,#d6d6ff,#d2d2ff,#ceceff,#cacaff,#c6c6ff,#c2c2ff,#bfbfff,#bcbcff,#b9b9ff,#b8b8ff,#b7b7ff,#b6b6ff,#b7b7ff,#b8b8ff,#b9b9ff,#bcbcff,#bfbfff,#c2c2ff,#c6c6ff,#cacaff,#ceceff,#d3d3ff,#d7d7ff,#dcdcff,#e0e0ff,#e4e4ff,#e7e7ff,#ebebff,#eeeeff,#f1f1ff,#f3f3ff,#f5f5ff,#f7f7ff,#f8f8ff,#f9f9ff,#fafaff,#fbfbff,#fcfcff,#fcfcff,#fdfdff,#fdfdff,#fdfdff,#fefeff)"></i><i style="background:linear-gradient(90deg,#ebebff,#ebebff,#ebebff,#ebebff,#ececff,#ededff,#eeeeff,#efefff,#efefff,#f0f0ff,#f1f1ff,#f1f1ff,#f2f2ff,#f1f1ff,#f1f1ff,#f0f0ff,#efefff,#ededff,#ebebff,#e9e9ff,#e6e6ff,#e2e2ff,#dfdfff,#dbdbff,#d7d7ff,#d3d3ff,#ceceff,#cacaff,#c6c6ff,#c2c2ff,#bfbfff,#bcbcff,#babaff,#b8b8ff,#b8b8ff,#b7b7ff,#b8b8ff,#b9b9ff,#bbbbff,#bdbdff,#c0c0ff,#c3c3ff,#c7c7ff,#cbcbff,#cfcfff,#d4d4ff,#d8d8ff,#dcdcff,#e1e1ff,#e4e4ff,#e8e8ff,#ebebff,#eeeeff,#f1f1ff,#f3f3ff,#f5f5ff,#f7f7ff,#f9f9ff,#fafaff,#fbfbff,#fcfcff,#fcfcff,#fdfdff,#fdfdff,#fdfdff,#fefeff,#fefeff)"></i><i style="background:linear-gradient(90deg,#ebebff,#ebebff,#ececff,#ececff,#ededff,#ededff,#eeeeff,#efefff,#f0f0ff,#f1f1ff,#f1f1ff,#f2f2ff,#f2f2ff,#f2f2ff,#f1f1ff,#f0f0ff,#efefff,#ededff,#ebebff,#e9e9ff,#e6e6ff,#e3e3ff,#dfdfff,#dbdbff,#d7d7ff,#d3d3ff,#cfcfff,#cbcbff,#c7c7ff,#c3c3ff,#c0c0ff,#bdbdff,#bbbbff,#b9b9ff,#b9b9ff,#b8b8ff,#b9b9ff,#babaff,#bcbcff,#bebeff,#c1c1ff,#c5c5ff,#c8c8ff,#ccccff,#d1d1ff,#d5d5ff,#d9d9ff,#ddddff,#e1e1ff,#e5e5ff,#e9e9ff,#ececff,#efefff,#f2f2ff,#f4f4ff,#f6f6ff,#f7f7ff,#f9f9ff,#fafaff,#fbfbff,#fcfcff,#fcfcff,#fdfdff,#fdfdff,#fefeff,#fefeff,#fefeff)"></i><i style="background:linear-gradient(90deg,#ececff,#ececff,#ececff,#ededff,#ededff,#eeeeff,#efefff,#f0f0ff,#f0f0ff,#f1f1ff,#f2f2ff,#f2f2ff,#f2f2ff,#f2f2ff,#f1f1ff,#f1f1ff,#efefff,#eeeeff,#ececff,#e9e9ff,#e6e6ff,#e3e3ff,#dfdfff,#dbdbff,#d7d7ff,#d3d3ff,#cfcfff,#cbcbff,#c7c7ff,#c4c4ff,#c1c1ff,#bebeff,#bcbcff,#babaff,#babaff,#b9b9ff,#babaff,#bbbbff,#bdbdff,#bfbfff,#c2c2ff,#c6c6ff,#c9c9ff,#cdcdff,#d2d2ff,#d6d6ff,#dadaff,#dedeff,#e2e2ff,#e6e6ff,#e9e9ff,#ededff,#efefff,#f2f2ff,#f4f4ff,#f6f6ff,#f8f8ff,#f9f9ff,#fafaff,#fbfbff,#fcfcff,#fdfdff,#fdfdff,#fdfdff,#fefeff,#fefeff,#fefeff)"></i><i style="background:linear-gradient(90deg,#ececff,#ededff,#ededff,#ededff,#eeeeff,#eeeeff,#efefff,#f0f0ff,#f1f1ff,#f1f1ff,#f2f2ff,#f2f2ff,#f2f2ff,#f2f2ff,#f2f2ff,#f1f1ff,#f0f0ff,#eeeeff,#ececff,#e9e9ff,#e6e6ff,#e3e3ff,#dfdfff,#dcdcff,#d8d8ff,#d4d4ff,#d0d0ff,#ccccff,#c8c8ff,#c4c4ff,#c1c1ff,#bfbfff,#bdbdff,#bbbbff,#bbbbff,#babaff,#bbbbff,#bcbcff,#bebeff,#c1c1ff,#c4c4ff,#c7c7ff,#cbcbff,#cfcfff,#d3d3ff,#d7d7ff,#dbdbff,#dfdfff,#e3e3ff,#e7e7ff,#eaeaff,#ededff,#f0f0ff,#f2f2ff,#f5f5ff,#f6f6ff,#f8f8ff,#f9f9ff,#fbfbff,#fbfbff,#fcfcff,#fdfdff,#fdfdff,#fefeff,#fefeff,#fefeff,#fefeff)"></i><i style="background:linear-gradient(90deg,#ededff,#ededff,#ededff,#eeeeff,#eeeeff,#efefff,#f0f0ff,#f0f0ff,#f1f1ff,#f2f2ff,#f2f2ff,#f3f3ff,#f3f3ff,#f3f3ff,#f2f2ff,#f1f1ff,#f0f0ff,#eeeeff,#ececff,#e9e9ff,#e7e7ff,#e3e3ff,#e0e0ff,#dcdcff,#d8d8ff,#d4d4ff,#d0d0ff,#ccccff,#c8c8ff,#c5c5ff,#c2c2ff,#c0c0ff,#bebeff,#bcbcff,#bcbcff,#bbbbff,#bcbcff,#bdbdff,#bfbfff,#c2c2ff,#c5c5ff,#c8c8ff,#ccccff,#d0d0ff,#d4d4ff,#d8d8ff,#dcdcff,#e0e0ff,#e4e4ff,#e7e7ff,#ebebff,#eeeeff,#f0f0ff,#f3f3ff,#f5f5ff,#f7f7ff,#f8f8ff,#fafaff,#fbfbff,#fcfcff,#fcfcff,#fdfdff,#fdfdff,#fefeff,#fefeff,#fefeff,#fefeff)"></i><i style="background:linear-gradient(90deg,#eeeeff,#eeeeff,#eeeeff,#eeeeff,#efefff,#efefff,#f0f0ff,#f1f1ff,#f2f2ff,#f2f2ff,#f3f3ff,#f3f3ff,#f3f3ff,#f3f3ff,#f2f2ff,#f1f1ff,#f0f0ff,#eeeeff,#ececff,#eaeaff,#e7e7ff,#e4e4ff,#e0e0ff,#dcdcff,#d8d8ff,#d4d4ff,#d0d0ff,#cdcdff,#c9c9ff,#c6c6ff,#c3c3ff,#c0c0ff,#bebeff,#bdbdff,#bdbdff,#bdbdff,#bdbdff,#bfbfff,#c0c0ff,#c3c3ff,#c6c6ff,#c9c9ff,#cdcdff,#d1d1ff,#d5d5ff,#d9d9ff,#ddddff,#e1e1ff,#e4e4ff,#e8e8ff,#ebebff,#eeeeff,#f1f1ff,#f3f3ff,#f5f5ff,#f7f7ff,#f9f9ff,#fafaff,#fbfbff,#fcfcff,#fdfdff,#fdfdff,#fefeff,#fefeff,#fefeff,#fefeff,#ffffff)"></i><i style="background:linear-gradient(90deg,#eeeeff,#eeeeff,#eeeeff,#efefff,#efefff,#f0f0ff,#f1f1ff,#f1f1ff,#f2f2ff,#f3f3ff,#f3f3ff,#f3f3ff,#f3f3ff,#f3f3ff,#f2f2ff,#f2f2ff,#f0f0ff,#eeeeff,#ececff,#eaeaff,#e7e7ff,#e4e4ff,#e0e0ff,#ddddff,#d9d9ff,#d5d5ff,#d1d1ff,#cdcdff,#cacaff,#c6c6ff,#c4c4ff,#c1c1ff,#bfbfff,#bebeff,#bebeff,#bebeff,#bebeff,#c0c0ff,#c2c2ff,#c4c4ff,#c7c7ff,#cacaff,#ceceff,#d2d2ff,#d6d6ff,#dadaff,#dedeff,#e2e2ff,#e5e5ff,#e9e9ff,#ececff,#efefff,#f1f1ff,#f4f4ff,#f6f6ff,#f8f8ff,#f9f9ff,#fafaff,#fbfbff,#fcfcff,#fdfdff,#fdfdff,#fefeff,#fefeff,#fefeff,#fefeff,#ffffff)"></i><i style="background:linear-gradient(90deg,#efefff,#efefff,#efefff,#efefff,#f0f0ff,#f0f0ff,#f1f1ff,#f2f2ff,#f2f2ff,#f3f3ff,#f3f3ff,#f4f4ff,#f4f4ff,#f3f3ff,#f3f3ff,#f2f2ff,#f0f0ff,#efefff,#ededff,#eaeaff,#e7e7ff,#e4e4ff,#e1e1ff,#ddddff,#d9d9ff,#d5d5ff,#d1d1ff,#ceceff,#cacaff,#c7c7ff,#c4c4ff,#c2c2ff,#c0c0ff,#bfbfff,#bfbfff,#bfbfff,#bfbfff,#c1c1ff,#c3c3ff,#c5c5ff,#c8c8ff,#cbcbff,#cfcfff,#d3d3ff,#d7d7ff,#dbdbff,#dfdfff,#e2e2ff,#e6e6ff,#e9e9ff,#ececff,#efefff,#f2f2ff,#f4f4ff,#f6f6ff,#f8f8ff,#f9f9ff,#fafaff,#fbfbff,#fcfcff,#fdfdff,#fdfdff,#fefeff,#fefeff,#fefeff,#ffffff,#ffffff)"></i><i style="background:linear-gradient(90deg,#efefff,#efefff,#f0f0ff,#f0f0ff,#f0f0ff,#f1f1ff,#f2f2ff,#f2f2ff,#f3f3ff,#f3f3ff,#f4f4ff,#f4f4ff,#f4f4ff,#f4f4ff,#f3f3ff,#f2f2ff,#f1f1ff,#efefff,#ededff,#eaeaff,#e7e7ff,#e4e4ff,#e1e1ff,#ddddff,#d9d9ff,#d6d6ff,#d2d2ff,#ceceff,#cbcbff,#c8c8ff,#c5c5ff,#c3c3ff,#c1c1ff,#c0c0ff,#c0c0ff,#c0c0ff,#c0c0ff,#c2c2ff,#c4c4ff,#c6c6ff,#c9c9ff,#cdcdff,#d0d0ff,#d4d4ff,#d8d8ff,#dcdcff,#dfdfff,#e3e3ff,#e7e7ff,#eaeaff,#ededff,#f0f0ff,#f2f2ff,#f5f5ff,#f6f6ff,#f8f8ff,#fafaff,#fbfbff,#fcfcff,#fcfcff,#fdfdff,#fefeff,#fefeff,#fefeff,#ffffff,#ffffff,#ffffff)"></i><i style="background:linear-gradient(90deg,#f0f0ff,#f0f0ff,#f0f0ff,#f0f0ff,#f1f1ff,#f1f1ff,#f2f2ff,#f3f3ff,#f3f3ff,#f4f4ff,#f4f4ff,#f4f4ff,#f4f4ff,#f4f4ff,#f3f3ff,#f2f2ff,#f1f1ff,#efefff,#ededff,#ebebff,#e8e8ff,#e5e5ff,#e1e1ff,#dedeff,#dadaff,#d6d6ff,#d2d2ff,#cfcfff,#cbcbff,#c8c8ff,#c6c6ff,#c4c4ff,#c2c2ff,#c1c1ff,#c1c1ff,#c1c1ff,#c2c2ff,#c3c3ff,#c5c5ff,#c7c7ff,#cacaff,#ceceff,#d1d1ff,#d5d5ff,#d9d9ff,#dcdcff,#e0e0ff,#e4e4ff,#e7e7ff,#ebebff,#eeeeff,#f0f0ff,#f3f3ff,#f5f5ff,#f7f7ff,#f8f8ff,#fafaff,#fbfbff,#fcfcff,#fdfdff,#fdfdff,#fefeff,#fefeff,#fefeff,#ffffff,#ffffff,#ffffff)"></i></div>
<svg width="1280" height="1280" viewBox="0 0 1280 1280">
<g id="p1">
<clipPath id="c1"><rect x="59.76" y="47.81" width="532.43" height="532.43"/></clipPath>
<path d="M291.4 88.96h0M85.4 88.96h0M101.55 88.96h0M107.5 88.96h0M109.4 88.96h0M112.3 88.96h0M113.2 88.96h0M124.3 88.96h0M129.1 88.96h0M135.05 88.96h0M151.9 88.96h0M162 88.96h0M185.9 88.96h0M199.85 88.96h0M214.75 88.96h0M251.05 88.96h0M259 88.96h0M259.4 88.96h0M288.75 88.96h0M291.4 88.96h0M405.5 88.96h0M456.4 88.96h0M551.51 88.96h0M355.2 67.53h0M92 228.29h0M279 260.44h0M149 314.02h0M236.23 314.02h0M371 314.02h0M455.5 303.31h0M275 335.46h0M429 335.46h0M572.47 367.61h0M371 399.76h0M376.5 421.2h0M79.48 464.07h0M360 474.78h0M312 560.52h0" stroke="#000" stroke-width="1.5" fill="none" stroke-linecap="square"/>
<line clip-path="url(#c1)" x1="236.23" x2="236.23" y1="580.24" y2="47.81" stroke="#006400" stroke-width="2.25" stroke-dasharray="9 9" stroke-linecap="round"/>
<line clip-path="url(#c1)" x1="507.86" x2="507.86" y1="580.24" y2="47.81" stroke="#006400" stroke-width="2.25" stroke-dasharray="9 9" stroke-linecap="round"/>
<line clip-path="url(#c1)" x1="59.76" x2="592.19" y1="367.61" y2="367.61" stroke="#CD2626" stroke-width="2.25" stroke-dasharray="9 9" stroke-linecap="round"/>
<rect x="59.76" y="47.81" width="532.43" height="532.43" fill="none" stroke="#000" stroke-width="0.75"/>
<path d="M132.73 580.24H491.7M132.73 580.24v5.98M252.39 580.24v5.98M372.04 580.24v5.98M491.7 580.24v5.98M59.76 506.93V78.24M59.76 506.93h-5.98M59.76 399.76h-5.98M59.76 292.59h-5.98M59.76 185.42h-5.98M59.76 78.24h-5.98" fill="none" stroke="#000" stroke-width="0.75" stroke-linecap="round"/>
<text x="132.93" y="602.04" class="t"><tspan class="h">-</tspan>400</text>
<text x="252.59" y="602.04" class="t"><tspan class="h">-</tspan>200</text>
<text x="372.24" y="602.04" class="t">0</text>
<text x="491.9" y="602.04" class="t">200</text>
<text transform="translate(45.26 507.13) rotate(-90)" class="t">94</text>
<text transform="translate(45.26 399.96) rotate(-90)" class="t">95</text>
<text transform="translate(45.26 292.79) rotate(-90)" class="t">96</text>
<text transform="translate(45.26 185.62) rotate(-90)" class="t">97</text>
<text transform="translate(45.26 78.44) rotate(-90)" class="t">98</text>
<text x="323.18" y="31.6" class="m">Top hit for each peak</text>
<text x="325.98" y="626" class="l">Distance to peak summit</text>
<text transform="translate(22 314.32) rotate(-90)" class="l">Motif score</text>
</g>
<g id="p2">
<clipPath id="c2"><rect x="699.76" y="47.81" width="532.43" height="532.43"/></clipPath>
<line x1="851.5" x2="851.5" y1="47.81" y2="580.24" stroke="#fff" stroke-width="1"/>
<line x1="1048.5" x2="1048.5" y1="47.81" y2="580.24" stroke="#fff" stroke-width="1"/>
<line clip-path="url(#c2)" x1="869.05" x2="869.05" y1="580.24" y2="47.81" stroke="#006400" stroke-width="1.5" stroke-dasharray="6 6" stroke-linecap="round"/>
<line clip-path="url(#c2)" x1="1162.41" x2="1162.41" y1="580.24" y2="47.81" stroke="#006400" stroke-width="1.5" stroke-dasharray="6 6" stroke-linecap="round"/>
<line clip-path="url(#c2)" x1="699.76" x2="1232.19" y1="371.9" y2="371.9" stroke="#CD2626" stroke-width="1.5" stroke-dasharray="6 6" stroke-linecap="round"/>
<rect x="699.76" y="47.81" width="532.43" height="532.43" fill="none" stroke="#000" stroke-width="0.75"/>
<path d="M757.27 580.24H1144.96M757.27 580.24v5.98M886.5 580.24v5.98M1015.73 580.24v5.98M1144.96 580.24v5.98M699.76 522.37V59.38M699.76 522.37h-5.98M699.76 406.62h-5.98M699.76 290.87h-5.98M699.76 175.13h-5.98M699.76 59.38h-5.98" fill="none" stroke="#000" stroke-width="0.75" stroke-linecap="round"/>
<text x="757.47" y="602.04" class="t"><tspan class="h">-</tspan>400</text>
<text x="886.7" y="602.04" class="t"><tspan class="h">-</tspan>200</text>
<text x="1015.93" y="602.04" class="t">0</text>
<text x="1145.16" y="602.04" class="t">200</text>
<text transform="translate(685.26 522.57) rotate(-90)" class="t">94</text>
<text transform="translate(685.26 406.82) rotate(-90)" class="t">95</text>
<text transform="translate(685.26 291.07) rotate(-90)" class="t">96</text>
<text transform="translate(685.26 175.33) rotate(-90)" class="t">97</text>
<text transform="translate(685.26 59.58) rotate(-90)" class="t">98</text>
<text x="965.98" y="31.6" class="m">Density heat map for the top hits</text>
<text x="965.98" y="626" class="l">Distance to peak summit</text>
<text transform="translate(662 314.32) rotate(-90)" class="l">Motif score</text>
</g>
<g id="p3">
<clipPath id="c3"><rect x="59.76" y="687.81" width="532.43" height="532.43"/></clipPath>
<polygon points="79.48,1200.52 79.48,1200.29 80.44,1200.27 81.41,1200.25 82.37,1200.23 83.34,1200.2 84.3,1200.18 85.27,1200.15 86.23,1200.12 87.2,1200.09 88.16,1200.06 89.13,1200.02 90.09,1199.98 91.06,1199.94 92.02,1199.9 92.99,1199.85 93.95,1199.8 94.92,1199.75 95.88,1199.69 96.85,1199.63 97.81,1199.57 98.77,1199.5 99.74,1199.43 100.7,1199.36 101.67,1199.28 102.63,1199.2 103.6,1199.11 104.56,1199.02 105.53,1198.92 106.49,1198.82 107.46,1198.71 108.42,1198.6 109.39,1198.48 110.35,1198.35 111.32,1198.22 112.28,1198.08 113.25,1197.94 114.21,1197.79 115.18,1197.63 116.14,1197.47 117.11,1197.3 118.07,1197.12 119.03,1196.93 120,1196.74 120.96,1196.53 121.93,1196.32 122.89,1196.11 123.86,1195.88 124.82,1195.64 125.79,1195.4 126.75,1195.15 127.72,1194.89 128.68,1194.62 129.65,1194.34 130.61,1194.05 131.58,1193.75 132.54,1193.45 133.51,1193.13 134.47,1192.8 135.44,1192.47 136.4,1192.13 137.37,1191.77 138.33,1191.41 139.29,1191.03 140.26,1190.65 141.22,1190.26 142.19,1189.86 143.15,1189.45 144.12,1189.03 145.08,1188.6 146.05,1188.16 147.01,1187.71 147.98,1187.25 148.94,1186.78 149.91,1186.31 150.87,1185.82 151.84,1185.33 152.8,1184.83 153.77,1184.32 154.73,1183.8 155.7,1183.27 156.66,1182.74 157.63,1182.19 158.59,1181.64 159.55,1181.08 160.52,1180.52 161.48,1179.94 162.45,1179.36 163.41,1178.77 164.38,1178.18 165.34,1177.57 166.31,1176.96 167.27,1176.35 168.24,1175.72 169.2,1175.09 170.17,1174.45 171.13,1173.81 172.1,1173.16 173.06,1172.5 174.03,1171.84 174.99,1171.17 175.96,1170.49 176.92,1169.81 177.89,1169.12 178.85,1168.42 179.81,1167.72 180.78,1167.01 181.74,1166.3 182.71,1165.58 183.67,1164.85 184.64,1164.12 185.6,1163.38 186.57,1162.63 187.53,1161.87 188.5,1161.11 189.46,1160.35 190.43,1159.57 191.39,1158.79 192.36,1158 193.32,1157.2 194.29,1156.4 195.25,1155.59 196.22,1154.77 197.18,1153.95 198.15,1153.12 199.11,1152.28 200.07,1151.43 201.04,1150.57 202,1149.71 202.97,1148.84 203.93,1147.96 204.9,1147.08 205.86,1146.19 206.83,1145.29 207.79,1144.38 208.76,1143.46 209.72,1142.54 210.69,1141.61 211.65,1140.67 212.62,1139.72 213.58,1138.77 214.55,1137.81 215.51,1136.84 216.48,1135.87 217.44,1134.89 218.41,1133.9 219.37,1132.9 220.33,1131.9 221.3,1130.9 222.26,1129.88 223.23,1128.86 224.19,1127.83 225.16,1126.8 226.12,1125.76 227.09,1124.72 228.05,1123.67 229.02,1122.61 229.98,1121.55 230.95,1120.48 231.91,1119.41 232.88,1118.33 233.84,1117.25 234.81,1116.16 235.77,1115.07 236.74,1113.97 237.7,1112.87 238.67,1111.76 239.63,1110.64 240.59,1109.52 241.56,1108.4 242.52,1107.26 243.49,1106.13 244.45,1104.99 245.42,1103.84 246.38,1102.68 247.35,1101.52 248.31,1100.36 249.28,1099.19 250.24,1098.01 251.21,1096.82 252.17,1095.63 253.14,1094.43 254.1,1093.23 255.07,1092.02 256.03,1090.8 257,1089.57 257.96,1088.34 258.93,1087.1 259.89,1085.85 260.85,1084.6 261.82,1083.34 262.78,1082.07 263.75,1080.79 264.71,1079.51 265.68,1078.22 266.64,1076.93 267.61,1075.63 268.57,1074.32 269.54,1073.01 270.5,1071.7 271.47,1070.38 272.43,1069.05 273.4,1067.73 274.36,1066.4 275.33,1065.07 276.29,1063.74 277.26,1062.4 278.22,1061.07 279.19,1059.74 280.15,1058.42 281.11,1057.1 282.08,1055.78 283.04,1054.47 284.01,1053.17 284.97,1051.88 285.94,1050.59 286.9,1049.32 287.87,1048.07 288.83,1046.83 289.8,1045.6 290.76,1044.39 291.73,1043.21 292.69,1042.05 293.66,1040.91 294.62,1039.79 295.59,1038.7 296.55,1037.65 297.52,1036.62 298.48,1035.63 299.45,1034.67 300.41,1033.74 301.37,1032.86 302.34,1032.01 303.3,1031.21 304.27,1030.45 305.23,1029.74 306.2,1029.07 307.16,1028.45 308.13,1027.88 309.09,1027.36 310.06,1026.9 311.02,1026.49 311.99,1026.13 312.95,1025.83 313.92,1025.59 314.88,1025.41 315.85,1025.28 316.81,1025.21 317.78,1025.21 318.74,1025.26 319.71,1025.38 320.67,1025.56 321.63,1025.79 322.6,1026.09 323.56,1026.45 324.53,1026.87 325.49,1027.35 326.46,1027.89 327.42,1028.49 328.39,1029.14 329.35,1029.85 330.32,1030.62 331.28,1031.44 332.25,1032.31 333.21,1033.23 334.18,1034.2 335.14,1035.21 336.11,1036.27 337.07,1037.37 338.04,1038.51 339,1039.69 339.97,1040.9 340.93,1042.14 341.89,1043.41 342.86,1044.7 343.82,1046.01 344.79,1047.34 345.75,1048.68 346.72,1050.04 347.68,1051.4 348.65,1052.76 349.61,1054.12 350.58,1055.47 351.54,1056.81 352.51,1058.14 353.47,1059.44 354.44,1060.72 355.4,1061.98 356.37,1063.19 357.33,1064.37 358.3,1065.51 359.26,1066.6 360.22,1067.63 361.19,1068.6 362.15,1069.51 363.12,1070.35 364.08,1071.12 365.05,1071.8 366.01,1072.4 366.98,1072.91 367.94,1073.32 368.91,1073.63 369.87,1073.84 370.84,1073.93 371.8,1073.91 372.77,1073.76 373.73,1073.49 374.7,1073.09 375.66,1072.55 376.63,1071.87 377.59,1071.04 378.56,1070.06 379.52,1068.93 380.48,1067.63 381.45,1066.18 382.41,1064.56 383.38,1062.77 384.34,1060.8 385.31,1058.66 386.27,1056.34 387.24,1053.84 388.2,1051.15 389.17,1048.28 390.13,1045.22 391.1,1041.98 392.06,1038.54 393.03,1034.92 393.99,1031.1 394.96,1027.1 395.92,1022.9 396.89,1018.53 397.85,1013.96 398.82,1009.21 399.78,1004.28 400.74,999.18 401.71,993.9 402.67,988.45 403.64,982.83 404.6,977.06 405.57,971.13 406.53,965.05 407.5,958.83 408.46,952.48 409.43,946 410.39,939.4 411.36,932.69 412.32,925.88 413.29,918.98 414.25,911.99 415.22,904.94 416.18,897.83 417.15,890.67 418.11,883.47 419.08,876.24 420.04,869.01 421,861.77 421.97,854.55 422.93,847.35 423.9,840.19 424.86,833.08 425.83,826.04 426.79,819.08 427.76,812.22 428.72,805.46 429.69,798.82 430.65,792.32 431.62,785.97 432.58,779.78 433.55,773.77 434.51,767.94 435.48,762.32 436.44,756.91 437.41,751.72 438.37,746.77 439.34,742.08 440.3,737.64 441.26,733.47 442.23,729.59 443.19,725.99 444.16,722.69 445.12,719.7 446.09,717.02 447.05,714.66 448.02,712.63 448.98,710.93 449.95,709.57 450.91,708.54 451.88,707.86 452.84,707.53 453.81,707.54 454.77,707.9 455.74,708.61 456.7,709.66 457.67,711.06 458.63,712.81 459.6,714.89 460.56,717.31 461.52,720.06 462.49,723.13 463.45,726.52 464.42,730.23 465.38,734.24 466.35,738.55 467.31,743.15 468.28,748.03 469.24,753.17 470.21,758.58 471.17,764.23 472.14,770.13 473.1,776.25 474.07,782.58 475.03,789.12 476,795.84 476.96,802.74 477.93,809.81 478.89,817.03 479.86,824.39 480.82,831.87 481.78,839.47 482.75,847.16 483.71,854.94 484.68,862.79 485.64,870.71 486.61,878.67 487.57,886.66 488.54,894.68 489.5,902.71 490.47,910.74 491.43,918.76 492.4,926.75 493.36,934.71 494.33,942.63 495.29,950.49 496.26,958.28 497.22,966.01 498.19,973.65 499.15,981.2 500.12,988.65 501.08,996 502.04,1003.24 503.01,1010.35 503.97,1017.35 504.94,1024.21 505.9,1030.94 506.87,1037.54 507.83,1043.98 508.8,1050.29 509.76,1056.44 510.73,1062.44 511.69,1068.29 512.66,1073.98 513.62,1079.52 514.59,1084.89 515.55,1090.11 516.52,1095.17 517.48,1100.07 518.45,1104.81 519.41,1109.39 520.38,1113.82 521.34,1118.09 522.3,1122.2 523.27,1126.17 524.23,1129.99 525.2,1133.65 526.16,1137.18 527.13,1140.56 528.09,1143.8 529.06,1146.91 530.02,1149.88 530.99,1152.72 531.95,1155.44 532.92,1158.03 533.88,1160.5 534.85,1162.86 535.81,1165.1 536.78,1167.23 537.74,1169.26 538.71,1171.18 539.67,1173.01 540.64,1174.74 541.6,1176.38 542.56,1177.93 543.53,1179.4 544.49,1180.79 545.46,1182.09 546.42,1183.33 547.39,1184.49 548.35,1185.59 549.32,1186.62 550.28,1187.59 551.25,1188.5 552.21,1189.35 553.18,1190.15 554.14,1190.9 555.11,1191.6 556.07,1192.26 557.04,1192.88 558,1193.45 558.97,1193.98 559.93,1194.48 560.9,1194.95 561.86,1195.38 562.82,1195.78 563.79,1196.16 564.75,1196.51 565.72,1196.83 566.68,1197.13 567.65,1197.41 568.61,1197.66 569.58,1197.9 570.54,1198.12 571.51,1198.32 572.47,1198.51 572.47,1200.52" fill="#F5DEB3" stroke="#000" stroke-width="1.125" stroke-linejoin="round"/>
<line clip-path="url(#c3)" x1="295.67" x2="295.67" y1="1220.24" y2="687.81" stroke="#CD2626" stroke-width="1.5" stroke-dasharray="6 6" stroke-linecap="round"/>
<rect x="59.76" y="687.81" width="532.43" height="532.43" fill="none" stroke="#000" stroke-width="0.75"/>
<path d="M95.67 1220.24H580.52M95.67 1220.24v5.98M216.88 1220.24v5.98M338.1 1220.24v5.98M459.31 1220.24v5.98M580.52 1220.24v5.98M59.76 1200.52V740.5M59.76 1200.52h-5.98M59.76 1085.52h-5.98M59.76 970.51h-5.98M59.76 855.51h-5.98M59.76 740.5h-5.98" fill="none" stroke="#000" stroke-width="0.75" stroke-linecap="round"/>
<text x="95.87" y="1242.04" class="t">92</text>
<text x="217.08" y="1242.04" class="t">94</text>
<text x="338.3" y="1242.04" class="t">96</text>
<text x="459.51" y="1242.04" class="t">98</text>
<text x="580.72" y="1242.04" class="t">100</text>
<text transform="translate(45.26 1200.72) rotate(-90)" class="t">0<tspan class="d">.</tspan>0</text>
<text transform="translate(45.26 1085.72) rotate(-90)" class="t">0<tspan class="d">.</tspan>1</text>
<text transform="translate(45.26 970.71) rotate(-90)" class="t">0<tspan class="d">.</tspan>2</text>
<text transform="translate(45.26 855.71) rotate(-90)" class="t">0<tspan class="d">.</tspan>3</text>
<text transform="translate(45.26 740.7) rotate(-90)" class="t">0<tspan class="d">.</tspan>4</text>
<text x="325.98" y="671.6" class="m">Motif score threshold: 95.300</text>
<text x="325.98" y="1266" class="l">Motif score</text>
<text transform="translate(22 954.32) rotate(-90)" class="l">Density</text>
</g>
<g id="p4">
<clipPath id="c4"><rect x="699.76" y="687.81" width="532.43" height="532.43"/></clipPath>
<polygon points="719.48,1200.52 719.48,1199.24 720.44,1199.12 721.41,1198.99 722.37,1198.84 723.34,1198.69 724.3,1198.52 725.27,1198.34 726.23,1198.14 727.2,1197.92 728.16,1197.69 729.13,1197.44 730.09,1197.18 731.06,1196.89 732.02,1196.57 732.99,1196.24 733.95,1195.88 734.92,1195.49 735.88,1195.08 736.85,1194.63 737.81,1194.15 738.77,1193.64 739.74,1193.1 740.7,1192.51 741.67,1191.89 742.63,1191.23 743.6,1190.52 744.56,1189.76 745.53,1188.96 746.49,1188.1 747.46,1187.2 748.42,1186.23 749.39,1185.21 750.35,1184.12 751.32,1182.98 752.28,1181.76 753.25,1180.48 754.21,1179.12 755.18,1177.69 756.14,1176.18 757.11,1174.58 758.07,1172.91 759.03,1171.14 760,1169.29 760.96,1167.34 761.93,1165.3 762.89,1163.15 763.86,1160.91 764.82,1158.56 765.79,1156.1 766.75,1153.53 767.72,1150.85 768.68,1148.05 769.65,1145.14 770.61,1142.1 771.58,1138.94 772.54,1135.66 773.51,1132.25 774.47,1128.71 775.44,1125.04 776.4,1121.24 777.37,1117.3 778.33,1113.23 779.29,1109.03 780.26,1104.69 781.22,1100.22 782.19,1095.6 783.15,1090.86 784.12,1085.97 785.08,1080.96 786.05,1075.81 787.01,1070.52 787.98,1065.11 788.94,1059.57 789.91,1053.9 790.87,1048.11 791.84,1042.19 792.8,1036.16 793.77,1030.02 794.73,1023.76 795.7,1017.41 796.66,1010.94 797.63,1004.39 798.59,997.74 799.55,991.01 800.52,984.2 801.48,977.32 802.45,970.37 803.41,963.36 804.38,956.3 805.34,949.19 806.31,942.05 807.27,934.87 808.24,927.68 809.2,920.47 810.17,913.26 811.13,906.05 812.1,898.85 813.06,891.67 814.03,884.53 814.99,877.42 815.96,870.36 816.92,863.36 817.89,856.43 818.85,849.56 819.81,842.79 820.78,836.1 821.74,829.52 822.71,823.04 823.67,816.69 824.64,810.46 825.6,804.36 826.57,798.4 827.53,792.6 828.5,786.95 829.46,781.46 830.43,776.14 831.39,770.99 832.36,766.03 833.32,761.25 834.29,756.66 835.25,752.27 836.22,748.07 837.18,744.08 838.15,740.29 839.11,736.71 840.07,733.34 841.04,730.18 842,727.23 842.97,724.49 843.93,721.97 844.9,719.66 845.86,717.55 846.83,715.66 847.79,713.97 848.76,712.49 849.72,711.21 850.69,710.13 851.65,709.24 852.62,708.54 853.58,708.02 854.55,707.69 855.51,707.53 856.48,707.53 857.44,707.7 858.41,708.03 859.37,708.5 860.33,709.12 861.3,709.87 862.26,710.74 863.23,711.74 864.19,712.84 865.16,714.05 866.12,715.36 867.09,716.75 868.05,718.22 869.02,719.76 869.98,721.36 870.95,723.02 871.91,724.72 872.88,726.47 873.84,728.24 874.81,730.04 875.77,731.85 876.74,733.67 877.7,735.49 878.67,737.31 879.63,739.11 880.59,740.9 881.56,742.66 882.52,744.39 883.49,746.09 884.45,747.74 885.42,749.35 886.38,750.92 887.35,752.42 888.31,753.88 889.28,755.27 890.24,756.6 891.21,757.86 892.17,759.06 893.14,760.19 894.1,761.25 895.07,762.24 896.03,763.16 897,764.01 897.96,764.79 898.93,765.5 899.89,766.14 900.85,766.72 901.82,767.23 902.78,767.67 903.75,768.06 904.71,768.39 905.68,768.66 906.64,768.88 907.61,769.05 908.57,769.17 909.54,769.25 910.5,769.29 911.47,769.3 912.43,769.28 913.4,769.23 914.36,769.16 915.33,769.08 916.29,768.98 917.26,768.87 918.22,768.75 919.19,768.64 920.15,768.52 921.11,768.42 922.08,768.33 923.04,768.25 924.01,768.2 924.97,768.16 925.94,768.16 926.9,768.18 927.87,768.24 928.83,768.33 929.8,768.47 930.76,768.65 931.73,768.87 932.69,769.14 933.66,769.45 934.62,769.82 935.59,770.24 936.55,770.72 937.52,771.25 938.48,771.84 939.45,772.48 940.41,773.18 941.37,773.94 942.34,774.75 943.3,775.62 944.27,776.55 945.23,777.54 946.2,778.58 947.16,779.68 948.13,780.84 949.09,782.04 950.06,783.3 951.02,784.61 951.99,785.97 952.95,787.38 953.92,788.83 954.88,790.33 955.85,791.87 956.81,793.45 957.78,795.07 958.74,796.73 959.71,798.43 960.67,800.16 961.63,801.92 962.6,803.71 963.56,805.53 964.53,807.38 965.49,809.26 966.46,811.16 967.42,813.08 968.39,815.03 969.35,817 970.32,818.98 971.28,820.99 972.25,823.01 973.21,825.05 974.18,827.1 975.14,829.17 976.11,831.25 977.07,833.35 978.04,835.46 979,837.58 979.97,839.72 980.93,841.87 981.89,844.03 982.86,846.21 983.82,848.4 984.79,850.6 985.75,852.82 986.72,855.05 987.68,857.3 988.65,859.56 989.61,861.84 990.58,864.13 991.54,866.44 992.51,868.76 993.47,871.11 994.44,873.47 995.4,875.85 996.37,878.25 997.33,880.66 998.3,883.1 999.26,885.56 1000.22,888.04 1001.19,890.54 1002.15,893.07 1003.12,895.61 1004.08,898.18 1005.05,900.77 1006.01,903.38 1006.98,906.02 1007.94,908.68 1008.91,911.36 1009.87,914.06 1010.84,916.78 1011.8,919.53 1012.77,922.3 1013.73,925.09 1014.7,927.89 1015.66,930.72 1016.63,933.57 1017.59,936.44 1018.56,939.32 1019.52,942.22 1020.48,945.13 1021.45,948.06 1022.41,951 1023.38,953.96 1024.34,956.92 1025.31,959.89 1026.27,962.87 1027.24,965.86 1028.2,968.85 1029.17,971.84 1030.13,974.84 1031.1,977.83 1032.06,980.83 1033.03,983.81 1033.99,986.8 1034.96,989.77 1035.92,992.74 1036.89,995.69 1037.85,998.63 1038.82,1001.56 1039.78,1004.47 1040.74,1007.36 1041.71,1010.23 1042.67,1013.08 1043.64,1015.9 1044.6,1018.7 1045.57,1021.47 1046.53,1024.21 1047.5,1026.92 1048.46,1029.59 1049.43,1032.24 1050.39,1034.84 1051.36,1037.41 1052.32,1039.94 1053.29,1042.43 1054.25,1044.87 1055.22,1047.28 1056.18,1049.64 1057.15,1051.96 1058.11,1054.23 1059.08,1056.45 1060.04,1058.63 1061,1060.76 1061.97,1062.85 1062.93,1064.88 1063.9,1066.87 1064.86,1068.81 1065.83,1070.7 1066.79,1072.54 1067.76,1074.33 1068.72,1076.08 1069.69,1077.78 1070.65,1079.43 1071.62,1081.03 1072.58,1082.6 1073.55,1084.11 1074.51,1085.59 1075.48,1087.02 1076.44,1088.41 1077.41,1089.77 1078.37,1091.08 1079.34,1092.36 1080.3,1093.61 1081.26,1094.82 1082.23,1096 1083.19,1097.15 1084.16,1098.27 1085.12,1099.36 1086.09,1100.44 1087.05,1101.49 1088.02,1102.52 1088.98,1103.53 1089.95,1104.52 1090.91,1105.5 1091.88,1106.47 1092.84,1107.43 1093.81,1108.38 1094.77,1109.32 1095.74,1110.25 1096.7,1111.19 1097.67,1112.12 1098.63,1113.05 1099.6,1113.98 1100.56,1114.92 1101.52,1115.86 1102.49,1116.81 1103.45,1117.76 1104.42,1118.72 1105.38,1119.69 1106.35,1120.67 1107.31,1121.67 1108.28,1122.67 1109.24,1123.69 1110.21,1124.71 1111.17,1125.76 1112.14,1126.81 1113.1,1127.88 1114.07,1128.96 1115.03,1130.06 1116,1131.17 1116.96,1132.3 1117.93,1133.43 1118.89,1134.58 1119.86,1135.75 1120.82,1136.92 1121.78,1138.11 1122.75,1139.3 1123.71,1140.51 1124.68,1141.72 1125.64,1142.95 1126.61,1144.18 1127.57,1145.41 1128.54,1146.65 1129.5,1147.9 1130.47,1149.14 1131.43,1150.39 1132.4,1151.64 1133.36,1152.89 1134.33,1154.13 1135.29,1155.37 1136.26,1156.61 1137.22,1157.84 1138.19,1159.07 1139.15,1160.28 1140.12,1161.49 1141.08,1162.69 1142.04,1163.87 1143.01,1165.04 1143.97,1166.2 1144.94,1167.35 1145.9,1168.47 1146.87,1169.58 1147.83,1170.68 1148.8,1171.75 1149.76,1172.81 1150.73,1173.85 1151.69,1174.86 1152.66,1175.86 1153.62,1176.83 1154.59,1177.79 1155.55,1178.72 1156.52,1179.62 1157.48,1180.51 1158.45,1181.37 1159.41,1182.21 1160.38,1183.02 1161.34,1183.81 1162.3,1184.58 1163.27,1185.32 1164.23,1186.04 1165.2,1186.73 1166.16,1187.4 1167.13,1188.05 1168.09,1188.68 1169.06,1189.28 1170.02,1189.86 1170.99,1190.41 1171.95,1190.95 1172.92,1191.46 1173.88,1191.96 1174.85,1192.43 1175.81,1192.88 1176.78,1193.31 1177.74,1193.73 1178.71,1194.12 1179.67,1194.5 1180.64,1194.85 1181.6,1195.19 1182.56,1195.52 1183.53,1195.83 1184.49,1196.12 1185.46,1196.4 1186.42,1196.66 1187.39,1196.91 1188.35,1197.14 1189.32,1197.37 1190.28,1197.58 1191.25,1197.77 1192.21,1197.96 1193.18,1198.14 1194.14,1198.3 1195.11,1198.46 1196.07,1198.6 1197.04,1198.74 1198,1198.87 1198.97,1198.99 1199.93,1199.1 1200.9,1199.21 1201.86,1199.31 1202.82,1199.4 1203.79,1199.49 1204.75,1199.57 1205.72,1199.64 1206.68,1199.71 1207.65,1199.77 1208.61,1199.83 1209.58,1199.89 1210.54,1199.94 1211.51,1199.99 1212.47,1200.03 1212.47,1200.52" fill="#F5DEB3" stroke="#000" stroke-width="1.125" stroke-linejoin="round"/>
<path d="M713.54 1220.24H1202.35M713.54 1220.24v5.98M783.37 1220.24v5.98M853.2 1220.24v5.98M923.03 1220.24v5.98M992.86 1220.24v5.98M1062.69 1220.24v5.98M1132.52 1220.24v5.98M1202.35 1220.24v5.98M699.76 1200.52V735.49M699.76 1200.52h-5.98M699.76 1045.51h-5.98M699.76 890.5h-5.98M699.76 735.49h-5.98" fill="none" stroke="#000" stroke-width="0.75" stroke-linecap="round"/>
<text x="713.74" y="1242.04" class="t"><tspan class="h">-</tspan>800</text>
<text x="783.57" y="1242.04" class="t"><tspan class="h">-</tspan>600</text>
<text x="853.4" y="1242.04" class="t"><tspan class="h">-</tspan>400</text>
<text x="923.23" y="1242.04" class="t"><tspan class="h">-</tspan>200</text>
<text x="993.06" y="1242.04" class="t">0</text>
<text x="1062.89" y="1242.04" class="t">200</text>
<text x="1132.72" y="1242.04" class="t">400</text>
<text x="1202.55" y="1242.04" class="t">600</text>
<text transform="translate(685.26 1200.72) rotate(-90)" class="t">0<tspan class="d">.</tspan>0000</text>
<text transform="translate(685.26 1045.71) rotate(-90)" class="t">0<tspan class="d">.</tspan>0005</text>
<text transform="translate(685.26 890.7) rotate(-90)" class="t">0<tspan class="d">.</tspan>0010</text>
<text transform="translate(685.26 735.69) rotate(-90)" class="t">0<tspan class="d">.</tspan>0015</text>
<text x="965.98" y="671.6" class="m">Enrichment zone: 227.00</text>
<text x="965.98" y="1266" class="l">Distance to peak summit</text>
<text transform="translate(662 954.32) rotate(-90)" class="l">Density</text>
<line x1="1017.0" x2="1041.4" y1="703.5" y2="703.5" stroke="#006400" stroke-width="1.125" stroke-dasharray="1.125 3.375" stroke-linecap="round"/>
<line x1="1017.0" x2="1041.4" y1="719.05" y2="719.05" stroke="#CD2626" stroke-width="1.125" stroke-dasharray="1.125 3.375" stroke-linecap="round"/>
<ellipse cx="1029.2" cy="734.6" rx="3.2" ry="2.8" fill="#0000ff"/>
<text x="1052.0" y="707.90" class="g">enrichment zone = 227</text>
<text x="1052.0" y="723.95" class="g">motif score threshold = 95.300</text>
<text x="1052.0" y="739.00" class="g">centrality p-val = NS</text>
<line clip-path="url(#c4)" x1="913.6" x2="913.6" y1="1220.24" y2="687.81" stroke="#006400" stroke-width="1.5" stroke-dasharray="6 6" stroke-linecap="round"/>
<line clip-path="url(#c4)" x1="1072.12" x2="1072.12" y1="1220.24" y2="687.81" stroke="#006400" stroke-width="1.5" stroke-dasharray="6 6" stroke-linecap="round"/>
<rect x="699.76" y="687.81" width="532.43" height="532.43" fill="none" stroke="#000" stroke-width="0.75"/>
</g>
</svg>
</body>
</html>
